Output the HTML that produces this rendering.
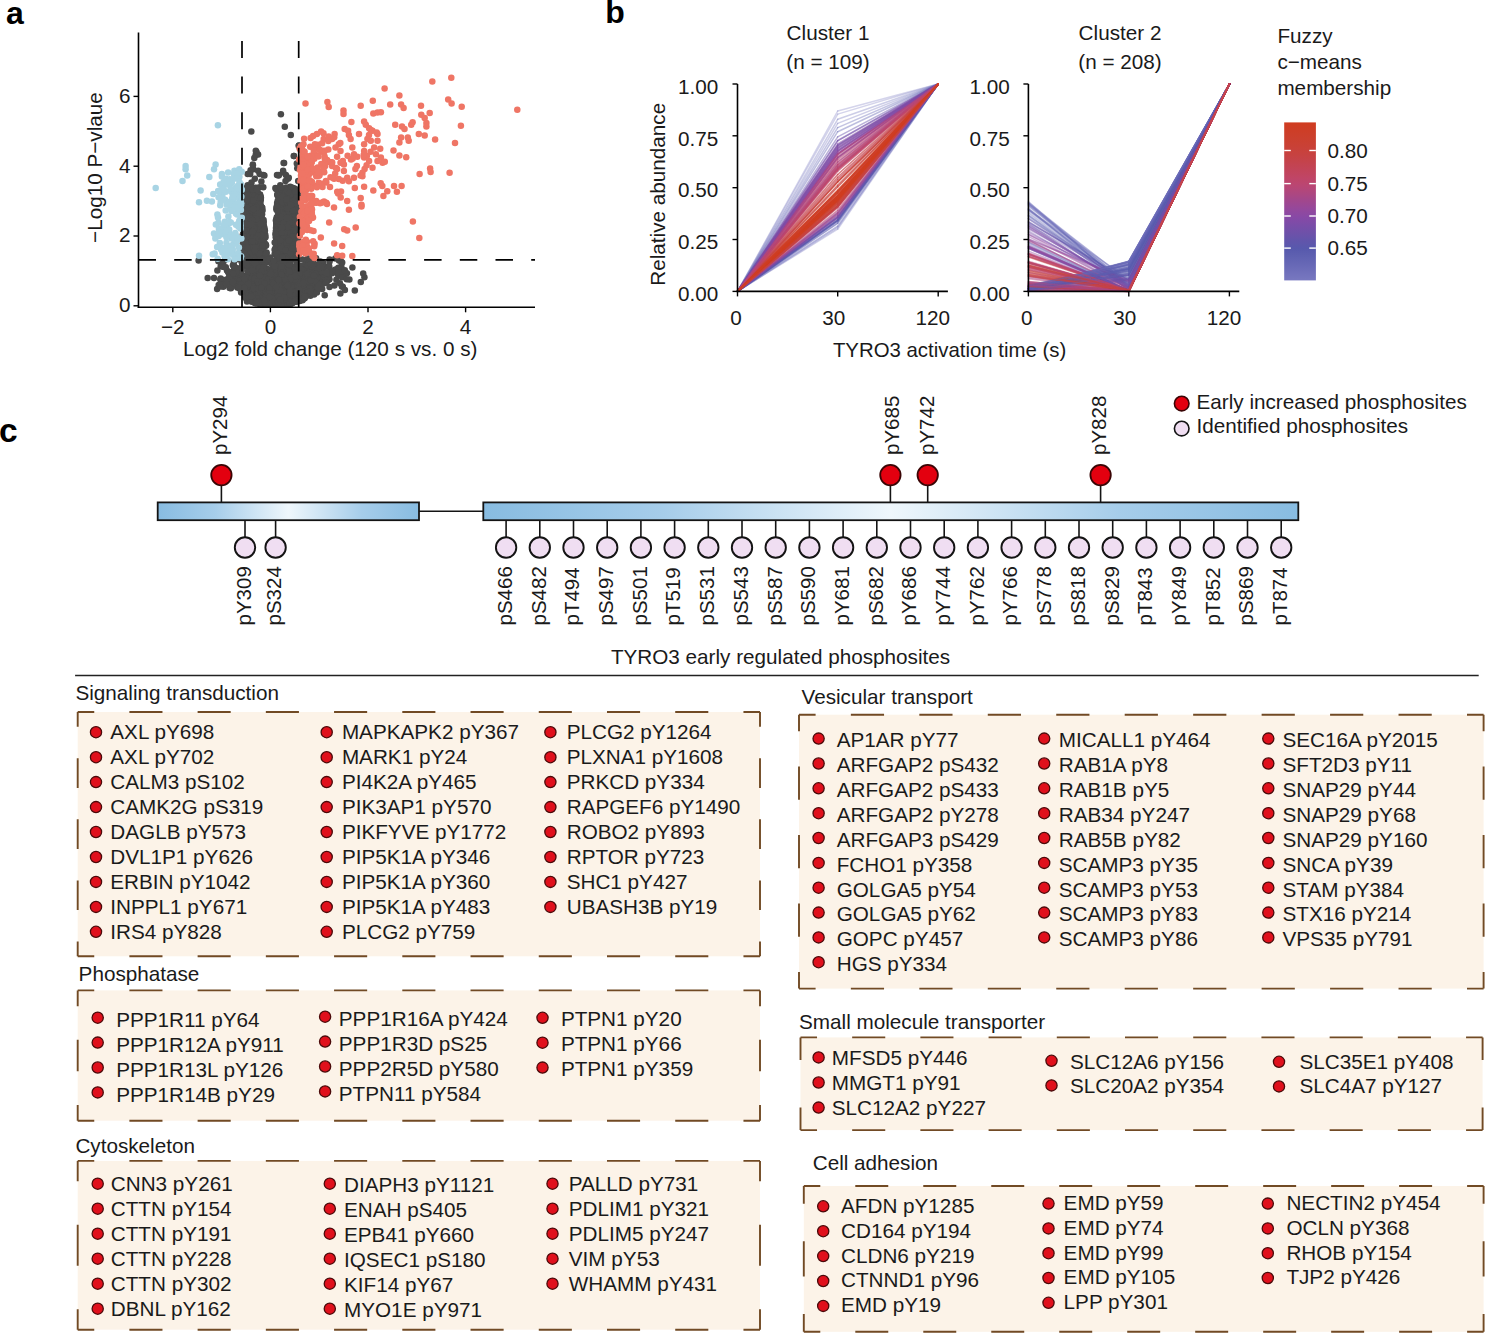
<!DOCTYPE html>
<html><head><meta charset="utf-8"><title>TYRO3 figure</title>
<style>
html,body{margin:0;padding:0;background:#fff;}
body{width:1485px;height:1334px;overflow:hidden;}
svg{display:block;font-family:"Liberation Sans", sans-serif;}
</style></head>
<body>
<svg width="1485" height="1334" viewBox="0 0 1485 1334">
<rect x="0" y="0" width="1485" height="1334" fill="#fff"/>
<defs><clipPath id="vclip"><rect x="138.5" y="22.5" width="396.5" height="284.8"/></clipPath></defs>
<g clip-path="url(#vclip)">
<g fill="#4a4a4a"><circle cx="198.6" cy="260.6" r="3.25"/><circle cx="207.7" cy="277.9" r="3.25"/><circle cx="214.0" cy="277.9" r="3.25"/><circle cx="220.3" cy="279.4" r="3.25"/><circle cx="217.1" cy="288.9" r="3.25"/><circle cx="223.4" cy="262.1" r="3.25"/><circle cx="232.9" cy="265.3" r="3.25"/><circle cx="251.3" cy="131.5" r="3.25"/><circle cx="256.5" cy="151.9" r="3.25"/><circle cx="255.7" cy="155.1" r="3.25"/><circle cx="252.9" cy="165.3" r="3.25"/><circle cx="280.9" cy="114.2" r="3.25"/><circle cx="284.8" cy="126.8" r="3.25"/><circle cx="290.8" cy="134.9" r="3.25"/><circle cx="293.8" cy="155.9" r="3.25"/><circle cx="283.6" cy="163.0" r="3.25"/><circle cx="299.0" cy="145.6" r="3.25"/><circle cx="253.3" cy="169.3" r="3.25"/><circle cx="259.6" cy="174.0" r="3.25"/><circle cx="264.4" cy="175.6" r="3.25"/><circle cx="250.2" cy="174.0" r="3.25"/><circle cx="278.5" cy="175.6" r="3.25"/><circle cx="283.2" cy="172.4" r="3.25"/><circle cx="288.0" cy="178.7" r="3.25"/><circle cx="275.4" cy="188.1" r="3.25"/><circle cx="248.6" cy="188.1" r="3.25"/><circle cx="352.4" cy="267.6" r="3.25"/><circle cx="363.2" cy="273.6" r="3.25"/><circle cx="364.4" cy="277.2" r="3.25"/><circle cx="360.8" cy="282.0" r="3.25"/><circle cx="354.8" cy="290.4" r="3.25"/><circle cx="349.4" cy="279.6" r="3.25"/><circle cx="344.0" cy="276.0" r="3.25"/><circle cx="338.0" cy="273.6" r="3.25"/><circle cx="334.4" cy="285.6" r="3.25"/><circle cx="342.8" cy="286.8" r="3.25"/><circle cx="329.6" cy="261.6" r="3.25"/><circle cx="326.0" cy="277.2" r="3.25"/><circle cx="255.8" cy="150.8" r="3.25"/><circle cx="258.1" cy="154.6" r="3.25"/><circle cx="254.3" cy="157.9" r="3.25"/><circle cx="252.9" cy="164.5" r="3.25"/><circle cx="250.6" cy="170.2" r="3.25"/><circle cx="247.7" cy="174.0" r="3.25"/><circle cx="258.1" cy="170.7" r="3.25"/><circle cx="263.3" cy="174.9" r="3.25"/><circle cx="261.4" cy="181.5" r="3.25"/><circle cx="254.8" cy="178.7" r="3.25"/><circle cx="247.7" cy="185.3" r="3.25"/><circle cx="251.5" cy="182.5" r="3.25"/><circle cx="294.0" cy="156.0" r="3.25"/><circle cx="284.1" cy="163.1" r="3.25"/><circle cx="296.8" cy="163.6" r="3.25"/><circle cx="283.1" cy="170.7" r="3.25"/><circle cx="277.0" cy="174.9" r="3.25"/><circle cx="278.9" cy="174.9" r="3.25"/><circle cx="285.9" cy="174.9" r="3.25"/><circle cx="288.8" cy="177.7" r="3.25"/><circle cx="285.5" cy="181.0" r="3.25"/><circle cx="298.2" cy="181.0" r="3.25"/><circle cx="297.3" cy="168.3" r="3.25"/><circle cx="290.2" cy="186.7" r="3.25"/><circle cx="280.3" cy="185.3" r="3.25"/><circle cx="276.0" cy="189.1" r="3.25"/><circle cx="298.7" cy="145.7" r="3.25"/><circle cx="259.5" cy="187.2" r="3.25"/><circle cx="263.3" cy="187.2" r="3.25"/><circle cx="255.3" cy="235.3" r="3.25"/><circle cx="255.2" cy="193.8" r="3.25"/><circle cx="255.2" cy="189.9" r="3.25"/><circle cx="253.1" cy="238.1" r="3.25"/><circle cx="256.1" cy="226.8" r="3.25"/><circle cx="256.4" cy="220.0" r="3.25"/><circle cx="254.9" cy="215.7" r="3.25"/><circle cx="259.6" cy="240.8" r="3.25"/><circle cx="249.2" cy="220.5" r="3.25"/><circle cx="248.1" cy="237.2" r="3.25"/><circle cx="249.6" cy="245.2" r="3.25"/><circle cx="261.3" cy="240.4" r="3.25"/><circle cx="264.0" cy="226.9" r="3.25"/><circle cx="248.6" cy="194.9" r="3.25"/><circle cx="258.3" cy="243.9" r="3.25"/><circle cx="256.3" cy="239.1" r="3.25"/><circle cx="263.1" cy="237.5" r="3.25"/><circle cx="243.0" cy="251.6" r="3.25"/><circle cx="254.8" cy="205.8" r="3.25"/><circle cx="258.6" cy="195.6" r="3.25"/><circle cx="264.0" cy="227.4" r="3.25"/><circle cx="250.9" cy="207.9" r="3.25"/><circle cx="252.0" cy="203.8" r="3.25"/><circle cx="261.6" cy="231.9" r="3.25"/><circle cx="261.3" cy="208.6" r="3.25"/><circle cx="247.1" cy="201.4" r="3.25"/><circle cx="258.7" cy="194.7" r="3.25"/><circle cx="244.9" cy="196.8" r="3.25"/><circle cx="243.7" cy="216.1" r="3.25"/><circle cx="243.8" cy="193.4" r="3.25"/><circle cx="244.3" cy="236.1" r="3.25"/><circle cx="244.8" cy="235.5" r="3.25"/><circle cx="247.0" cy="196.3" r="3.25"/><circle cx="248.7" cy="189.2" r="3.25"/><circle cx="266.1" cy="245.6" r="3.25"/><circle cx="258.6" cy="208.0" r="3.25"/><circle cx="245.1" cy="248.1" r="3.25"/><circle cx="246.2" cy="196.3" r="3.25"/><circle cx="260.0" cy="252.4" r="3.25"/><circle cx="253.3" cy="192.4" r="3.25"/><circle cx="252.3" cy="223.4" r="3.25"/><circle cx="252.7" cy="242.2" r="3.25"/><circle cx="257.3" cy="205.8" r="3.25"/><circle cx="253.6" cy="228.8" r="3.25"/><circle cx="256.8" cy="206.6" r="3.25"/><circle cx="242.9" cy="243.2" r="3.25"/><circle cx="244.5" cy="201.5" r="3.25"/><circle cx="247.0" cy="240.2" r="3.25"/><circle cx="257.0" cy="245.7" r="3.25"/><circle cx="255.1" cy="221.8" r="3.25"/><circle cx="260.4" cy="212.4" r="3.25"/><circle cx="261.7" cy="221.9" r="3.25"/><circle cx="261.3" cy="235.5" r="3.25"/><circle cx="251.0" cy="255.6" r="3.25"/><circle cx="243.8" cy="209.9" r="3.25"/><circle cx="261.0" cy="215.0" r="3.25"/><circle cx="263.3" cy="227.8" r="3.25"/><circle cx="245.5" cy="188.7" r="3.25"/><circle cx="242.7" cy="222.2" r="3.25"/><circle cx="247.0" cy="250.8" r="3.25"/><circle cx="249.5" cy="202.1" r="3.25"/><circle cx="259.7" cy="245.0" r="3.25"/><circle cx="252.6" cy="226.2" r="3.25"/><circle cx="257.6" cy="231.6" r="3.25"/><circle cx="259.8" cy="218.4" r="3.25"/><circle cx="246.0" cy="202.4" r="3.25"/><circle cx="248.6" cy="202.0" r="3.25"/><circle cx="260.1" cy="194.6" r="3.25"/><circle cx="253.1" cy="203.9" r="3.25"/><circle cx="254.6" cy="247.0" r="3.25"/><circle cx="256.5" cy="254.7" r="3.25"/><circle cx="254.0" cy="215.1" r="3.25"/><circle cx="256.2" cy="197.6" r="3.25"/><circle cx="255.5" cy="187.7" r="3.25"/><circle cx="256.3" cy="225.6" r="3.25"/><circle cx="255.7" cy="215.0" r="3.25"/><circle cx="256.4" cy="242.8" r="3.25"/><circle cx="248.0" cy="231.2" r="3.25"/><circle cx="259.0" cy="221.5" r="3.25"/><circle cx="247.7" cy="257.3" r="3.25"/><circle cx="248.7" cy="239.5" r="3.25"/><circle cx="249.8" cy="219.6" r="3.25"/><circle cx="253.8" cy="219.7" r="3.25"/><circle cx="259.0" cy="209.1" r="3.25"/><circle cx="249.8" cy="209.9" r="3.25"/><circle cx="253.6" cy="194.1" r="3.25"/><circle cx="252.2" cy="226.9" r="3.25"/><circle cx="252.6" cy="230.0" r="3.25"/><circle cx="263.5" cy="222.8" r="3.25"/><circle cx="257.0" cy="227.9" r="3.25"/><circle cx="243.0" cy="234.0" r="3.25"/><circle cx="257.5" cy="191.9" r="3.25"/><circle cx="252.6" cy="208.3" r="3.25"/><circle cx="264.0" cy="227.5" r="3.25"/><circle cx="245.7" cy="191.6" r="3.25"/><circle cx="260.3" cy="195.9" r="3.25"/><circle cx="259.1" cy="254.3" r="3.25"/><circle cx="256.4" cy="228.5" r="3.25"/><circle cx="252.3" cy="204.4" r="3.25"/><circle cx="262.2" cy="211.1" r="3.25"/><circle cx="262.3" cy="239.5" r="3.25"/><circle cx="251.7" cy="188.3" r="3.25"/><circle cx="250.0" cy="205.3" r="3.25"/><circle cx="251.9" cy="243.1" r="3.25"/><circle cx="252.3" cy="211.8" r="3.25"/><circle cx="246.4" cy="216.7" r="3.25"/><circle cx="247.9" cy="231.1" r="3.25"/><circle cx="255.2" cy="200.0" r="3.25"/><circle cx="257.9" cy="206.8" r="3.25"/><circle cx="260.9" cy="209.9" r="3.25"/><circle cx="246.0" cy="223.9" r="3.25"/><circle cx="249.4" cy="227.2" r="3.25"/><circle cx="247.2" cy="249.7" r="3.25"/><circle cx="255.4" cy="212.9" r="3.25"/><circle cx="249.8" cy="241.2" r="3.25"/><circle cx="249.7" cy="228.5" r="3.25"/><circle cx="244.6" cy="192.4" r="3.25"/><circle cx="259.6" cy="225.6" r="3.25"/><circle cx="263.5" cy="229.7" r="3.25"/><circle cx="245.7" cy="235.5" r="3.25"/><circle cx="254.9" cy="253.6" r="3.25"/><circle cx="262.2" cy="252.1" r="3.25"/><circle cx="260.9" cy="218.2" r="3.25"/><circle cx="250.4" cy="228.2" r="3.25"/><circle cx="246.2" cy="188.3" r="3.25"/><circle cx="256.9" cy="197.3" r="3.25"/><circle cx="256.0" cy="198.7" r="3.25"/><circle cx="251.2" cy="223.8" r="3.25"/><circle cx="265.5" cy="237.3" r="3.25"/><circle cx="255.2" cy="192.4" r="3.25"/><circle cx="256.1" cy="239.9" r="3.25"/><circle cx="255.7" cy="227.7" r="3.25"/><circle cx="244.4" cy="227.5" r="3.25"/><circle cx="260.8" cy="199.9" r="3.25"/><circle cx="268.0" cy="258.2" r="3.25"/><circle cx="245.7" cy="197.6" r="3.25"/><circle cx="258.5" cy="214.8" r="3.25"/><circle cx="257.1" cy="253.0" r="3.25"/><circle cx="251.3" cy="226.1" r="3.25"/><circle cx="254.1" cy="203.3" r="3.25"/><circle cx="244.9" cy="203.2" r="3.25"/><circle cx="249.2" cy="192.2" r="3.25"/><circle cx="248.9" cy="193.1" r="3.25"/><circle cx="255.1" cy="195.2" r="3.25"/><circle cx="251.8" cy="189.2" r="3.25"/><circle cx="243.2" cy="222.9" r="3.25"/><circle cx="248.3" cy="205.6" r="3.25"/><circle cx="250.5" cy="212.8" r="3.25"/><circle cx="250.8" cy="231.5" r="3.25"/><circle cx="260.7" cy="234.5" r="3.25"/><circle cx="256.9" cy="191.8" r="3.25"/><circle cx="263.2" cy="222.8" r="3.25"/><circle cx="263.9" cy="231.5" r="3.25"/><circle cx="251.4" cy="191.3" r="3.25"/><circle cx="253.0" cy="196.1" r="3.25"/><circle cx="258.1" cy="257.8" r="3.25"/><circle cx="254.2" cy="233.9" r="3.25"/><circle cx="243.4" cy="195.9" r="3.25"/><circle cx="244.7" cy="202.1" r="3.25"/><circle cx="258.9" cy="213.2" r="3.25"/><circle cx="256.2" cy="194.4" r="3.25"/><circle cx="250.0" cy="241.6" r="3.25"/><circle cx="246.4" cy="200.8" r="3.25"/><circle cx="257.2" cy="257.6" r="3.25"/><circle cx="262.4" cy="237.4" r="3.25"/><circle cx="243.7" cy="216.5" r="3.25"/><circle cx="257.8" cy="237.9" r="3.25"/><circle cx="247.7" cy="231.3" r="3.25"/><circle cx="248.9" cy="249.3" r="3.25"/><circle cx="251.3" cy="206.1" r="3.25"/><circle cx="246.6" cy="245.6" r="3.25"/><circle cx="258.4" cy="218.8" r="3.25"/><circle cx="244.7" cy="226.3" r="3.25"/><circle cx="251.7" cy="194.2" r="3.25"/><circle cx="259.2" cy="250.7" r="3.25"/><circle cx="259.6" cy="213.0" r="3.25"/><circle cx="253.3" cy="203.4" r="3.25"/><circle cx="246.0" cy="191.0" r="3.25"/><circle cx="261.6" cy="238.6" r="3.25"/><circle cx="264.3" cy="236.1" r="3.25"/><circle cx="243.2" cy="214.1" r="3.25"/><circle cx="260.7" cy="206.4" r="3.25"/><circle cx="255.6" cy="216.1" r="3.25"/><circle cx="255.8" cy="227.0" r="3.25"/><circle cx="251.8" cy="241.7" r="3.25"/><circle cx="246.7" cy="255.8" r="3.25"/><circle cx="254.8" cy="211.1" r="3.25"/><circle cx="262.4" cy="229.4" r="3.25"/><circle cx="243.1" cy="212.3" r="3.25"/><circle cx="255.5" cy="237.3" r="3.25"/><circle cx="259.1" cy="259.3" r="3.25"/><circle cx="261.6" cy="214.6" r="3.25"/><circle cx="242.9" cy="240.5" r="3.25"/><circle cx="249.8" cy="203.3" r="3.25"/><circle cx="246.0" cy="190.9" r="3.25"/><circle cx="250.7" cy="260.4" r="3.25"/><circle cx="264.7" cy="246.6" r="3.25"/><circle cx="246.1" cy="204.3" r="3.25"/><circle cx="250.1" cy="217.0" r="3.25"/><circle cx="259.4" cy="212.2" r="3.25"/><circle cx="257.1" cy="202.8" r="3.25"/><circle cx="264.5" cy="242.7" r="3.25"/><circle cx="245.3" cy="223.1" r="3.25"/><circle cx="244.0" cy="196.5" r="3.25"/><circle cx="246.9" cy="194.3" r="3.25"/><circle cx="255.1" cy="253.8" r="3.25"/><circle cx="257.0" cy="219.3" r="3.25"/><circle cx="244.9" cy="204.7" r="3.25"/><circle cx="258.4" cy="254.0" r="3.25"/><circle cx="247.3" cy="218.4" r="3.25"/><circle cx="262.1" cy="210.7" r="3.25"/><circle cx="254.1" cy="214.9" r="3.25"/><circle cx="246.1" cy="255.7" r="3.25"/><circle cx="258.7" cy="202.7" r="3.25"/><circle cx="252.6" cy="211.7" r="3.25"/><circle cx="259.3" cy="223.8" r="3.25"/><circle cx="254.7" cy="229.6" r="3.25"/><circle cx="260.1" cy="207.0" r="3.25"/><circle cx="248.3" cy="211.9" r="3.25"/><circle cx="263.9" cy="225.9" r="3.25"/><circle cx="243.0" cy="211.9" r="3.25"/><circle cx="251.0" cy="228.1" r="3.25"/><circle cx="245.9" cy="217.2" r="3.25"/><circle cx="262.3" cy="207.7" r="3.25"/><circle cx="243.0" cy="211.3" r="3.25"/><circle cx="248.1" cy="201.4" r="3.25"/><circle cx="251.3" cy="228.7" r="3.25"/><circle cx="244.2" cy="226.5" r="3.25"/><circle cx="260.9" cy="207.9" r="3.25"/><circle cx="257.8" cy="206.4" r="3.25"/><circle cx="253.8" cy="215.3" r="3.25"/><circle cx="252.9" cy="255.7" r="3.25"/><circle cx="246.8" cy="221.5" r="3.25"/><circle cx="245.9" cy="209.0" r="3.25"/><circle cx="250.2" cy="190.4" r="3.25"/><circle cx="253.8" cy="195.0" r="3.25"/><circle cx="264.6" cy="259.4" r="3.25"/><circle cx="248.6" cy="187.6" r="3.25"/><circle cx="260.6" cy="216.4" r="3.25"/><circle cx="254.1" cy="191.4" r="3.25"/><circle cx="245.9" cy="215.1" r="3.25"/><circle cx="243.3" cy="239.4" r="3.25"/><circle cx="243.4" cy="194.2" r="3.25"/><circle cx="263.4" cy="222.0" r="3.25"/><circle cx="247.3" cy="194.0" r="3.25"/><circle cx="244.2" cy="249.4" r="3.25"/><circle cx="255.6" cy="206.5" r="3.25"/><circle cx="248.0" cy="205.5" r="3.25"/><circle cx="262.7" cy="220.2" r="3.25"/><circle cx="255.1" cy="198.0" r="3.25"/><circle cx="261.2" cy="217.5" r="3.25"/><circle cx="258.9" cy="252.0" r="3.25"/><circle cx="259.7" cy="237.2" r="3.25"/><circle cx="251.2" cy="197.4" r="3.25"/><circle cx="251.9" cy="225.1" r="3.25"/><circle cx="259.4" cy="221.2" r="3.25"/><circle cx="247.2" cy="253.8" r="3.25"/><circle cx="244.1" cy="228.8" r="3.25"/><circle cx="259.6" cy="197.4" r="3.25"/><circle cx="249.7" cy="196.2" r="3.25"/><circle cx="257.0" cy="258.4" r="3.25"/><circle cx="251.1" cy="221.7" r="3.25"/><circle cx="255.4" cy="191.4" r="3.25"/><circle cx="256.1" cy="192.1" r="3.25"/><circle cx="247.7" cy="188.2" r="3.25"/><circle cx="260.3" cy="233.8" r="3.25"/><circle cx="248.5" cy="195.5" r="3.25"/><circle cx="253.7" cy="204.2" r="3.25"/><circle cx="252.2" cy="207.2" r="3.25"/><circle cx="263.7" cy="251.7" r="3.25"/><circle cx="250.4" cy="197.7" r="3.25"/><circle cx="263.1" cy="250.9" r="3.25"/><circle cx="262.7" cy="220.2" r="3.25"/><circle cx="256.2" cy="240.0" r="3.25"/><circle cx="255.9" cy="189.9" r="3.25"/><circle cx="259.7" cy="201.9" r="3.25"/><circle cx="246.9" cy="200.1" r="3.25"/><circle cx="251.3" cy="202.1" r="3.25"/><circle cx="264.4" cy="245.5" r="3.25"/><circle cx="257.9" cy="209.5" r="3.25"/><circle cx="258.1" cy="195.4" r="3.25"/><circle cx="258.2" cy="260.4" r="3.25"/><circle cx="250.8" cy="222.1" r="3.25"/><circle cx="256.6" cy="193.2" r="3.25"/><circle cx="249.9" cy="219.7" r="3.25"/><circle cx="256.3" cy="240.1" r="3.25"/><circle cx="247.7" cy="244.3" r="3.25"/><circle cx="251.4" cy="226.4" r="3.25"/><circle cx="250.9" cy="195.7" r="3.25"/><circle cx="244.9" cy="214.4" r="3.25"/><circle cx="245.2" cy="254.1" r="3.25"/><circle cx="260.9" cy="214.0" r="3.25"/><circle cx="265.3" cy="234.9" r="3.25"/><circle cx="246.2" cy="227.7" r="3.25"/><circle cx="251.8" cy="252.8" r="3.25"/><circle cx="257.0" cy="219.9" r="3.25"/><circle cx="245.3" cy="199.8" r="3.25"/><circle cx="244.0" cy="225.2" r="3.25"/><circle cx="260.1" cy="202.2" r="3.25"/><circle cx="248.9" cy="228.2" r="3.25"/><circle cx="266.5" cy="252.4" r="3.25"/><circle cx="254.3" cy="231.0" r="3.25"/><circle cx="256.0" cy="233.0" r="3.25"/><circle cx="254.6" cy="228.1" r="3.25"/><circle cx="254.3" cy="235.6" r="3.25"/><circle cx="248.3" cy="220.9" r="3.25"/><circle cx="257.6" cy="242.9" r="3.25"/><circle cx="250.8" cy="197.6" r="3.25"/><circle cx="259.2" cy="204.9" r="3.25"/><circle cx="248.5" cy="190.6" r="3.25"/><circle cx="246.3" cy="201.0" r="3.25"/><circle cx="258.6" cy="196.6" r="3.25"/><circle cx="252.7" cy="199.0" r="3.25"/><circle cx="247.9" cy="236.9" r="3.25"/><circle cx="256.9" cy="195.8" r="3.25"/><circle cx="249.2" cy="236.2" r="3.25"/><circle cx="261.1" cy="258.7" r="3.25"/><circle cx="256.9" cy="224.9" r="3.25"/><circle cx="248.2" cy="201.1" r="3.25"/><circle cx="258.4" cy="249.1" r="3.25"/><circle cx="254.5" cy="246.4" r="3.25"/><circle cx="243.3" cy="238.2" r="3.25"/><circle cx="262.3" cy="209.9" r="3.25"/><circle cx="247.5" cy="197.5" r="3.25"/><circle cx="249.7" cy="195.5" r="3.25"/><circle cx="263.6" cy="242.5" r="3.25"/><circle cx="254.5" cy="191.0" r="3.25"/><circle cx="245.8" cy="197.3" r="3.25"/><circle cx="257.7" cy="239.8" r="3.25"/><circle cx="243.0" cy="203.1" r="3.25"/><circle cx="257.4" cy="206.3" r="3.25"/><circle cx="254.0" cy="198.3" r="3.25"/><circle cx="259.0" cy="250.0" r="3.25"/><circle cx="256.3" cy="244.0" r="3.25"/><circle cx="249.8" cy="212.7" r="3.25"/><circle cx="259.3" cy="256.3" r="3.25"/><circle cx="252.9" cy="228.7" r="3.25"/><circle cx="260.5" cy="242.5" r="3.25"/><circle cx="243.4" cy="235.4" r="3.25"/><circle cx="248.0" cy="191.4" r="3.25"/><circle cx="246.0" cy="222.8" r="3.25"/><circle cx="254.4" cy="236.2" r="3.25"/><circle cx="257.9" cy="248.8" r="3.25"/><circle cx="246.7" cy="196.7" r="3.25"/><circle cx="262.1" cy="214.2" r="3.25"/><circle cx="249.6" cy="199.1" r="3.25"/><circle cx="242.9" cy="235.9" r="3.25"/><circle cx="260.5" cy="249.2" r="3.25"/><circle cx="245.0" cy="222.2" r="3.25"/><circle cx="242.9" cy="198.6" r="3.25"/><circle cx="249.3" cy="236.2" r="3.25"/><circle cx="253.6" cy="238.9" r="3.25"/><circle cx="248.0" cy="189.4" r="3.25"/><circle cx="250.6" cy="246.4" r="3.25"/><circle cx="245.3" cy="214.7" r="3.25"/><circle cx="249.4" cy="191.7" r="3.25"/><circle cx="258.3" cy="206.5" r="3.25"/><circle cx="248.4" cy="196.7" r="3.25"/><circle cx="254.2" cy="207.6" r="3.25"/><circle cx="247.0" cy="219.0" r="3.25"/><circle cx="245.3" cy="227.5" r="3.25"/><circle cx="248.5" cy="196.5" r="3.25"/><circle cx="243.4" cy="244.5" r="3.25"/><circle cx="252.2" cy="210.5" r="3.25"/><circle cx="260.4" cy="254.8" r="3.25"/><circle cx="251.0" cy="208.6" r="3.25"/><circle cx="247.7" cy="233.1" r="3.25"/><circle cx="248.7" cy="199.4" r="3.25"/><circle cx="261.4" cy="233.9" r="3.25"/><circle cx="247.8" cy="223.6" r="3.25"/><circle cx="250.3" cy="238.2" r="3.25"/><circle cx="260.0" cy="255.0" r="3.25"/><circle cx="248.3" cy="233.8" r="3.25"/><circle cx="256.3" cy="188.0" r="3.25"/><circle cx="246.6" cy="236.5" r="3.25"/><circle cx="243.2" cy="258.7" r="3.25"/><circle cx="252.1" cy="228.9" r="3.25"/><circle cx="256.0" cy="250.1" r="3.25"/><circle cx="256.5" cy="247.7" r="3.25"/><circle cx="249.2" cy="213.5" r="3.25"/><circle cx="258.4" cy="211.2" r="3.25"/><circle cx="258.7" cy="200.8" r="3.25"/><circle cx="253.8" cy="234.1" r="3.25"/><circle cx="263.5" cy="256.4" r="3.25"/><circle cx="257.9" cy="200.5" r="3.25"/><circle cx="246.2" cy="212.2" r="3.25"/><circle cx="246.5" cy="189.9" r="3.25"/><circle cx="245.3" cy="216.2" r="3.25"/><circle cx="244.6" cy="235.9" r="3.25"/><circle cx="261.2" cy="242.9" r="3.25"/><circle cx="250.1" cy="187.5" r="3.25"/><circle cx="245.4" cy="206.0" r="3.25"/><circle cx="253.4" cy="205.7" r="3.25"/><circle cx="248.3" cy="203.3" r="3.25"/><circle cx="243.7" cy="246.6" r="3.25"/><circle cx="250.5" cy="201.0" r="3.25"/><circle cx="261.2" cy="230.8" r="3.25"/><circle cx="258.5" cy="231.0" r="3.25"/><circle cx="263.6" cy="220.0" r="3.25"/><circle cx="252.8" cy="221.9" r="3.25"/><circle cx="265.8" cy="244.4" r="3.25"/><circle cx="251.6" cy="239.9" r="3.25"/><circle cx="251.4" cy="190.6" r="3.25"/><circle cx="260.7" cy="245.8" r="3.25"/><circle cx="250.9" cy="187.7" r="3.25"/><circle cx="246.3" cy="227.7" r="3.25"/><circle cx="258.5" cy="229.5" r="3.25"/><circle cx="261.6" cy="215.1" r="3.25"/><circle cx="250.4" cy="225.8" r="3.25"/><circle cx="251.0" cy="211.2" r="3.25"/><circle cx="248.8" cy="190.3" r="3.25"/><circle cx="256.4" cy="209.4" r="3.25"/><circle cx="252.1" cy="203.1" r="3.25"/><circle cx="247.4" cy="217.1" r="3.25"/><circle cx="261.1" cy="213.3" r="3.25"/><circle cx="246.0" cy="187.8" r="3.25"/><circle cx="262.5" cy="242.0" r="3.25"/><circle cx="258.0" cy="193.6" r="3.25"/><circle cx="244.9" cy="246.3" r="3.25"/><circle cx="243.0" cy="235.0" r="3.25"/><circle cx="254.8" cy="199.2" r="3.25"/><circle cx="255.0" cy="219.6" r="3.25"/><circle cx="246.5" cy="230.5" r="3.25"/><circle cx="250.6" cy="188.7" r="3.25"/><circle cx="244.7" cy="222.1" r="3.25"/><circle cx="252.0" cy="232.4" r="3.25"/><circle cx="254.3" cy="228.4" r="3.25"/><circle cx="265.2" cy="254.7" r="3.25"/><circle cx="251.9" cy="249.8" r="3.25"/><circle cx="246.4" cy="243.9" r="3.25"/><circle cx="266.5" cy="253.4" r="3.25"/><circle cx="255.6" cy="212.8" r="3.25"/><circle cx="245.3" cy="209.8" r="3.25"/><circle cx="243.9" cy="230.7" r="3.25"/><circle cx="249.7" cy="194.6" r="3.25"/><circle cx="248.5" cy="247.8" r="3.25"/><circle cx="249.7" cy="203.6" r="3.25"/><circle cx="248.1" cy="210.6" r="3.25"/><circle cx="263.1" cy="230.2" r="3.25"/><circle cx="261.3" cy="235.3" r="3.25"/><circle cx="259.4" cy="253.2" r="3.25"/><circle cx="244.4" cy="209.1" r="3.25"/><circle cx="261.5" cy="242.6" r="3.25"/><circle cx="250.0" cy="194.6" r="3.25"/><circle cx="260.6" cy="215.1" r="3.25"/><circle cx="243.8" cy="246.1" r="3.25"/><circle cx="246.1" cy="243.2" r="3.25"/><circle cx="245.4" cy="223.5" r="3.25"/><circle cx="258.3" cy="202.0" r="3.25"/><circle cx="261.5" cy="207.0" r="3.25"/><circle cx="257.9" cy="213.3" r="3.25"/><circle cx="250.2" cy="248.3" r="3.25"/><circle cx="243.7" cy="220.1" r="3.25"/><circle cx="260.6" cy="197.1" r="3.25"/><circle cx="246.0" cy="207.3" r="3.25"/><circle cx="260.2" cy="224.0" r="3.25"/><circle cx="251.7" cy="203.1" r="3.25"/><circle cx="251.0" cy="251.5" r="3.25"/><circle cx="250.7" cy="205.9" r="3.25"/><circle cx="244.6" cy="259.6" r="3.25"/><circle cx="245.1" cy="223.3" r="3.25"/><circle cx="256.7" cy="190.0" r="3.25"/><circle cx="251.3" cy="202.6" r="3.25"/><circle cx="256.8" cy="218.9" r="3.25"/><circle cx="249.6" cy="218.2" r="3.25"/><circle cx="251.2" cy="188.1" r="3.25"/><circle cx="257.5" cy="197.6" r="3.25"/><circle cx="257.5" cy="235.3" r="3.25"/><circle cx="250.6" cy="209.6" r="3.25"/><circle cx="253.0" cy="231.4" r="3.25"/><circle cx="264.8" cy="230.8" r="3.25"/><circle cx="243.3" cy="236.3" r="3.25"/><circle cx="250.1" cy="193.0" r="3.25"/><circle cx="245.3" cy="218.2" r="3.25"/><circle cx="244.8" cy="222.3" r="3.25"/><circle cx="243.6" cy="208.0" r="3.25"/><circle cx="257.0" cy="197.7" r="3.25"/><circle cx="250.9" cy="190.0" r="3.25"/><circle cx="255.5" cy="239.0" r="3.25"/><circle cx="249.2" cy="187.8" r="3.25"/><circle cx="250.4" cy="206.8" r="3.25"/><circle cx="251.0" cy="197.0" r="3.25"/><circle cx="262.7" cy="245.4" r="3.25"/><circle cx="244.3" cy="197.7" r="3.25"/><circle cx="246.0" cy="196.5" r="3.25"/><circle cx="246.6" cy="190.9" r="3.25"/><circle cx="252.0" cy="210.6" r="3.25"/><circle cx="251.7" cy="199.8" r="3.25"/><circle cx="256.4" cy="211.0" r="3.25"/><circle cx="264.9" cy="230.8" r="3.25"/><circle cx="260.5" cy="204.3" r="3.25"/><circle cx="247.4" cy="207.7" r="3.25"/><circle cx="252.4" cy="243.5" r="3.25"/><circle cx="252.3" cy="194.4" r="3.25"/><circle cx="258.6" cy="210.9" r="3.25"/><circle cx="252.9" cy="209.0" r="3.25"/><circle cx="246.4" cy="191.2" r="3.25"/><circle cx="243.8" cy="247.8" r="3.25"/><circle cx="249.0" cy="194.2" r="3.25"/><circle cx="253.0" cy="189.7" r="3.25"/><circle cx="246.5" cy="224.3" r="3.25"/><circle cx="252.3" cy="220.2" r="3.25"/><circle cx="251.7" cy="241.4" r="3.25"/><circle cx="257.0" cy="188.4" r="3.25"/><circle cx="256.5" cy="207.5" r="3.25"/><circle cx="264.4" cy="229.3" r="3.25"/><circle cx="255.3" cy="248.0" r="3.25"/><circle cx="254.8" cy="250.6" r="3.25"/><circle cx="260.9" cy="197.8" r="3.25"/><circle cx="251.5" cy="224.1" r="3.25"/><circle cx="253.7" cy="209.1" r="3.25"/><circle cx="243.0" cy="203.5" r="3.25"/><circle cx="246.1" cy="217.3" r="3.25"/><circle cx="248.0" cy="195.2" r="3.25"/><circle cx="247.2" cy="198.9" r="3.25"/><circle cx="252.9" cy="241.2" r="3.25"/><circle cx="256.9" cy="189.8" r="3.25"/><circle cx="247.7" cy="247.8" r="3.25"/><circle cx="243.6" cy="212.4" r="3.25"/><circle cx="253.3" cy="200.5" r="3.25"/><circle cx="292.8" cy="257.4" r="3.25"/><circle cx="290.8" cy="254.9" r="3.25"/><circle cx="286.8" cy="199.3" r="3.25"/><circle cx="276.8" cy="234.0" r="3.25"/><circle cx="295.3" cy="206.7" r="3.25"/><circle cx="294.8" cy="188.8" r="3.25"/><circle cx="293.8" cy="196.3" r="3.25"/><circle cx="293.0" cy="220.7" r="3.25"/><circle cx="295.5" cy="236.3" r="3.25"/><circle cx="295.4" cy="217.5" r="3.25"/><circle cx="286.7" cy="209.8" r="3.25"/><circle cx="283.7" cy="251.0" r="3.25"/><circle cx="285.7" cy="231.6" r="3.25"/><circle cx="278.7" cy="222.6" r="3.25"/><circle cx="279.1" cy="245.3" r="3.25"/><circle cx="291.4" cy="208.0" r="3.25"/><circle cx="292.3" cy="226.2" r="3.25"/><circle cx="291.6" cy="199.8" r="3.25"/><circle cx="289.0" cy="208.4" r="3.25"/><circle cx="280.1" cy="201.0" r="3.25"/><circle cx="284.3" cy="218.8" r="3.25"/><circle cx="297.2" cy="201.5" r="3.25"/><circle cx="297.1" cy="228.5" r="3.25"/><circle cx="283.9" cy="190.6" r="3.25"/><circle cx="284.1" cy="222.2" r="3.25"/><circle cx="280.4" cy="207.6" r="3.25"/><circle cx="284.6" cy="196.0" r="3.25"/><circle cx="285.4" cy="235.0" r="3.25"/><circle cx="281.8" cy="229.9" r="3.25"/><circle cx="296.1" cy="234.4" r="3.25"/><circle cx="277.1" cy="230.8" r="3.25"/><circle cx="285.8" cy="213.9" r="3.25"/><circle cx="276.8" cy="233.6" r="3.25"/><circle cx="284.2" cy="210.3" r="3.25"/><circle cx="292.5" cy="190.0" r="3.25"/><circle cx="277.8" cy="226.5" r="3.25"/><circle cx="288.8" cy="217.6" r="3.25"/><circle cx="289.0" cy="201.2" r="3.25"/><circle cx="288.9" cy="205.5" r="3.25"/><circle cx="287.2" cy="213.3" r="3.25"/><circle cx="290.0" cy="204.9" r="3.25"/><circle cx="283.6" cy="189.7" r="3.25"/><circle cx="280.7" cy="248.5" r="3.25"/><circle cx="293.2" cy="221.6" r="3.25"/><circle cx="278.6" cy="248.7" r="3.25"/><circle cx="294.0" cy="256.0" r="3.25"/><circle cx="296.0" cy="209.4" r="3.25"/><circle cx="288.0" cy="247.0" r="3.25"/><circle cx="281.4" cy="239.9" r="3.25"/><circle cx="285.3" cy="232.3" r="3.25"/><circle cx="287.2" cy="225.4" r="3.25"/><circle cx="290.9" cy="253.5" r="3.25"/><circle cx="296.8" cy="229.4" r="3.25"/><circle cx="285.7" cy="207.8" r="3.25"/><circle cx="279.4" cy="247.1" r="3.25"/><circle cx="282.9" cy="216.6" r="3.25"/><circle cx="297.0" cy="245.7" r="3.25"/><circle cx="279.2" cy="255.7" r="3.25"/><circle cx="282.2" cy="200.9" r="3.25"/><circle cx="276.6" cy="218.7" r="3.25"/><circle cx="288.9" cy="255.5" r="3.25"/><circle cx="285.5" cy="254.1" r="3.25"/><circle cx="294.3" cy="212.9" r="3.25"/><circle cx="290.0" cy="228.4" r="3.25"/><circle cx="290.1" cy="242.2" r="3.25"/><circle cx="291.5" cy="196.3" r="3.25"/><circle cx="285.7" cy="233.3" r="3.25"/><circle cx="281.7" cy="243.0" r="3.25"/><circle cx="274.6" cy="254.0" r="3.25"/><circle cx="284.8" cy="218.0" r="3.25"/><circle cx="276.8" cy="206.2" r="3.25"/><circle cx="280.5" cy="223.9" r="3.25"/><circle cx="284.9" cy="200.2" r="3.25"/><circle cx="287.5" cy="221.4" r="3.25"/><circle cx="286.1" cy="187.4" r="3.25"/><circle cx="281.3" cy="204.3" r="3.25"/><circle cx="292.5" cy="237.3" r="3.25"/><circle cx="283.3" cy="208.4" r="3.25"/><circle cx="284.0" cy="210.5" r="3.25"/><circle cx="279.7" cy="249.0" r="3.25"/><circle cx="279.2" cy="192.3" r="3.25"/><circle cx="292.8" cy="217.6" r="3.25"/><circle cx="286.3" cy="208.7" r="3.25"/><circle cx="287.9" cy="233.3" r="3.25"/><circle cx="295.3" cy="226.6" r="3.25"/><circle cx="294.1" cy="188.6" r="3.25"/><circle cx="288.9" cy="216.6" r="3.25"/><circle cx="297.0" cy="229.2" r="3.25"/><circle cx="288.4" cy="202.4" r="3.25"/><circle cx="295.5" cy="231.7" r="3.25"/><circle cx="285.9" cy="237.3" r="3.25"/><circle cx="282.0" cy="212.8" r="3.25"/><circle cx="286.3" cy="247.0" r="3.25"/><circle cx="277.8" cy="259.5" r="3.25"/><circle cx="285.1" cy="195.9" r="3.25"/><circle cx="281.4" cy="209.3" r="3.25"/><circle cx="286.6" cy="195.8" r="3.25"/><circle cx="277.3" cy="232.7" r="3.25"/><circle cx="284.7" cy="251.6" r="3.25"/><circle cx="288.2" cy="240.1" r="3.25"/><circle cx="298.0" cy="209.4" r="3.25"/><circle cx="298.1" cy="234.9" r="3.25"/><circle cx="290.8" cy="207.5" r="3.25"/><circle cx="285.7" cy="231.2" r="3.25"/><circle cx="292.6" cy="220.1" r="3.25"/><circle cx="296.5" cy="202.7" r="3.25"/><circle cx="291.6" cy="202.2" r="3.25"/><circle cx="280.8" cy="201.3" r="3.25"/><circle cx="289.2" cy="232.5" r="3.25"/><circle cx="286.6" cy="235.6" r="3.25"/><circle cx="296.3" cy="232.5" r="3.25"/><circle cx="290.5" cy="232.2" r="3.25"/><circle cx="297.5" cy="216.9" r="3.25"/><circle cx="276.3" cy="231.5" r="3.25"/><circle cx="291.2" cy="236.6" r="3.25"/><circle cx="279.6" cy="247.7" r="3.25"/><circle cx="285.7" cy="242.2" r="3.25"/><circle cx="294.8" cy="212.7" r="3.25"/><circle cx="298.1" cy="241.0" r="3.25"/><circle cx="280.2" cy="236.7" r="3.25"/><circle cx="295.1" cy="213.4" r="3.25"/><circle cx="278.7" cy="220.9" r="3.25"/><circle cx="283.5" cy="196.1" r="3.25"/><circle cx="281.2" cy="205.7" r="3.25"/><circle cx="297.7" cy="195.4" r="3.25"/><circle cx="276.8" cy="251.3" r="3.25"/><circle cx="293.9" cy="205.5" r="3.25"/><circle cx="287.4" cy="226.8" r="3.25"/><circle cx="292.0" cy="218.5" r="3.25"/><circle cx="277.9" cy="216.6" r="3.25"/><circle cx="287.1" cy="190.0" r="3.25"/><circle cx="287.8" cy="237.8" r="3.25"/><circle cx="282.8" cy="206.9" r="3.25"/><circle cx="290.4" cy="216.3" r="3.25"/><circle cx="277.8" cy="217.7" r="3.25"/><circle cx="277.6" cy="220.3" r="3.25"/><circle cx="290.7" cy="202.4" r="3.25"/><circle cx="280.8" cy="246.2" r="3.25"/><circle cx="295.2" cy="203.8" r="3.25"/><circle cx="288.4" cy="223.2" r="3.25"/><circle cx="295.4" cy="249.9" r="3.25"/><circle cx="295.0" cy="197.2" r="3.25"/><circle cx="291.4" cy="233.8" r="3.25"/><circle cx="297.8" cy="197.2" r="3.25"/><circle cx="282.4" cy="194.6" r="3.25"/><circle cx="288.9" cy="193.0" r="3.25"/><circle cx="277.9" cy="239.1" r="3.25"/><circle cx="292.1" cy="196.9" r="3.25"/><circle cx="293.9" cy="256.3" r="3.25"/><circle cx="296.0" cy="204.5" r="3.25"/><circle cx="288.1" cy="201.2" r="3.25"/><circle cx="296.6" cy="203.5" r="3.25"/><circle cx="284.2" cy="226.1" r="3.25"/><circle cx="283.3" cy="234.1" r="3.25"/><circle cx="291.8" cy="258.9" r="3.25"/><circle cx="296.5" cy="199.0" r="3.25"/><circle cx="276.6" cy="241.7" r="3.25"/><circle cx="287.9" cy="193.2" r="3.25"/><circle cx="286.9" cy="188.8" r="3.25"/><circle cx="277.1" cy="208.0" r="3.25"/><circle cx="278.3" cy="220.5" r="3.25"/><circle cx="294.1" cy="227.1" r="3.25"/><circle cx="297.1" cy="201.1" r="3.25"/><circle cx="288.5" cy="226.1" r="3.25"/><circle cx="282.1" cy="196.5" r="3.25"/><circle cx="297.8" cy="197.3" r="3.25"/><circle cx="285.5" cy="212.6" r="3.25"/><circle cx="280.0" cy="194.8" r="3.25"/><circle cx="293.1" cy="258.6" r="3.25"/><circle cx="291.5" cy="217.1" r="3.25"/><circle cx="290.8" cy="252.4" r="3.25"/><circle cx="283.5" cy="248.7" r="3.25"/><circle cx="282.9" cy="199.3" r="3.25"/><circle cx="279.6" cy="254.5" r="3.25"/><circle cx="289.0" cy="234.6" r="3.25"/><circle cx="283.3" cy="206.4" r="3.25"/><circle cx="292.3" cy="202.8" r="3.25"/><circle cx="296.3" cy="216.8" r="3.25"/><circle cx="294.5" cy="252.1" r="3.25"/><circle cx="276.3" cy="225.5" r="3.25"/><circle cx="290.1" cy="231.4" r="3.25"/><circle cx="277.0" cy="219.1" r="3.25"/><circle cx="282.3" cy="226.5" r="3.25"/><circle cx="282.6" cy="217.7" r="3.25"/><circle cx="288.0" cy="232.6" r="3.25"/><circle cx="276.0" cy="237.4" r="3.25"/><circle cx="281.1" cy="217.2" r="3.25"/><circle cx="296.6" cy="259.8" r="3.25"/><circle cx="276.3" cy="222.9" r="3.25"/><circle cx="282.9" cy="240.9" r="3.25"/><circle cx="287.2" cy="205.8" r="3.25"/><circle cx="277.2" cy="243.5" r="3.25"/><circle cx="282.8" cy="208.5" r="3.25"/><circle cx="289.7" cy="224.9" r="3.25"/><circle cx="283.1" cy="224.7" r="3.25"/><circle cx="288.6" cy="207.3" r="3.25"/><circle cx="296.9" cy="230.5" r="3.25"/><circle cx="276.9" cy="244.5" r="3.25"/><circle cx="290.8" cy="222.4" r="3.25"/><circle cx="276.0" cy="228.0" r="3.25"/><circle cx="283.9" cy="241.9" r="3.25"/><circle cx="292.1" cy="202.3" r="3.25"/><circle cx="297.1" cy="194.3" r="3.25"/><circle cx="286.3" cy="216.8" r="3.25"/><circle cx="289.8" cy="227.6" r="3.25"/><circle cx="285.8" cy="256.5" r="3.25"/><circle cx="278.6" cy="218.0" r="3.25"/><circle cx="276.3" cy="253.6" r="3.25"/><circle cx="288.6" cy="204.9" r="3.25"/><circle cx="294.4" cy="189.9" r="3.25"/><circle cx="282.4" cy="196.2" r="3.25"/><circle cx="292.7" cy="205.4" r="3.25"/><circle cx="290.2" cy="201.9" r="3.25"/><circle cx="282.3" cy="252.6" r="3.25"/><circle cx="290.3" cy="231.6" r="3.25"/><circle cx="275.7" cy="253.4" r="3.25"/><circle cx="281.9" cy="209.1" r="3.25"/><circle cx="283.9" cy="236.5" r="3.25"/><circle cx="290.5" cy="205.2" r="3.25"/><circle cx="276.5" cy="222.4" r="3.25"/><circle cx="276.6" cy="223.6" r="3.25"/><circle cx="296.6" cy="220.8" r="3.25"/><circle cx="287.3" cy="236.1" r="3.25"/><circle cx="296.0" cy="196.4" r="3.25"/><circle cx="298.1" cy="245.7" r="3.25"/><circle cx="278.6" cy="244.1" r="3.25"/><circle cx="283.9" cy="233.3" r="3.25"/><circle cx="297.9" cy="240.1" r="3.25"/><circle cx="277.3" cy="194.8" r="3.25"/><circle cx="297.8" cy="239.1" r="3.25"/><circle cx="298.2" cy="226.5" r="3.25"/><circle cx="292.9" cy="193.9" r="3.25"/><circle cx="284.2" cy="230.6" r="3.25"/><circle cx="291.0" cy="221.6" r="3.25"/><circle cx="275.6" cy="234.2" r="3.25"/><circle cx="282.8" cy="249.0" r="3.25"/><circle cx="275.8" cy="237.1" r="3.25"/><circle cx="285.6" cy="211.3" r="3.25"/><circle cx="290.6" cy="251.6" r="3.25"/><circle cx="277.1" cy="203.1" r="3.25"/><circle cx="295.8" cy="231.2" r="3.25"/><circle cx="278.9" cy="196.4" r="3.25"/><circle cx="280.4" cy="239.7" r="3.25"/><circle cx="283.9" cy="242.1" r="3.25"/><circle cx="278.3" cy="220.3" r="3.25"/><circle cx="292.4" cy="232.7" r="3.25"/><circle cx="290.6" cy="245.2" r="3.25"/><circle cx="288.9" cy="226.9" r="3.25"/><circle cx="285.9" cy="204.5" r="3.25"/><circle cx="288.4" cy="258.6" r="3.25"/><circle cx="283.8" cy="235.4" r="3.25"/><circle cx="290.5" cy="235.6" r="3.25"/><circle cx="295.9" cy="215.5" r="3.25"/><circle cx="293.2" cy="213.7" r="3.25"/><circle cx="283.2" cy="248.1" r="3.25"/><circle cx="295.6" cy="193.6" r="3.25"/><circle cx="282.3" cy="234.9" r="3.25"/><circle cx="291.2" cy="209.1" r="3.25"/><circle cx="292.2" cy="235.3" r="3.25"/><circle cx="286.1" cy="190.8" r="3.25"/><circle cx="294.9" cy="244.9" r="3.25"/><circle cx="297.6" cy="210.6" r="3.25"/><circle cx="279.2" cy="204.9" r="3.25"/><circle cx="275.6" cy="247.5" r="3.25"/><circle cx="283.1" cy="200.1" r="3.25"/><circle cx="277.6" cy="195.5" r="3.25"/><circle cx="297.9" cy="203.5" r="3.25"/><circle cx="280.7" cy="250.7" r="3.25"/><circle cx="279.9" cy="205.5" r="3.25"/><circle cx="288.7" cy="229.3" r="3.25"/><circle cx="297.2" cy="242.2" r="3.25"/><circle cx="295.2" cy="249.7" r="3.25"/><circle cx="295.5" cy="213.1" r="3.25"/><circle cx="281.1" cy="197.8" r="3.25"/><circle cx="281.2" cy="238.7" r="3.25"/><circle cx="277.5" cy="227.4" r="3.25"/><circle cx="291.0" cy="253.2" r="3.25"/><circle cx="283.7" cy="222.0" r="3.25"/><circle cx="291.0" cy="193.3" r="3.25"/><circle cx="276.1" cy="230.4" r="3.25"/><circle cx="292.1" cy="248.0" r="3.25"/><circle cx="279.3" cy="205.9" r="3.25"/><circle cx="297.9" cy="244.0" r="3.25"/><circle cx="282.1" cy="213.5" r="3.25"/><circle cx="286.1" cy="248.3" r="3.25"/><circle cx="294.4" cy="199.8" r="3.25"/><circle cx="290.4" cy="195.2" r="3.25"/><circle cx="278.1" cy="209.7" r="3.25"/><circle cx="296.6" cy="198.1" r="3.25"/><circle cx="292.5" cy="193.6" r="3.25"/><circle cx="292.9" cy="206.0" r="3.25"/><circle cx="287.5" cy="212.0" r="3.25"/><circle cx="279.3" cy="225.7" r="3.25"/><circle cx="290.0" cy="249.7" r="3.25"/><circle cx="283.8" cy="193.4" r="3.25"/><circle cx="294.7" cy="198.9" r="3.25"/><circle cx="284.8" cy="189.6" r="3.25"/><circle cx="290.4" cy="187.7" r="3.25"/><circle cx="288.0" cy="218.3" r="3.25"/><circle cx="279.0" cy="226.8" r="3.25"/><circle cx="291.4" cy="193.5" r="3.25"/><circle cx="296.0" cy="189.6" r="3.25"/><circle cx="276.3" cy="238.3" r="3.25"/><circle cx="288.9" cy="224.1" r="3.25"/><circle cx="289.9" cy="247.2" r="3.25"/><circle cx="294.6" cy="216.0" r="3.25"/><circle cx="282.6" cy="229.2" r="3.25"/><circle cx="294.6" cy="199.1" r="3.25"/><circle cx="292.4" cy="191.9" r="3.25"/><circle cx="282.5" cy="189.0" r="3.25"/><circle cx="292.5" cy="224.9" r="3.25"/><circle cx="286.6" cy="193.1" r="3.25"/><circle cx="279.4" cy="246.0" r="3.25"/><circle cx="281.2" cy="220.9" r="3.25"/><circle cx="282.8" cy="235.1" r="3.25"/><circle cx="292.3" cy="221.9" r="3.25"/><circle cx="279.3" cy="218.4" r="3.25"/><circle cx="289.8" cy="243.5" r="3.25"/><circle cx="292.8" cy="188.2" r="3.25"/><circle cx="287.5" cy="218.7" r="3.25"/><circle cx="296.2" cy="200.9" r="3.25"/><circle cx="291.6" cy="242.5" r="3.25"/><circle cx="287.4" cy="218.2" r="3.25"/><circle cx="297.5" cy="224.8" r="3.25"/><circle cx="288.6" cy="198.9" r="3.25"/><circle cx="279.0" cy="223.7" r="3.25"/><circle cx="281.1" cy="206.8" r="3.25"/><circle cx="294.4" cy="194.7" r="3.25"/><circle cx="295.0" cy="215.7" r="3.25"/><circle cx="283.5" cy="256.9" r="3.25"/><circle cx="283.6" cy="230.1" r="3.25"/><circle cx="281.2" cy="201.2" r="3.25"/><circle cx="294.7" cy="225.4" r="3.25"/><circle cx="297.9" cy="232.1" r="3.25"/><circle cx="296.8" cy="243.9" r="3.25"/><circle cx="286.0" cy="209.0" r="3.25"/><circle cx="295.8" cy="215.6" r="3.25"/><circle cx="279.7" cy="236.0" r="3.25"/><circle cx="275.8" cy="255.0" r="3.25"/><circle cx="288.4" cy="221.2" r="3.25"/><circle cx="283.5" cy="222.4" r="3.25"/><circle cx="287.2" cy="197.4" r="3.25"/><circle cx="276.8" cy="233.8" r="3.25"/><circle cx="280.2" cy="208.4" r="3.25"/><circle cx="287.2" cy="203.6" r="3.25"/><circle cx="287.7" cy="195.7" r="3.25"/><circle cx="292.0" cy="205.6" r="3.25"/><circle cx="292.3" cy="225.7" r="3.25"/><circle cx="283.8" cy="241.9" r="3.25"/><circle cx="285.7" cy="229.0" r="3.25"/><circle cx="282.2" cy="217.1" r="3.25"/><circle cx="278.6" cy="236.2" r="3.25"/><circle cx="284.0" cy="249.1" r="3.25"/><circle cx="288.9" cy="217.6" r="3.25"/><circle cx="297.7" cy="193.0" r="3.25"/><circle cx="291.9" cy="255.6" r="3.25"/><circle cx="294.2" cy="195.8" r="3.25"/><circle cx="294.1" cy="245.5" r="3.25"/><circle cx="296.8" cy="204.4" r="3.25"/><circle cx="296.3" cy="245.0" r="3.25"/><circle cx="279.3" cy="231.7" r="3.25"/><circle cx="283.1" cy="213.8" r="3.25"/><circle cx="281.7" cy="223.0" r="3.25"/><circle cx="293.5" cy="248.2" r="3.25"/><circle cx="286.9" cy="212.7" r="3.25"/><circle cx="297.0" cy="202.2" r="3.25"/><circle cx="289.1" cy="191.2" r="3.25"/><circle cx="275.9" cy="231.2" r="3.25"/><circle cx="281.0" cy="227.5" r="3.25"/><circle cx="285.3" cy="205.2" r="3.25"/><circle cx="277.3" cy="255.2" r="3.25"/><circle cx="287.8" cy="246.7" r="3.25"/><circle cx="277.8" cy="200.6" r="3.25"/><circle cx="280.3" cy="247.4" r="3.25"/><circle cx="277.6" cy="193.9" r="3.25"/><circle cx="278.7" cy="214.6" r="3.25"/><circle cx="291.9" cy="205.4" r="3.25"/><circle cx="287.2" cy="215.0" r="3.25"/><circle cx="297.3" cy="209.9" r="3.25"/><circle cx="279.6" cy="201.6" r="3.25"/><circle cx="281.3" cy="194.0" r="3.25"/><circle cx="280.7" cy="188.4" r="3.25"/><circle cx="280.1" cy="224.2" r="3.25"/><circle cx="281.5" cy="247.0" r="3.25"/><circle cx="284.3" cy="259.5" r="3.25"/><circle cx="280.5" cy="245.2" r="3.25"/><circle cx="280.1" cy="207.9" r="3.25"/><circle cx="284.2" cy="225.2" r="3.25"/><circle cx="277.5" cy="209.0" r="3.25"/><circle cx="294.0" cy="250.8" r="3.25"/><circle cx="288.3" cy="233.4" r="3.25"/><circle cx="286.3" cy="256.9" r="3.25"/><circle cx="286.7" cy="204.2" r="3.25"/><circle cx="288.6" cy="202.3" r="3.25"/><circle cx="298.1" cy="250.6" r="3.25"/><circle cx="284.7" cy="209.0" r="3.25"/><circle cx="289.0" cy="197.5" r="3.25"/><circle cx="279.1" cy="255.7" r="3.25"/><circle cx="285.3" cy="198.7" r="3.25"/><circle cx="279.3" cy="194.2" r="3.25"/><circle cx="295.2" cy="193.7" r="3.25"/><circle cx="291.4" cy="194.3" r="3.25"/><circle cx="292.8" cy="245.2" r="3.25"/><circle cx="292.7" cy="233.7" r="3.25"/><circle cx="278.9" cy="217.4" r="3.25"/><circle cx="289.5" cy="253.4" r="3.25"/><circle cx="279.6" cy="207.2" r="3.25"/><circle cx="290.0" cy="203.2" r="3.25"/><circle cx="281.4" cy="189.3" r="3.25"/><circle cx="278.8" cy="233.9" r="3.25"/><circle cx="279.6" cy="197.0" r="3.25"/><circle cx="288.4" cy="188.1" r="3.25"/><circle cx="279.5" cy="195.9" r="3.25"/><circle cx="283.7" cy="228.1" r="3.25"/><circle cx="285.1" cy="229.4" r="3.25"/><circle cx="297.9" cy="228.0" r="3.25"/><circle cx="293.3" cy="217.8" r="3.25"/><circle cx="289.0" cy="218.1" r="3.25"/><circle cx="292.2" cy="222.7" r="3.25"/><circle cx="274.6" cy="249.7" r="3.25"/><circle cx="283.8" cy="227.1" r="3.25"/><circle cx="281.3" cy="248.3" r="3.25"/><circle cx="290.2" cy="246.8" r="3.25"/><circle cx="277.8" cy="241.1" r="3.25"/><circle cx="297.0" cy="196.4" r="3.25"/><circle cx="284.6" cy="189.9" r="3.25"/><circle cx="295.2" cy="245.7" r="3.25"/><circle cx="294.9" cy="214.6" r="3.25"/><circle cx="285.5" cy="250.2" r="3.25"/><circle cx="276.4" cy="209.4" r="3.25"/><circle cx="278.4" cy="221.7" r="3.25"/><circle cx="284.5" cy="220.6" r="3.25"/><circle cx="291.9" cy="251.2" r="3.25"/><circle cx="286.5" cy="218.8" r="3.25"/><circle cx="296.9" cy="200.9" r="3.25"/><circle cx="296.0" cy="238.9" r="3.25"/><circle cx="283.3" cy="215.1" r="3.25"/><circle cx="298.0" cy="212.9" r="3.25"/><circle cx="287.2" cy="240.3" r="3.25"/><circle cx="276.5" cy="241.3" r="3.25"/><circle cx="276.8" cy="217.2" r="3.25"/><circle cx="285.3" cy="190.5" r="3.25"/><circle cx="285.1" cy="221.7" r="3.25"/><circle cx="280.3" cy="208.3" r="3.25"/><circle cx="295.8" cy="259.2" r="3.25"/><circle cx="282.1" cy="239.7" r="3.25"/><circle cx="291.9" cy="187.4" r="3.25"/><circle cx="279.8" cy="242.1" r="3.25"/><circle cx="284.9" cy="242.8" r="3.25"/><circle cx="284.4" cy="221.0" r="3.25"/><circle cx="293.1" cy="207.0" r="3.25"/><circle cx="284.5" cy="203.3" r="3.25"/><circle cx="280.0" cy="240.2" r="3.25"/><circle cx="294.6" cy="211.0" r="3.25"/><circle cx="290.6" cy="206.4" r="3.25"/><circle cx="280.4" cy="200.3" r="3.25"/><circle cx="281.8" cy="201.8" r="3.25"/><circle cx="281.2" cy="188.6" r="3.25"/><circle cx="294.6" cy="201.2" r="3.25"/><circle cx="284.8" cy="235.8" r="3.25"/><circle cx="294.1" cy="257.7" r="3.25"/><circle cx="288.9" cy="217.6" r="3.25"/><circle cx="293.5" cy="233.5" r="3.25"/><circle cx="292.6" cy="230.3" r="3.25"/><circle cx="286.8" cy="198.2" r="3.25"/><circle cx="282.4" cy="197.0" r="3.25"/><circle cx="285.8" cy="189.8" r="3.25"/><circle cx="288.3" cy="192.3" r="3.25"/><circle cx="298.1" cy="221.6" r="3.25"/><circle cx="284.2" cy="189.0" r="3.25"/><circle cx="292.0" cy="242.8" r="3.25"/><circle cx="282.2" cy="202.1" r="3.25"/><circle cx="289.8" cy="232.0" r="3.25"/><circle cx="292.0" cy="244.4" r="3.25"/><circle cx="274.7" cy="242.5" r="3.25"/><circle cx="291.7" cy="253.4" r="3.25"/><circle cx="295.1" cy="249.4" r="3.25"/><circle cx="295.5" cy="191.3" r="3.25"/><circle cx="295.5" cy="206.3" r="3.25"/><circle cx="284.0" cy="232.7" r="3.25"/><circle cx="279.5" cy="210.6" r="3.25"/><circle cx="282.3" cy="257.6" r="3.25"/><circle cx="295.4" cy="251.0" r="3.25"/><circle cx="290.4" cy="253.0" r="3.25"/><circle cx="286.6" cy="242.7" r="3.25"/><circle cx="275.9" cy="220.4" r="3.25"/><circle cx="276.7" cy="236.6" r="3.25"/><circle cx="288.1" cy="227.6" r="3.25"/><circle cx="295.3" cy="229.9" r="3.25"/><circle cx="289.1" cy="238.2" r="3.25"/><circle cx="283.8" cy="222.7" r="3.25"/><circle cx="276.5" cy="208.0" r="3.25"/><circle cx="280.1" cy="231.9" r="3.25"/><circle cx="289.6" cy="222.5" r="3.25"/><circle cx="281.9" cy="232.3" r="3.25"/><circle cx="288.2" cy="203.3" r="3.25"/><circle cx="277.3" cy="207.2" r="3.25"/><circle cx="287.8" cy="227.0" r="3.25"/><circle cx="286.4" cy="208.3" r="3.25"/><circle cx="275.7" cy="233.8" r="3.25"/><circle cx="294.3" cy="211.8" r="3.25"/><circle cx="293.6" cy="200.9" r="3.25"/><circle cx="276.9" cy="253.9" r="3.25"/><circle cx="290.2" cy="202.9" r="3.25"/><circle cx="295.1" cy="210.1" r="3.25"/><circle cx="287.6" cy="208.6" r="3.25"/><circle cx="292.5" cy="236.8" r="3.25"/><circle cx="278.6" cy="218.3" r="3.25"/><circle cx="281.0" cy="187.8" r="3.25"/><circle cx="281.2" cy="217.0" r="3.25"/><circle cx="293.1" cy="210.6" r="3.25"/><circle cx="282.0" cy="227.4" r="3.25"/><circle cx="294.9" cy="203.2" r="3.25"/><circle cx="277.7" cy="211.6" r="3.25"/><circle cx="286.7" cy="218.1" r="3.25"/><circle cx="286.2" cy="199.8" r="3.25"/><circle cx="293.7" cy="249.2" r="3.25"/><circle cx="291.1" cy="205.0" r="3.25"/><circle cx="292.1" cy="248.7" r="3.25"/><circle cx="289.0" cy="240.7" r="3.25"/><circle cx="297.1" cy="289.8" r="3.25"/><circle cx="276.3" cy="303.3" r="3.25"/><circle cx="262.0" cy="273.0" r="3.25"/><circle cx="310.4" cy="261.2" r="3.25"/><circle cx="323.6" cy="273.7" r="3.25"/><circle cx="259.0" cy="294.5" r="3.25"/><circle cx="274.9" cy="302.5" r="3.25"/><circle cx="292.3" cy="292.0" r="3.25"/><circle cx="286.3" cy="295.4" r="3.25"/><circle cx="294.5" cy="292.1" r="3.25"/><circle cx="296.1" cy="296.7" r="3.25"/><circle cx="234.6" cy="269.6" r="3.25"/><circle cx="295.7" cy="277.4" r="3.25"/><circle cx="248.5" cy="288.5" r="3.25"/><circle cx="256.3" cy="268.3" r="3.25"/><circle cx="251.6" cy="265.2" r="3.25"/><circle cx="281.9" cy="302.0" r="3.25"/><circle cx="254.2" cy="300.6" r="3.25"/><circle cx="284.9" cy="264.4" r="3.25"/><circle cx="254.6" cy="297.3" r="3.25"/><circle cx="312.3" cy="290.5" r="3.25"/><circle cx="269.0" cy="299.0" r="3.25"/><circle cx="281.1" cy="267.0" r="3.25"/><circle cx="261.0" cy="302.1" r="3.25"/><circle cx="268.4" cy="300.0" r="3.25"/><circle cx="292.6" cy="301.7" r="3.25"/><circle cx="279.8" cy="298.5" r="3.25"/><circle cx="258.5" cy="293.6" r="3.25"/><circle cx="268.1" cy="273.3" r="3.25"/><circle cx="274.0" cy="299.4" r="3.25"/><circle cx="300.0" cy="299.7" r="3.25"/><circle cx="274.7" cy="298.2" r="3.25"/><circle cx="286.4" cy="287.3" r="3.25"/><circle cx="294.8" cy="277.1" r="3.25"/><circle cx="250.5" cy="260.0" r="3.25"/><circle cx="254.9" cy="268.1" r="3.25"/><circle cx="335.3" cy="258.5" r="3.25"/><circle cx="285.6" cy="288.1" r="3.25"/><circle cx="245.4" cy="292.4" r="3.25"/><circle cx="269.1" cy="297.6" r="3.25"/><circle cx="269.9" cy="298.1" r="3.25"/><circle cx="271.8" cy="286.4" r="3.25"/><circle cx="284.3" cy="301.0" r="3.25"/><circle cx="292.0" cy="284.7" r="3.25"/><circle cx="309.5" cy="278.8" r="3.25"/><circle cx="244.5" cy="290.2" r="3.25"/><circle cx="280.4" cy="298.9" r="3.25"/><circle cx="273.7" cy="295.6" r="3.25"/><circle cx="263.0" cy="304.5" r="3.25"/><circle cx="296.8" cy="282.0" r="3.25"/><circle cx="245.1" cy="266.5" r="3.25"/><circle cx="253.1" cy="289.8" r="3.25"/><circle cx="284.7" cy="291.1" r="3.25"/><circle cx="299.4" cy="276.0" r="3.25"/><circle cx="309.6" cy="278.1" r="3.25"/><circle cx="255.0" cy="289.5" r="3.25"/><circle cx="305.2" cy="285.8" r="3.25"/><circle cx="277.1" cy="302.5" r="3.25"/><circle cx="293.5" cy="274.2" r="3.25"/><circle cx="295.7" cy="283.1" r="3.25"/><circle cx="292.2" cy="283.1" r="3.25"/><circle cx="271.2" cy="278.9" r="3.25"/><circle cx="277.7" cy="289.8" r="3.25"/><circle cx="281.0" cy="289.3" r="3.25"/><circle cx="298.9" cy="286.4" r="3.25"/><circle cx="220.7" cy="266.2" r="3.25"/><circle cx="297.0" cy="298.0" r="3.25"/><circle cx="260.7" cy="286.5" r="3.25"/><circle cx="310.4" cy="295.7" r="3.25"/><circle cx="280.9" cy="305.3" r="3.25"/><circle cx="313.4" cy="285.3" r="3.25"/><circle cx="273.6" cy="294.8" r="3.25"/><circle cx="314.5" cy="283.6" r="3.25"/><circle cx="284.5" cy="292.9" r="3.25"/><circle cx="281.7" cy="301.0" r="3.25"/><circle cx="289.4" cy="281.0" r="3.25"/><circle cx="255.8" cy="299.0" r="3.25"/><circle cx="255.1" cy="301.6" r="3.25"/><circle cx="285.0" cy="263.4" r="3.25"/><circle cx="274.5" cy="284.3" r="3.25"/><circle cx="285.8" cy="303.3" r="3.25"/><circle cx="281.9" cy="297.5" r="3.25"/><circle cx="301.8" cy="287.5" r="3.25"/><circle cx="265.5" cy="290.2" r="3.25"/><circle cx="283.0" cy="294.1" r="3.25"/><circle cx="268.7" cy="279.3" r="3.25"/><circle cx="259.0" cy="295.4" r="3.25"/><circle cx="279.1" cy="266.7" r="3.25"/><circle cx="261.1" cy="288.6" r="3.25"/><circle cx="267.5" cy="276.0" r="3.25"/><circle cx="260.7" cy="290.0" r="3.25"/><circle cx="262.0" cy="302.7" r="3.25"/><circle cx="276.6" cy="300.7" r="3.25"/><circle cx="253.2" cy="287.1" r="3.25"/><circle cx="274.0" cy="293.4" r="3.25"/><circle cx="276.3" cy="300.3" r="3.25"/><circle cx="248.2" cy="282.9" r="3.25"/><circle cx="309.8" cy="268.1" r="3.25"/><circle cx="264.5" cy="304.7" r="3.25"/><circle cx="296.1" cy="265.8" r="3.25"/><circle cx="269.4" cy="293.9" r="3.25"/><circle cx="261.6" cy="282.2" r="3.25"/><circle cx="265.5" cy="281.5" r="3.25"/><circle cx="240.6" cy="270.7" r="3.25"/><circle cx="268.1" cy="292.3" r="3.25"/><circle cx="252.6" cy="264.7" r="3.25"/><circle cx="299.2" cy="285.8" r="3.25"/><circle cx="283.1" cy="295.7" r="3.25"/><circle cx="257.1" cy="293.3" r="3.25"/><circle cx="312.3" cy="286.0" r="3.25"/><circle cx="273.1" cy="287.7" r="3.25"/><circle cx="259.4" cy="304.1" r="3.25"/><circle cx="298.8" cy="286.5" r="3.25"/><circle cx="299.2" cy="265.8" r="3.25"/><circle cx="250.8" cy="261.2" r="3.25"/><circle cx="254.8" cy="284.0" r="3.25"/><circle cx="274.4" cy="287.8" r="3.25"/><circle cx="266.6" cy="301.8" r="3.25"/><circle cx="287.2" cy="289.0" r="3.25"/><circle cx="280.8" cy="294.9" r="3.25"/><circle cx="255.6" cy="289.6" r="3.25"/><circle cx="255.0" cy="281.9" r="3.25"/><circle cx="273.1" cy="276.7" r="3.25"/><circle cx="320.3" cy="261.4" r="3.25"/><circle cx="266.7" cy="299.2" r="3.25"/><circle cx="284.6" cy="298.0" r="3.25"/><circle cx="267.3" cy="304.5" r="3.25"/><circle cx="286.9" cy="283.7" r="3.25"/><circle cx="266.4" cy="286.4" r="3.25"/><circle cx="290.3" cy="272.1" r="3.25"/><circle cx="257.3" cy="274.5" r="3.25"/><circle cx="263.7" cy="291.3" r="3.25"/><circle cx="304.3" cy="297.6" r="3.25"/><circle cx="296.1" cy="285.2" r="3.25"/><circle cx="252.0" cy="283.8" r="3.25"/><circle cx="291.1" cy="300.7" r="3.25"/><circle cx="275.0" cy="272.8" r="3.25"/><circle cx="291.7" cy="303.1" r="3.25"/><circle cx="254.3" cy="293.7" r="3.25"/><circle cx="273.5" cy="304.8" r="3.25"/><circle cx="268.5" cy="277.7" r="3.25"/><circle cx="263.6" cy="286.8" r="3.25"/><circle cx="253.5" cy="283.3" r="3.25"/><circle cx="309.7" cy="292.1" r="3.25"/><circle cx="275.5" cy="298.3" r="3.25"/><circle cx="271.2" cy="277.1" r="3.25"/><circle cx="292.1" cy="297.9" r="3.25"/><circle cx="306.7" cy="274.6" r="3.25"/><circle cx="273.3" cy="297.6" r="3.25"/><circle cx="252.5" cy="290.6" r="3.25"/><circle cx="283.8" cy="298.7" r="3.25"/><circle cx="275.2" cy="302.2" r="3.25"/><circle cx="250.0" cy="288.4" r="3.25"/><circle cx="321.2" cy="283.6" r="3.25"/><circle cx="286.0" cy="299.0" r="3.25"/><circle cx="260.0" cy="293.1" r="3.25"/><circle cx="260.2" cy="278.4" r="3.25"/><circle cx="286.1" cy="300.6" r="3.25"/><circle cx="291.0" cy="301.5" r="3.25"/><circle cx="290.4" cy="283.7" r="3.25"/><circle cx="290.2" cy="280.5" r="3.25"/><circle cx="270.6" cy="283.7" r="3.25"/><circle cx="313.6" cy="291.1" r="3.25"/><circle cx="272.6" cy="288.0" r="3.25"/><circle cx="281.2" cy="291.9" r="3.25"/><circle cx="285.9" cy="285.9" r="3.25"/><circle cx="273.7" cy="265.6" r="3.25"/><circle cx="285.0" cy="303.6" r="3.25"/><circle cx="302.6" cy="293.8" r="3.25"/><circle cx="276.0" cy="264.9" r="3.25"/><circle cx="309.8" cy="281.5" r="3.25"/><circle cx="268.6" cy="260.9" r="3.25"/><circle cx="286.6" cy="297.6" r="3.25"/><circle cx="285.9" cy="272.0" r="3.25"/><circle cx="278.2" cy="300.6" r="3.25"/><circle cx="268.2" cy="305.0" r="3.25"/><circle cx="291.5" cy="297.7" r="3.25"/><circle cx="306.0" cy="280.7" r="3.25"/><circle cx="311.7" cy="284.2" r="3.25"/><circle cx="281.4" cy="295.1" r="3.25"/><circle cx="278.8" cy="297.8" r="3.25"/><circle cx="296.0" cy="293.8" r="3.25"/><circle cx="273.6" cy="297.0" r="3.25"/><circle cx="277.2" cy="286.7" r="3.25"/><circle cx="261.6" cy="302.0" r="3.25"/><circle cx="296.6" cy="289.1" r="3.25"/><circle cx="317.0" cy="272.6" r="3.25"/><circle cx="292.6" cy="303.0" r="3.25"/><circle cx="298.2" cy="287.3" r="3.25"/><circle cx="310.2" cy="271.6" r="3.25"/><circle cx="267.1" cy="299.4" r="3.25"/><circle cx="288.6" cy="304.1" r="3.25"/><circle cx="257.2" cy="275.9" r="3.25"/><circle cx="256.8" cy="303.3" r="3.25"/><circle cx="276.3" cy="269.2" r="3.25"/><circle cx="252.0" cy="281.0" r="3.25"/><circle cx="262.3" cy="302.8" r="3.25"/><circle cx="270.9" cy="291.6" r="3.25"/><circle cx="280.1" cy="293.9" r="3.25"/><circle cx="255.2" cy="271.5" r="3.25"/><circle cx="266.3" cy="273.3" r="3.25"/><circle cx="275.2" cy="292.3" r="3.25"/><circle cx="280.9" cy="291.0" r="3.25"/><circle cx="281.8" cy="303.2" r="3.25"/><circle cx="297.1" cy="280.1" r="3.25"/><circle cx="287.7" cy="270.3" r="3.25"/><circle cx="294.7" cy="267.3" r="3.25"/><circle cx="292.3" cy="285.7" r="3.25"/><circle cx="277.5" cy="292.8" r="3.25"/><circle cx="286.7" cy="269.6" r="3.25"/><circle cx="258.5" cy="274.1" r="3.25"/><circle cx="285.9" cy="277.3" r="3.25"/><circle cx="291.8" cy="296.9" r="3.25"/><circle cx="266.2" cy="287.8" r="3.25"/><circle cx="306.5" cy="283.7" r="3.25"/><circle cx="269.1" cy="293.2" r="3.25"/><circle cx="294.9" cy="294.3" r="3.25"/><circle cx="321.0" cy="275.8" r="3.25"/><circle cx="278.4" cy="304.4" r="3.25"/><circle cx="271.2" cy="296.2" r="3.25"/><circle cx="282.5" cy="300.3" r="3.25"/><circle cx="271.1" cy="297.2" r="3.25"/><circle cx="262.4" cy="292.3" r="3.25"/><circle cx="289.8" cy="301.7" r="3.25"/><circle cx="248.4" cy="297.2" r="3.25"/><circle cx="287.5" cy="302.5" r="3.25"/><circle cx="265.4" cy="297.3" r="3.25"/><circle cx="291.3" cy="296.5" r="3.25"/><circle cx="268.7" cy="281.0" r="3.25"/><circle cx="307.8" cy="293.5" r="3.25"/><circle cx="269.5" cy="298.3" r="3.25"/><circle cx="276.3" cy="302.9" r="3.25"/><circle cx="275.9" cy="289.5" r="3.25"/><circle cx="277.6" cy="292.3" r="3.25"/><circle cx="272.3" cy="291.8" r="3.25"/><circle cx="279.2" cy="304.2" r="3.25"/><circle cx="263.7" cy="284.7" r="3.25"/><circle cx="263.8" cy="275.6" r="3.25"/><circle cx="283.1" cy="304.9" r="3.25"/><circle cx="312.7" cy="275.9" r="3.25"/><circle cx="273.4" cy="298.6" r="3.25"/><circle cx="268.1" cy="285.0" r="3.25"/><circle cx="260.2" cy="290.2" r="3.25"/><circle cx="264.7" cy="296.2" r="3.25"/><circle cx="289.3" cy="303.1" r="3.25"/><circle cx="293.8" cy="295.1" r="3.25"/><circle cx="264.1" cy="301.2" r="3.25"/><circle cx="298.2" cy="287.1" r="3.25"/><circle cx="259.9" cy="281.3" r="3.25"/><circle cx="281.3" cy="290.2" r="3.25"/><circle cx="285.9" cy="300.1" r="3.25"/><circle cx="227.0" cy="270.4" r="3.25"/><circle cx="302.4" cy="259.5" r="3.25"/><circle cx="272.7" cy="285.8" r="3.25"/><circle cx="251.3" cy="289.9" r="3.25"/><circle cx="289.5" cy="291.6" r="3.25"/><circle cx="279.7" cy="301.8" r="3.25"/><circle cx="283.2" cy="293.3" r="3.25"/><circle cx="273.0" cy="287.2" r="3.25"/><circle cx="265.8" cy="291.1" r="3.25"/><circle cx="259.3" cy="303.4" r="3.25"/><circle cx="272.9" cy="301.2" r="3.25"/><circle cx="256.6" cy="282.5" r="3.25"/><circle cx="269.5" cy="283.7" r="3.25"/><circle cx="281.7" cy="299.8" r="3.25"/><circle cx="286.0" cy="302.0" r="3.25"/><circle cx="285.0" cy="290.7" r="3.25"/><circle cx="283.8" cy="286.3" r="3.25"/><circle cx="272.8" cy="287.3" r="3.25"/><circle cx="293.0" cy="293.0" r="3.25"/><circle cx="300.1" cy="288.0" r="3.25"/><circle cx="269.1" cy="297.4" r="3.25"/><circle cx="270.0" cy="298.3" r="3.25"/><circle cx="263.8" cy="304.7" r="3.25"/><circle cx="272.1" cy="294.7" r="3.25"/><circle cx="269.6" cy="285.0" r="3.25"/><circle cx="304.7" cy="298.2" r="3.25"/><circle cx="316.4" cy="270.5" r="3.25"/><circle cx="257.8" cy="301.0" r="3.25"/><circle cx="293.6" cy="285.8" r="3.25"/><circle cx="272.4" cy="304.7" r="3.25"/><circle cx="252.5" cy="300.7" r="3.25"/><circle cx="281.6" cy="291.9" r="3.25"/><circle cx="264.9" cy="286.5" r="3.25"/><circle cx="279.0" cy="304.2" r="3.25"/><circle cx="290.0" cy="282.1" r="3.25"/><circle cx="266.7" cy="297.5" r="3.25"/><circle cx="308.3" cy="285.2" r="3.25"/><circle cx="277.4" cy="302.0" r="3.25"/><circle cx="262.9" cy="286.8" r="3.25"/><circle cx="329.4" cy="279.3" r="3.25"/><circle cx="264.3" cy="296.4" r="3.25"/><circle cx="276.1" cy="304.2" r="3.25"/><circle cx="283.5" cy="286.9" r="3.25"/><circle cx="286.9" cy="302.3" r="3.25"/><circle cx="249.5" cy="281.1" r="3.25"/><circle cx="282.0" cy="277.0" r="3.25"/><circle cx="243.8" cy="275.9" r="3.25"/><circle cx="272.4" cy="287.9" r="3.25"/><circle cx="335.5" cy="269.6" r="3.25"/><circle cx="267.9" cy="302.4" r="3.25"/><circle cx="289.7" cy="289.6" r="3.25"/><circle cx="259.4" cy="296.5" r="3.25"/><circle cx="270.2" cy="257.6" r="3.25"/><circle cx="280.8" cy="301.2" r="3.25"/><circle cx="274.1" cy="297.0" r="3.25"/><circle cx="265.5" cy="282.2" r="3.25"/><circle cx="289.3" cy="301.9" r="3.25"/><circle cx="273.0" cy="291.8" r="3.25"/><circle cx="259.2" cy="284.1" r="3.25"/><circle cx="267.0" cy="284.3" r="3.25"/><circle cx="271.3" cy="302.2" r="3.25"/><circle cx="281.6" cy="274.4" r="3.25"/><circle cx="277.4" cy="300.2" r="3.25"/><circle cx="261.0" cy="284.1" r="3.25"/><circle cx="267.6" cy="289.1" r="3.25"/><circle cx="328.7" cy="275.8" r="3.25"/><circle cx="272.5" cy="275.2" r="3.25"/><circle cx="302.3" cy="288.3" r="3.25"/><circle cx="267.5" cy="269.1" r="3.25"/><circle cx="280.2" cy="299.6" r="3.25"/><circle cx="266.7" cy="301.5" r="3.25"/><circle cx="229.2" cy="273.8" r="3.25"/><circle cx="267.3" cy="299.4" r="3.25"/><circle cx="308.0" cy="258.4" r="3.25"/><circle cx="302.2" cy="285.4" r="3.25"/><circle cx="293.6" cy="293.4" r="3.25"/><circle cx="265.3" cy="282.6" r="3.25"/><circle cx="270.2" cy="292.9" r="3.25"/><circle cx="281.6" cy="287.2" r="3.25"/><circle cx="295.1" cy="280.6" r="3.25"/><circle cx="280.6" cy="287.3" r="3.25"/><circle cx="260.6" cy="281.1" r="3.25"/><circle cx="285.8" cy="280.8" r="3.25"/><circle cx="275.3" cy="304.6" r="3.25"/><circle cx="284.6" cy="290.0" r="3.25"/><circle cx="272.8" cy="284.6" r="3.25"/><circle cx="279.9" cy="288.7" r="3.25"/><circle cx="263.8" cy="294.5" r="3.25"/><circle cx="259.6" cy="284.7" r="3.25"/><circle cx="277.5" cy="301.3" r="3.25"/><circle cx="277.0" cy="300.4" r="3.25"/><circle cx="261.7" cy="300.4" r="3.25"/><circle cx="309.3" cy="283.2" r="3.25"/><circle cx="295.8" cy="293.6" r="3.25"/><circle cx="299.8" cy="298.6" r="3.25"/><circle cx="274.8" cy="282.8" r="3.25"/><circle cx="271.6" cy="300.1" r="3.25"/><circle cx="285.3" cy="279.6" r="3.25"/><circle cx="286.0" cy="303.8" r="3.25"/><circle cx="301.3" cy="293.3" r="3.25"/><circle cx="263.5" cy="305.2" r="3.25"/><circle cx="273.2" cy="295.9" r="3.25"/><circle cx="245.8" cy="297.9" r="3.25"/><circle cx="272.1" cy="284.8" r="3.25"/><circle cx="308.3" cy="261.5" r="3.25"/><circle cx="290.4" cy="287.1" r="3.25"/><circle cx="291.7" cy="284.2" r="3.25"/><circle cx="268.7" cy="276.4" r="3.25"/><circle cx="263.9" cy="294.1" r="3.25"/><circle cx="279.6" cy="298.1" r="3.25"/><circle cx="310.4" cy="285.8" r="3.25"/><circle cx="250.1" cy="279.7" r="3.25"/><circle cx="258.7" cy="286.7" r="3.25"/><circle cx="277.8" cy="293.5" r="3.25"/><circle cx="270.8" cy="293.4" r="3.25"/><circle cx="293.0" cy="290.1" r="3.25"/><circle cx="268.8" cy="295.4" r="3.25"/><circle cx="282.1" cy="263.3" r="3.25"/><circle cx="276.6" cy="291.1" r="3.25"/><circle cx="278.1" cy="301.5" r="3.25"/><circle cx="306.8" cy="283.0" r="3.25"/><circle cx="247.3" cy="275.0" r="3.25"/><circle cx="240.1" cy="280.7" r="3.25"/><circle cx="253.7" cy="297.6" r="3.25"/><circle cx="271.6" cy="293.6" r="3.25"/><circle cx="281.5" cy="277.3" r="3.25"/><circle cx="284.0" cy="297.1" r="3.25"/><circle cx="283.1" cy="288.3" r="3.25"/><circle cx="281.4" cy="279.5" r="3.25"/><circle cx="237.0" cy="277.5" r="3.25"/><circle cx="267.0" cy="304.2" r="3.25"/><circle cx="281.1" cy="301.1" r="3.25"/><circle cx="258.5" cy="300.3" r="3.25"/><circle cx="268.3" cy="291.9" r="3.25"/><circle cx="269.2" cy="293.6" r="3.25"/><circle cx="288.0" cy="283.7" r="3.25"/><circle cx="260.7" cy="288.8" r="3.25"/><circle cx="250.3" cy="296.5" r="3.25"/><circle cx="270.2" cy="291.0" r="3.25"/><circle cx="271.6" cy="293.8" r="3.25"/><circle cx="292.9" cy="288.1" r="3.25"/><circle cx="265.3" cy="284.0" r="3.25"/><circle cx="273.3" cy="274.3" r="3.25"/><circle cx="267.1" cy="285.0" r="3.25"/><circle cx="268.9" cy="302.1" r="3.25"/><circle cx="323.6" cy="281.0" r="3.25"/><circle cx="289.0" cy="286.2" r="3.25"/><circle cx="259.2" cy="273.8" r="3.25"/><circle cx="276.4" cy="300.3" r="3.25"/><circle cx="250.0" cy="292.0" r="3.25"/><circle cx="284.4" cy="272.7" r="3.25"/><circle cx="261.3" cy="285.5" r="3.25"/><circle cx="294.8" cy="269.3" r="3.25"/><circle cx="315.1" cy="271.2" r="3.25"/><circle cx="252.6" cy="285.9" r="3.25"/><circle cx="246.8" cy="288.3" r="3.25"/><circle cx="297.3" cy="290.5" r="3.25"/><circle cx="319.4" cy="282.6" r="3.25"/><circle cx="276.8" cy="291.3" r="3.25"/><circle cx="241.1" cy="292.4" r="3.25"/><circle cx="252.1" cy="296.7" r="3.25"/><circle cx="296.7" cy="285.4" r="3.25"/><circle cx="310.2" cy="288.2" r="3.25"/><circle cx="275.7" cy="277.2" r="3.25"/><circle cx="290.6" cy="301.2" r="3.25"/><circle cx="247.6" cy="279.4" r="3.25"/><circle cx="264.2" cy="288.1" r="3.25"/><circle cx="266.4" cy="297.8" r="3.25"/><circle cx="264.3" cy="282.9" r="3.25"/><circle cx="288.9" cy="284.0" r="3.25"/><circle cx="261.2" cy="297.0" r="3.25"/><circle cx="277.9" cy="298.2" r="3.25"/><circle cx="300.2" cy="284.0" r="3.25"/><circle cx="295.6" cy="291.6" r="3.25"/><circle cx="300.8" cy="290.7" r="3.25"/><circle cx="270.1" cy="291.5" r="3.25"/><circle cx="240.7" cy="281.1" r="3.25"/><circle cx="281.8" cy="283.2" r="3.25"/><circle cx="278.3" cy="301.3" r="3.25"/><circle cx="282.6" cy="288.2" r="3.25"/><circle cx="269.7" cy="280.0" r="3.25"/><circle cx="283.0" cy="296.2" r="3.25"/><circle cx="252.0" cy="268.6" r="3.25"/><circle cx="292.8" cy="287.9" r="3.25"/><circle cx="277.3" cy="300.6" r="3.25"/><circle cx="276.5" cy="299.1" r="3.25"/><circle cx="288.8" cy="289.5" r="3.25"/><circle cx="289.0" cy="284.7" r="3.25"/><circle cx="282.8" cy="301.7" r="3.25"/><circle cx="286.8" cy="264.3" r="3.25"/><circle cx="272.2" cy="285.2" r="3.25"/><circle cx="260.6" cy="304.1" r="3.25"/><circle cx="294.5" cy="294.7" r="3.25"/><circle cx="264.1" cy="301.5" r="3.25"/><circle cx="253.0" cy="263.5" r="3.25"/><circle cx="255.1" cy="301.6" r="3.25"/><circle cx="260.4" cy="296.8" r="3.25"/><circle cx="262.8" cy="302.4" r="3.25"/><circle cx="299.9" cy="291.7" r="3.25"/><circle cx="266.1" cy="290.1" r="3.25"/><circle cx="260.3" cy="264.1" r="3.25"/><circle cx="256.9" cy="281.4" r="3.25"/><circle cx="278.8" cy="271.0" r="3.25"/><circle cx="275.4" cy="298.2" r="3.25"/><circle cx="281.6" cy="304.3" r="3.25"/><circle cx="265.0" cy="294.3" r="3.25"/><circle cx="256.5" cy="293.7" r="3.25"/><circle cx="276.8" cy="280.2" r="3.25"/><circle cx="295.8" cy="283.6" r="3.25"/><circle cx="284.4" cy="302.9" r="3.25"/><circle cx="259.4" cy="291.4" r="3.25"/><circle cx="267.7" cy="288.3" r="3.25"/><circle cx="285.7" cy="279.9" r="3.25"/><circle cx="266.0" cy="286.8" r="3.25"/><circle cx="245.8" cy="277.5" r="3.25"/><circle cx="281.6" cy="284.4" r="3.25"/><circle cx="270.3" cy="277.3" r="3.25"/><circle cx="281.6" cy="292.0" r="3.25"/><circle cx="293.2" cy="287.9" r="3.25"/><circle cx="267.5" cy="282.9" r="3.25"/><circle cx="261.3" cy="304.5" r="3.25"/><circle cx="265.1" cy="300.9" r="3.25"/><circle cx="284.2" cy="304.1" r="3.25"/><circle cx="280.7" cy="278.7" r="3.25"/><circle cx="284.8" cy="302.7" r="3.25"/><circle cx="270.6" cy="288.8" r="3.25"/><circle cx="283.4" cy="304.8" r="3.25"/><circle cx="269.1" cy="304.6" r="3.25"/><circle cx="266.3" cy="297.2" r="3.25"/><circle cx="277.3" cy="286.5" r="3.25"/><circle cx="273.7" cy="301.6" r="3.25"/><circle cx="272.5" cy="292.7" r="3.25"/><circle cx="276.8" cy="296.6" r="3.25"/><circle cx="289.0" cy="299.4" r="3.25"/><circle cx="264.2" cy="285.3" r="3.25"/><circle cx="250.9" cy="299.1" r="3.25"/><circle cx="281.3" cy="299.8" r="3.25"/><circle cx="294.0" cy="293.2" r="3.25"/><circle cx="260.0" cy="302.4" r="3.25"/><circle cx="283.1" cy="296.1" r="3.25"/><circle cx="312.5" cy="265.1" r="3.25"/><circle cx="287.9" cy="300.0" r="3.25"/><circle cx="311.2" cy="288.5" r="3.25"/><circle cx="291.3" cy="291.9" r="3.25"/><circle cx="288.3" cy="287.6" r="3.25"/><circle cx="264.6" cy="297.9" r="3.25"/><circle cx="262.6" cy="298.7" r="3.25"/><circle cx="250.0" cy="296.5" r="3.25"/><circle cx="270.5" cy="304.3" r="3.25"/><circle cx="300.4" cy="284.0" r="3.25"/><circle cx="300.9" cy="284.7" r="3.25"/><circle cx="295.5" cy="274.9" r="3.25"/><circle cx="302.9" cy="284.6" r="3.25"/><circle cx="269.8" cy="288.4" r="3.25"/><circle cx="262.2" cy="291.6" r="3.25"/><circle cx="311.2" cy="290.2" r="3.25"/><circle cx="288.5" cy="281.0" r="3.25"/><circle cx="270.6" cy="273.0" r="3.25"/><circle cx="284.3" cy="303.4" r="3.25"/><circle cx="261.0" cy="274.3" r="3.25"/><circle cx="297.2" cy="300.1" r="3.25"/><circle cx="258.1" cy="301.1" r="3.25"/><circle cx="268.2" cy="300.3" r="3.25"/><circle cx="272.8" cy="303.2" r="3.25"/><circle cx="274.2" cy="279.8" r="3.25"/><circle cx="257.8" cy="298.6" r="3.25"/><circle cx="289.0" cy="297.1" r="3.25"/><circle cx="286.9" cy="293.4" r="3.25"/><circle cx="275.6" cy="305.0" r="3.25"/><circle cx="288.6" cy="287.3" r="3.25"/><circle cx="267.5" cy="261.9" r="3.25"/><circle cx="303.0" cy="275.1" r="3.25"/><circle cx="266.0" cy="280.4" r="3.25"/><circle cx="259.4" cy="294.9" r="3.25"/><circle cx="272.9" cy="305.0" r="3.25"/><circle cx="273.2" cy="297.2" r="3.25"/><circle cx="279.3" cy="304.2" r="3.25"/><circle cx="290.8" cy="287.0" r="3.25"/><circle cx="241.7" cy="261.9" r="3.25"/><circle cx="253.9" cy="300.0" r="3.25"/><circle cx="281.7" cy="292.8" r="3.25"/><circle cx="317.6" cy="266.8" r="3.25"/><circle cx="288.8" cy="302.2" r="3.25"/><circle cx="275.5" cy="291.3" r="3.25"/><circle cx="272.9" cy="298.3" r="3.25"/><circle cx="273.3" cy="267.2" r="3.25"/><circle cx="311.8" cy="287.7" r="3.25"/><circle cx="273.8" cy="293.4" r="3.25"/><circle cx="283.2" cy="291.6" r="3.25"/><circle cx="256.3" cy="291.2" r="3.25"/><circle cx="292.1" cy="294.3" r="3.25"/><circle cx="278.2" cy="266.8" r="3.25"/><circle cx="273.1" cy="292.4" r="3.25"/><circle cx="273.3" cy="273.6" r="3.25"/><circle cx="275.5" cy="291.9" r="3.25"/><circle cx="283.8" cy="302.4" r="3.25"/><circle cx="298.4" cy="271.5" r="3.25"/><circle cx="262.9" cy="279.1" r="3.25"/><circle cx="242.1" cy="264.9" r="3.25"/><circle cx="234.9" cy="283.7" r="3.25"/><circle cx="268.5" cy="301.2" r="3.25"/><circle cx="279.3" cy="297.7" r="3.25"/><circle cx="288.9" cy="265.8" r="3.25"/><circle cx="254.7" cy="295.9" r="3.25"/><circle cx="284.4" cy="302.1" r="3.25"/><circle cx="267.8" cy="285.1" r="3.25"/><circle cx="307.3" cy="276.6" r="3.25"/><circle cx="274.0" cy="284.0" r="3.25"/><circle cx="277.3" cy="299.0" r="3.25"/><circle cx="264.7" cy="286.8" r="3.25"/><circle cx="267.6" cy="304.3" r="3.25"/><circle cx="276.9" cy="300.5" r="3.25"/><circle cx="286.6" cy="294.8" r="3.25"/><circle cx="299.6" cy="272.7" r="3.25"/><circle cx="267.2" cy="302.1" r="3.25"/><circle cx="254.0" cy="283.9" r="3.25"/><circle cx="288.0" cy="284.1" r="3.25"/><circle cx="315.7" cy="270.0" r="3.25"/><circle cx="269.4" cy="284.7" r="3.25"/><circle cx="270.8" cy="303.1" r="3.25"/><circle cx="270.4" cy="287.9" r="3.25"/><circle cx="284.2" cy="290.7" r="3.25"/><circle cx="289.8" cy="299.8" r="3.25"/><circle cx="264.2" cy="301.9" r="3.25"/><circle cx="288.9" cy="282.4" r="3.25"/><circle cx="321.1" cy="268.3" r="3.25"/><circle cx="292.0" cy="283.4" r="3.25"/><circle cx="266.3" cy="300.3" r="3.25"/><circle cx="254.2" cy="293.6" r="3.25"/><circle cx="277.7" cy="297.7" r="3.25"/><circle cx="320.6" cy="266.2" r="3.25"/><circle cx="297.8" cy="280.5" r="3.25"/><circle cx="299.8" cy="295.7" r="3.25"/><circle cx="271.8" cy="300.3" r="3.25"/><circle cx="282.9" cy="275.4" r="3.25"/><circle cx="266.0" cy="301.0" r="3.25"/><circle cx="290.0" cy="286.5" r="3.25"/><circle cx="276.9" cy="274.6" r="3.25"/><circle cx="265.1" cy="292.5" r="3.25"/><circle cx="272.7" cy="262.2" r="3.25"/><circle cx="293.7" cy="278.7" r="3.25"/><circle cx="288.5" cy="300.7" r="3.25"/><circle cx="287.0" cy="301.2" r="3.25"/><circle cx="287.5" cy="299.6" r="3.25"/><circle cx="262.1" cy="287.0" r="3.25"/><circle cx="302.1" cy="284.1" r="3.25"/><circle cx="265.8" cy="301.1" r="3.25"/><circle cx="260.8" cy="294.4" r="3.25"/><circle cx="291.2" cy="291.6" r="3.25"/><circle cx="268.5" cy="284.8" r="3.25"/><circle cx="277.4" cy="299.6" r="3.25"/><circle cx="270.3" cy="292.9" r="3.25"/><circle cx="275.6" cy="293.0" r="3.25"/><circle cx="248.9" cy="290.8" r="3.25"/><circle cx="299.5" cy="282.7" r="3.25"/><circle cx="298.5" cy="293.6" r="3.25"/><circle cx="274.1" cy="300.0" r="3.25"/><circle cx="315.7" cy="270.4" r="3.25"/><circle cx="299.3" cy="281.9" r="3.25"/><circle cx="305.7" cy="283.0" r="3.25"/><circle cx="260.2" cy="298.0" r="3.25"/><circle cx="277.6" cy="285.5" r="3.25"/><circle cx="296.1" cy="284.2" r="3.25"/><circle cx="276.2" cy="275.9" r="3.25"/><circle cx="323.1" cy="283.7" r="3.25"/><circle cx="299.3" cy="300.8" r="3.25"/><circle cx="277.2" cy="301.0" r="3.25"/><circle cx="285.8" cy="294.5" r="3.25"/><circle cx="290.3" cy="268.9" r="3.25"/><circle cx="284.8" cy="288.3" r="3.25"/><circle cx="262.6" cy="290.7" r="3.25"/><circle cx="250.4" cy="279.3" r="3.25"/><circle cx="293.7" cy="298.8" r="3.25"/><circle cx="289.0" cy="281.5" r="3.25"/><circle cx="271.9" cy="282.6" r="3.25"/><circle cx="267.4" cy="284.6" r="3.25"/><circle cx="254.1" cy="291.5" r="3.25"/><circle cx="274.2" cy="295.9" r="3.25"/><circle cx="242.2" cy="276.5" r="3.25"/><circle cx="281.9" cy="291.3" r="3.25"/><circle cx="290.9" cy="271.0" r="3.25"/><circle cx="268.3" cy="297.8" r="3.25"/><circle cx="294.9" cy="294.3" r="3.25"/><circle cx="302.3" cy="272.1" r="3.25"/><circle cx="284.4" cy="284.9" r="3.25"/><circle cx="267.8" cy="305.4" r="3.25"/><circle cx="267.9" cy="293.3" r="3.25"/><circle cx="261.1" cy="283.2" r="3.25"/><circle cx="251.7" cy="301.7" r="3.25"/><circle cx="281.7" cy="277.3" r="3.25"/><circle cx="289.6" cy="294.6" r="3.25"/><circle cx="255.5" cy="298.1" r="3.25"/><circle cx="285.5" cy="288.9" r="3.25"/><circle cx="275.0" cy="282.8" r="3.25"/><circle cx="278.8" cy="298.3" r="3.25"/><circle cx="300.8" cy="270.7" r="3.25"/><circle cx="290.9" cy="297.3" r="3.25"/><circle cx="265.7" cy="282.5" r="3.25"/><circle cx="284.8" cy="304.1" r="3.25"/><circle cx="271.0" cy="302.0" r="3.25"/><circle cx="313.8" cy="290.8" r="3.25"/><circle cx="278.5" cy="292.6" r="3.25"/><circle cx="273.2" cy="275.5" r="3.25"/><circle cx="302.1" cy="290.2" r="3.25"/><circle cx="289.7" cy="281.1" r="3.25"/><circle cx="268.4" cy="292.1" r="3.25"/><circle cx="285.0" cy="278.5" r="3.25"/><circle cx="279.6" cy="304.1" r="3.25"/><circle cx="274.1" cy="295.8" r="3.25"/><circle cx="277.5" cy="304.0" r="3.25"/><circle cx="260.2" cy="284.7" r="3.25"/><circle cx="259.7" cy="291.0" r="3.25"/><circle cx="278.7" cy="291.5" r="3.25"/><circle cx="260.0" cy="299.7" r="3.25"/><circle cx="282.9" cy="292.2" r="3.25"/><circle cx="255.1" cy="297.6" r="3.25"/><circle cx="242.8" cy="277.1" r="3.25"/><circle cx="271.4" cy="299.1" r="3.25"/><circle cx="297.8" cy="284.0" r="3.25"/><circle cx="281.0" cy="297.0" r="3.25"/><circle cx="280.4" cy="299.2" r="3.25"/><circle cx="302.2" cy="286.7" r="3.25"/><circle cx="285.0" cy="294.8" r="3.25"/><circle cx="268.6" cy="303.1" r="3.25"/><circle cx="263.4" cy="300.3" r="3.25"/><circle cx="272.4" cy="293.1" r="3.25"/><circle cx="285.1" cy="287.6" r="3.25"/><circle cx="272.0" cy="295.0" r="3.25"/><circle cx="273.3" cy="296.3" r="3.25"/><circle cx="268.7" cy="300.4" r="3.25"/><circle cx="259.4" cy="264.9" r="3.25"/><circle cx="249.6" cy="269.3" r="3.25"/><circle cx="265.5" cy="300.3" r="3.25"/><circle cx="299.7" cy="301.0" r="3.25"/><circle cx="295.0" cy="293.6" r="3.25"/><circle cx="300.0" cy="293.7" r="3.25"/><circle cx="278.4" cy="298.1" r="3.25"/><circle cx="275.7" cy="291.4" r="3.25"/><circle cx="285.3" cy="304.1" r="3.25"/><circle cx="271.2" cy="304.2" r="3.25"/><circle cx="301.2" cy="285.7" r="3.25"/><circle cx="283.6" cy="275.8" r="3.25"/><circle cx="294.9" cy="284.8" r="3.25"/><circle cx="265.2" cy="296.2" r="3.25"/><circle cx="339.0" cy="259.7" r="3.25"/><circle cx="284.5" cy="279.7" r="3.25"/><circle cx="294.2" cy="280.7" r="3.25"/><circle cx="265.1" cy="292.5" r="3.25"/><circle cx="266.8" cy="298.3" r="3.25"/><circle cx="299.5" cy="271.0" r="3.25"/><circle cx="252.0" cy="296.1" r="3.25"/><circle cx="303.5" cy="285.4" r="3.25"/><circle cx="268.0" cy="296.3" r="3.25"/><circle cx="307.5" cy="268.9" r="3.25"/><circle cx="264.5" cy="271.8" r="3.25"/><circle cx="281.3" cy="263.9" r="3.25"/><circle cx="283.0" cy="273.7" r="3.25"/><circle cx="304.4" cy="272.2" r="3.25"/><circle cx="262.5" cy="288.5" r="3.25"/><circle cx="289.0" cy="287.3" r="3.25"/><circle cx="279.7" cy="302.2" r="3.25"/><circle cx="291.3" cy="291.2" r="3.25"/><circle cx="260.1" cy="273.2" r="3.25"/><circle cx="277.9" cy="291.7" r="3.25"/><circle cx="266.0" cy="297.7" r="3.25"/><circle cx="271.4" cy="277.9" r="3.25"/><circle cx="303.2" cy="284.2" r="3.25"/><circle cx="262.5" cy="294.5" r="3.25"/><circle cx="275.2" cy="289.9" r="3.25"/><circle cx="274.7" cy="305.0" r="3.25"/><circle cx="264.3" cy="303.7" r="3.25"/><circle cx="271.0" cy="300.2" r="3.25"/><circle cx="258.6" cy="288.9" r="3.25"/><circle cx="293.6" cy="276.3" r="3.25"/><circle cx="258.8" cy="280.1" r="3.25"/><circle cx="318.3" cy="270.4" r="3.25"/><circle cx="246.4" cy="295.1" r="3.25"/><circle cx="287.7" cy="291.2" r="3.25"/><circle cx="294.7" cy="276.1" r="3.25"/><circle cx="266.3" cy="289.3" r="3.25"/><circle cx="236.0" cy="268.7" r="3.25"/><circle cx="279.8" cy="295.2" r="3.25"/><circle cx="256.6" cy="291.5" r="3.25"/><circle cx="300.7" cy="284.5" r="3.25"/><circle cx="280.7" cy="286.0" r="3.25"/><circle cx="277.5" cy="290.4" r="3.25"/><circle cx="278.2" cy="297.4" r="3.25"/><circle cx="286.5" cy="299.8" r="3.25"/><circle cx="278.1" cy="286.0" r="3.25"/><circle cx="284.7" cy="297.2" r="3.25"/><circle cx="291.8" cy="266.6" r="3.25"/><circle cx="268.2" cy="283.2" r="3.25"/><circle cx="296.8" cy="290.9" r="3.25"/><circle cx="301.8" cy="295.3" r="3.25"/><circle cx="306.6" cy="275.5" r="3.25"/><circle cx="279.3" cy="292.9" r="3.25"/><circle cx="290.0" cy="289.6" r="3.25"/><circle cx="258.6" cy="289.4" r="3.25"/><circle cx="259.5" cy="270.2" r="3.25"/><circle cx="264.5" cy="301.9" r="3.25"/><circle cx="268.5" cy="304.2" r="3.25"/><circle cx="294.1" cy="286.8" r="3.25"/><circle cx="261.5" cy="281.7" r="3.25"/><circle cx="267.8" cy="303.9" r="3.25"/><circle cx="253.5" cy="295.6" r="3.25"/><circle cx="265.4" cy="290.7" r="3.25"/><circle cx="248.2" cy="290.3" r="3.25"/><circle cx="303.1" cy="271.7" r="3.25"/><circle cx="276.4" cy="272.5" r="3.25"/><circle cx="293.1" cy="291.6" r="3.25"/><circle cx="293.4" cy="301.4" r="3.25"/><circle cx="286.8" cy="287.2" r="3.25"/><circle cx="289.2" cy="270.9" r="3.25"/><circle cx="280.7" cy="286.1" r="3.25"/><circle cx="270.0" cy="293.8" r="3.25"/><circle cx="237.2" cy="287.4" r="3.25"/><circle cx="279.3" cy="296.2" r="3.25"/><circle cx="266.8" cy="302.0" r="3.25"/><circle cx="258.4" cy="283.9" r="3.25"/><circle cx="268.3" cy="301.7" r="3.25"/><circle cx="276.3" cy="295.4" r="3.25"/><circle cx="291.3" cy="286.5" r="3.25"/><circle cx="254.3" cy="267.9" r="3.25"/><circle cx="260.1" cy="303.2" r="3.25"/><circle cx="301.8" cy="281.4" r="3.25"/><circle cx="286.5" cy="292.0" r="3.25"/><circle cx="289.6" cy="294.1" r="3.25"/><circle cx="272.1" cy="303.3" r="3.25"/><circle cx="258.0" cy="302.0" r="3.25"/><circle cx="291.2" cy="303.7" r="3.25"/><circle cx="292.7" cy="300.0" r="3.25"/><circle cx="265.4" cy="273.3" r="3.25"/><circle cx="284.7" cy="290.4" r="3.25"/><circle cx="288.3" cy="303.9" r="3.25"/><circle cx="291.4" cy="301.4" r="3.25"/><circle cx="285.0" cy="296.3" r="3.25"/><circle cx="275.7" cy="266.3" r="3.25"/><circle cx="269.6" cy="284.9" r="3.25"/><circle cx="276.5" cy="291.4" r="3.25"/><circle cx="267.6" cy="302.8" r="3.25"/><circle cx="284.0" cy="301.8" r="3.25"/><circle cx="286.6" cy="262.6" r="3.25"/><circle cx="273.3" cy="297.7" r="3.25"/><circle cx="262.8" cy="300.7" r="3.25"/><circle cx="283.8" cy="272.3" r="3.25"/><circle cx="272.9" cy="266.0" r="3.25"/><circle cx="280.3" cy="303.9" r="3.25"/><circle cx="264.4" cy="303.5" r="3.25"/><circle cx="289.2" cy="291.9" r="3.25"/><circle cx="274.4" cy="303.7" r="3.25"/><circle cx="303.9" cy="298.4" r="3.25"/><circle cx="263.1" cy="279.2" r="3.25"/><circle cx="314.5" cy="288.4" r="3.25"/><circle cx="277.2" cy="294.4" r="3.25"/><circle cx="311.7" cy="292.8" r="3.25"/><circle cx="293.2" cy="298.4" r="3.25"/><circle cx="255.5" cy="284.2" r="3.25"/><circle cx="269.2" cy="293.8" r="3.25"/><circle cx="295.0" cy="293.1" r="3.25"/><circle cx="279.9" cy="304.4" r="3.25"/><circle cx="296.9" cy="285.9" r="3.25"/><circle cx="284.9" cy="295.0" r="3.25"/><circle cx="298.4" cy="298.3" r="3.25"/><circle cx="277.0" cy="271.2" r="3.25"/><circle cx="262.1" cy="295.9" r="3.25"/><circle cx="267.6" cy="291.1" r="3.25"/><circle cx="283.3" cy="266.5" r="3.25"/><circle cx="261.1" cy="277.1" r="3.25"/><circle cx="281.8" cy="274.0" r="3.25"/><circle cx="276.5" cy="281.9" r="3.25"/><circle cx="273.5" cy="293.1" r="3.25"/><circle cx="281.5" cy="273.3" r="3.25"/><circle cx="273.1" cy="269.5" r="3.25"/><circle cx="304.0" cy="277.9" r="3.25"/><circle cx="287.7" cy="261.9" r="3.25"/><circle cx="286.5" cy="302.2" r="3.25"/><circle cx="259.1" cy="303.1" r="3.25"/><circle cx="278.7" cy="294.5" r="3.25"/><circle cx="270.8" cy="291.5" r="3.25"/><circle cx="244.9" cy="290.2" r="3.25"/><circle cx="314.5" cy="290.7" r="3.25"/><circle cx="256.3" cy="291.2" r="3.25"/><circle cx="294.9" cy="287.8" r="3.25"/><circle cx="285.8" cy="303.0" r="3.25"/><circle cx="293.9" cy="298.4" r="3.25"/><circle cx="271.7" cy="271.3" r="3.25"/><circle cx="294.5" cy="281.0" r="3.25"/><circle cx="276.6" cy="295.1" r="3.25"/><circle cx="291.0" cy="289.6" r="3.25"/><circle cx="276.6" cy="289.5" r="3.25"/><circle cx="299.7" cy="293.3" r="3.25"/><circle cx="288.2" cy="290.7" r="3.25"/><circle cx="274.0" cy="274.5" r="3.25"/><circle cx="268.6" cy="283.3" r="3.25"/><circle cx="228.2" cy="272.3" r="3.25"/><circle cx="282.5" cy="286.1" r="3.25"/><circle cx="291.6" cy="280.9" r="3.25"/><circle cx="296.5" cy="274.4" r="3.25"/><circle cx="269.6" cy="271.9" r="3.25"/><circle cx="284.0" cy="266.2" r="3.25"/><circle cx="262.5" cy="275.6" r="3.25"/><circle cx="271.9" cy="296.8" r="3.25"/><circle cx="286.6" cy="299.6" r="3.25"/><circle cx="270.3" cy="287.9" r="3.25"/><circle cx="291.0" cy="292.4" r="3.25"/><circle cx="274.4" cy="297.7" r="3.25"/><circle cx="279.7" cy="295.6" r="3.25"/><circle cx="274.0" cy="286.7" r="3.25"/><circle cx="277.6" cy="305.6" r="3.25"/><circle cx="266.0" cy="292.9" r="3.25"/><circle cx="283.9" cy="281.3" r="3.25"/><circle cx="300.7" cy="289.5" r="3.25"/><circle cx="284.4" cy="288.9" r="3.25"/><circle cx="260.9" cy="290.5" r="3.25"/><circle cx="265.9" cy="289.3" r="3.25"/><circle cx="260.9" cy="289.2" r="3.25"/><circle cx="294.2" cy="301.9" r="3.25"/><circle cx="279.2" cy="301.8" r="3.25"/><circle cx="287.3" cy="303.0" r="3.25"/><circle cx="303.9" cy="271.1" r="3.25"/><circle cx="272.8" cy="298.8" r="3.25"/><circle cx="305.2" cy="279.8" r="3.25"/><circle cx="277.7" cy="285.8" r="3.25"/><circle cx="288.6" cy="278.3" r="3.25"/><circle cx="233.1" cy="274.3" r="3.25"/><circle cx="275.5" cy="300.7" r="3.25"/><circle cx="271.4" cy="293.3" r="3.25"/><circle cx="264.5" cy="285.5" r="3.25"/><circle cx="280.4" cy="296.7" r="3.25"/><circle cx="253.8" cy="283.4" r="3.25"/><circle cx="273.0" cy="299.6" r="3.25"/><circle cx="275.7" cy="271.8" r="3.25"/><circle cx="267.0" cy="299.3" r="3.25"/><circle cx="319.0" cy="278.5" r="3.25"/><circle cx="280.1" cy="295.0" r="3.25"/><circle cx="298.6" cy="266.0" r="3.25"/><circle cx="270.5" cy="304.6" r="3.25"/><circle cx="254.2" cy="280.4" r="3.25"/><circle cx="293.9" cy="300.1" r="3.25"/><circle cx="288.6" cy="301.1" r="3.25"/><circle cx="280.8" cy="286.5" r="3.25"/><circle cx="277.8" cy="302.4" r="3.25"/><circle cx="278.7" cy="294.5" r="3.25"/><circle cx="275.2" cy="301.0" r="3.25"/><circle cx="292.0" cy="283.6" r="3.25"/><circle cx="283.5" cy="301.4" r="3.25"/><circle cx="276.3" cy="277.8" r="3.25"/><circle cx="266.7" cy="302.7" r="3.25"/><circle cx="309.6" cy="286.0" r="3.25"/><circle cx="270.3" cy="298.8" r="3.25"/><circle cx="261.8" cy="267.9" r="3.25"/><circle cx="279.6" cy="290.7" r="3.25"/><circle cx="275.9" cy="284.4" r="3.25"/><circle cx="258.6" cy="301.6" r="3.25"/><circle cx="261.8" cy="298.1" r="3.25"/><circle cx="293.4" cy="302.1" r="3.25"/><circle cx="272.6" cy="287.1" r="3.25"/><circle cx="290.6" cy="302.2" r="3.25"/><circle cx="259.6" cy="291.2" r="3.25"/><circle cx="305.4" cy="266.3" r="3.25"/><circle cx="277.5" cy="305.2" r="3.25"/><circle cx="271.7" cy="272.0" r="3.25"/><circle cx="254.4" cy="302.5" r="3.25"/><circle cx="305.7" cy="286.0" r="3.25"/><circle cx="283.7" cy="281.2" r="3.25"/><circle cx="276.3" cy="303.4" r="3.25"/><circle cx="294.0" cy="291.7" r="3.25"/><circle cx="261.7" cy="290.8" r="3.25"/><circle cx="286.5" cy="303.5" r="3.25"/><circle cx="288.4" cy="292.5" r="3.25"/><circle cx="284.4" cy="302.9" r="3.25"/><circle cx="266.1" cy="261.9" r="3.25"/><circle cx="275.1" cy="302.0" r="3.25"/><circle cx="285.8" cy="294.7" r="3.25"/><circle cx="270.8" cy="282.7" r="3.25"/><circle cx="307.9" cy="284.8" r="3.25"/><circle cx="293.2" cy="292.2" r="3.25"/><circle cx="319.7" cy="271.0" r="3.25"/><circle cx="248.3" cy="278.0" r="3.25"/><circle cx="300.9" cy="297.3" r="3.25"/><circle cx="271.2" cy="292.5" r="3.25"/><circle cx="267.2" cy="297.9" r="3.25"/><circle cx="274.9" cy="288.2" r="3.25"/><circle cx="315.3" cy="277.2" r="3.25"/><circle cx="288.2" cy="289.6" r="3.25"/><circle cx="287.5" cy="288.7" r="3.25"/><circle cx="290.1" cy="302.6" r="3.25"/><circle cx="292.6" cy="299.6" r="3.25"/><circle cx="310.1" cy="275.9" r="3.25"/><circle cx="285.8" cy="288.8" r="3.25"/><circle cx="282.9" cy="304.4" r="3.25"/><circle cx="259.2" cy="299.5" r="3.25"/><circle cx="281.6" cy="260.3" r="3.25"/><circle cx="239.3" cy="287.8" r="3.25"/><circle cx="276.7" cy="298.4" r="3.25"/><circle cx="279.6" cy="297.7" r="3.25"/><circle cx="264.3" cy="270.7" r="3.25"/><circle cx="270.3" cy="282.0" r="3.25"/><circle cx="309.0" cy="273.4" r="3.25"/><circle cx="273.7" cy="285.2" r="3.25"/><circle cx="277.9" cy="299.1" r="3.25"/><circle cx="310.1" cy="293.1" r="3.25"/><circle cx="283.4" cy="295.3" r="3.25"/><circle cx="287.9" cy="303.3" r="3.25"/><circle cx="290.1" cy="283.1" r="3.25"/><circle cx="285.0" cy="300.0" r="3.25"/><circle cx="296.2" cy="294.7" r="3.25"/><circle cx="273.8" cy="304.9" r="3.25"/><circle cx="286.3" cy="302.1" r="3.25"/><circle cx="270.7" cy="297.0" r="3.25"/><circle cx="271.5" cy="303.9" r="3.25"/><circle cx="296.5" cy="275.8" r="3.25"/><circle cx="267.5" cy="279.1" r="3.25"/><circle cx="274.3" cy="295.3" r="3.25"/><circle cx="297.0" cy="296.3" r="3.25"/><circle cx="260.3" cy="286.7" r="3.25"/><circle cx="288.5" cy="291.2" r="3.25"/><circle cx="272.1" cy="290.4" r="3.25"/><circle cx="251.2" cy="288.5" r="3.25"/><circle cx="272.7" cy="293.5" r="3.25"/><circle cx="247.0" cy="301.5" r="3.25"/><circle cx="299.9" cy="289.1" r="3.25"/><circle cx="271.5" cy="283.9" r="3.25"/><circle cx="286.1" cy="286.2" r="3.25"/><circle cx="276.5" cy="298.9" r="3.25"/><circle cx="255.9" cy="298.9" r="3.25"/><circle cx="271.2" cy="263.4" r="3.25"/><circle cx="299.6" cy="288.8" r="3.25"/><circle cx="286.1" cy="302.2" r="3.25"/><circle cx="271.4" cy="283.4" r="3.25"/><circle cx="263.7" cy="279.1" r="3.25"/><circle cx="274.9" cy="302.0" r="3.25"/><circle cx="252.0" cy="282.0" r="3.25"/><circle cx="281.0" cy="294.6" r="3.25"/><circle cx="245.8" cy="283.7" r="3.25"/><circle cx="264.4" cy="288.6" r="3.25"/><circle cx="291.9" cy="291.3" r="3.25"/><circle cx="278.8" cy="283.0" r="3.25"/><circle cx="265.9" cy="286.8" r="3.25"/><circle cx="281.8" cy="283.0" r="3.25"/><circle cx="273.4" cy="283.5" r="3.25"/><circle cx="279.8" cy="298.5" r="3.25"/><circle cx="316.1" cy="258.3" r="3.25"/><circle cx="278.4" cy="269.4" r="3.25"/><circle cx="244.3" cy="283.3" r="3.25"/><circle cx="284.6" cy="291.5" r="3.25"/><circle cx="263.8" cy="290.9" r="3.25"/><circle cx="294.4" cy="295.5" r="3.25"/><circle cx="303.0" cy="275.8" r="3.25"/><circle cx="279.2" cy="278.7" r="3.25"/><circle cx="285.7" cy="290.3" r="3.25"/><circle cx="246.8" cy="277.9" r="3.25"/><circle cx="251.6" cy="297.8" r="3.25"/><circle cx="272.0" cy="276.2" r="3.25"/><circle cx="279.7" cy="303.5" r="3.25"/><circle cx="299.9" cy="292.3" r="3.25"/><circle cx="264.9" cy="279.9" r="3.25"/><circle cx="255.9" cy="263.8" r="3.25"/><circle cx="262.9" cy="289.9" r="3.25"/><circle cx="263.7" cy="282.4" r="3.25"/><circle cx="280.8" cy="290.5" r="3.25"/><circle cx="252.9" cy="290.2" r="3.25"/><circle cx="284.6" cy="303.6" r="3.25"/><circle cx="275.6" cy="289.1" r="3.25"/><circle cx="276.6" cy="304.3" r="3.25"/><circle cx="237.6" cy="268.3" r="3.25"/><circle cx="279.0" cy="303.5" r="3.25"/><circle cx="238.8" cy="281.1" r="3.25"/><circle cx="286.9" cy="301.0" r="3.25"/><circle cx="267.7" cy="300.5" r="3.25"/><circle cx="278.6" cy="303.6" r="3.25"/><circle cx="289.2" cy="283.4" r="3.25"/><circle cx="286.3" cy="304.3" r="3.25"/><circle cx="298.1" cy="294.7" r="3.25"/><circle cx="310.4" cy="269.7" r="3.25"/><circle cx="291.1" cy="289.6" r="3.25"/><circle cx="268.3" cy="303.1" r="3.25"/><circle cx="287.5" cy="297.2" r="3.25"/><circle cx="279.4" cy="303.8" r="3.25"/><circle cx="268.5" cy="285.0" r="3.25"/><circle cx="280.2" cy="267.2" r="3.25"/><circle cx="300.5" cy="278.8" r="3.25"/><circle cx="296.4" cy="285.0" r="3.25"/><circle cx="268.6" cy="304.9" r="3.25"/><circle cx="255.6" cy="291.8" r="3.25"/><circle cx="225.3" cy="259.5" r="3.25"/><circle cx="269.8" cy="290.6" r="3.25"/><circle cx="272.7" cy="280.0" r="3.25"/><circle cx="255.0" cy="290.8" r="3.25"/><circle cx="293.0" cy="295.8" r="3.25"/><circle cx="327.6" cy="272.6" r="3.25"/><circle cx="263.9" cy="286.5" r="3.25"/><circle cx="302.2" cy="266.0" r="3.25"/><circle cx="277.2" cy="279.1" r="3.25"/><circle cx="294.8" cy="273.0" r="3.25"/><circle cx="282.8" cy="282.5" r="3.25"/><circle cx="275.7" cy="296.2" r="3.25"/><circle cx="298.8" cy="282.2" r="3.25"/><circle cx="299.2" cy="270.5" r="3.25"/><circle cx="270.8" cy="288.1" r="3.25"/><circle cx="294.0" cy="269.7" r="3.25"/><circle cx="267.6" cy="291.5" r="3.25"/><circle cx="277.8" cy="287.2" r="3.25"/><circle cx="288.6" cy="290.2" r="3.25"/><circle cx="281.6" cy="302.6" r="3.25"/><circle cx="255.0" cy="298.7" r="3.25"/><circle cx="286.3" cy="294.8" r="3.25"/><circle cx="255.5" cy="284.9" r="3.25"/><circle cx="281.0" cy="293.5" r="3.25"/><circle cx="298.2" cy="273.0" r="3.25"/><circle cx="253.8" cy="294.2" r="3.25"/><circle cx="260.1" cy="292.7" r="3.25"/><circle cx="303.2" cy="268.5" r="3.25"/><circle cx="284.6" cy="286.7" r="3.25"/><circle cx="246.8" cy="297.4" r="3.25"/><circle cx="294.5" cy="290.5" r="3.25"/><circle cx="264.8" cy="259.5" r="3.25"/><circle cx="259.8" cy="297.1" r="3.25"/><circle cx="282.7" cy="289.4" r="3.25"/><circle cx="267.5" cy="295.2" r="3.25"/><circle cx="279.2" cy="287.6" r="3.25"/><circle cx="290.3" cy="262.2" r="3.25"/><circle cx="292.5" cy="293.1" r="3.25"/><circle cx="284.9" cy="281.8" r="3.25"/><circle cx="284.1" cy="269.9" r="3.25"/><circle cx="281.7" cy="297.7" r="3.25"/><circle cx="283.0" cy="299.6" r="3.25"/><circle cx="266.4" cy="281.3" r="3.25"/><circle cx="286.5" cy="291.4" r="3.25"/><circle cx="266.8" cy="297.2" r="3.25"/><circle cx="267.7" cy="283.4" r="3.25"/><circle cx="275.8" cy="295.4" r="3.25"/><circle cx="298.6" cy="285.4" r="3.25"/><circle cx="291.4" cy="292.0" r="3.25"/><circle cx="307.5" cy="277.6" r="3.25"/><circle cx="282.0" cy="275.2" r="3.25"/><circle cx="277.9" cy="297.5" r="3.25"/><circle cx="312.3" cy="278.6" r="3.25"/><circle cx="264.4" cy="281.7" r="3.25"/><circle cx="255.0" cy="271.8" r="3.25"/><circle cx="247.8" cy="296.8" r="3.25"/><circle cx="257.5" cy="290.6" r="3.25"/><circle cx="305.5" cy="263.9" r="3.25"/><circle cx="263.7" cy="289.8" r="3.25"/><circle cx="262.0" cy="298.4" r="3.25"/><circle cx="281.8" cy="298.7" r="3.25"/><circle cx="262.4" cy="299.1" r="3.25"/><circle cx="265.1" cy="294.0" r="3.25"/><circle cx="262.7" cy="284.1" r="3.25"/><circle cx="281.6" cy="299.6" r="3.25"/><circle cx="263.6" cy="273.5" r="3.25"/><circle cx="268.1" cy="273.2" r="3.25"/><circle cx="273.3" cy="303.5" r="3.25"/><circle cx="247.9" cy="294.1" r="3.25"/><circle cx="274.2" cy="271.7" r="3.25"/><circle cx="248.7" cy="294.7" r="3.25"/><circle cx="252.3" cy="277.4" r="3.25"/><circle cx="269.1" cy="290.9" r="3.25"/><circle cx="281.3" cy="280.8" r="3.25"/><circle cx="273.4" cy="278.1" r="3.25"/><circle cx="295.4" cy="290.7" r="3.25"/><circle cx="283.2" cy="270.8" r="3.25"/><circle cx="286.7" cy="291.3" r="3.25"/><circle cx="267.5" cy="259.2" r="3.25"/><circle cx="310.6" cy="285.1" r="3.25"/><circle cx="233.9" cy="262.1" r="3.25"/><circle cx="292.8" cy="297.7" r="3.25"/><circle cx="264.3" cy="291.6" r="3.25"/><circle cx="293.8" cy="278.4" r="3.25"/><circle cx="286.2" cy="288.9" r="3.25"/><circle cx="282.1" cy="292.3" r="3.25"/><circle cx="232.9" cy="279.7" r="3.25"/><circle cx="267.7" cy="305.4" r="3.25"/><circle cx="294.7" cy="274.9" r="3.25"/><circle cx="288.1" cy="269.0" r="3.25"/><circle cx="268.2" cy="300.8" r="3.25"/><circle cx="275.0" cy="300.3" r="3.25"/><circle cx="258.5" cy="300.3" r="3.25"/><circle cx="263.1" cy="302.4" r="3.25"/><circle cx="280.4" cy="293.0" r="3.25"/><circle cx="275.2" cy="302.8" r="3.25"/><circle cx="289.4" cy="290.3" r="3.25"/><circle cx="281.4" cy="285.4" r="3.25"/><circle cx="295.2" cy="270.1" r="3.25"/><circle cx="276.1" cy="284.2" r="3.25"/><circle cx="283.3" cy="301.5" r="3.25"/><circle cx="256.1" cy="273.7" r="3.25"/><circle cx="279.6" cy="290.6" r="3.25"/><circle cx="269.4" cy="293.3" r="3.25"/><circle cx="296.5" cy="261.2" r="3.25"/><circle cx="292.5" cy="269.9" r="3.25"/><circle cx="264.4" cy="296.0" r="3.25"/><circle cx="283.2" cy="276.8" r="3.25"/><circle cx="279.7" cy="296.4" r="3.25"/><circle cx="279.3" cy="258.8" r="3.25"/><circle cx="285.7" cy="281.3" r="3.25"/><circle cx="308.0" cy="281.6" r="3.25"/><circle cx="288.7" cy="289.3" r="3.25"/><circle cx="273.8" cy="280.7" r="3.25"/><circle cx="284.4" cy="281.1" r="3.25"/><circle cx="302.5" cy="300.3" r="3.25"/><circle cx="264.8" cy="263.7" r="3.25"/><circle cx="293.9" cy="295.8" r="3.25"/><circle cx="262.9" cy="258.7" r="3.25"/><circle cx="252.8" cy="295.6" r="3.25"/><circle cx="262.9" cy="264.6" r="3.25"/><circle cx="282.2" cy="295.2" r="3.25"/><circle cx="274.0" cy="286.7" r="3.25"/><circle cx="266.2" cy="294.5" r="3.25"/><circle cx="266.3" cy="303.2" r="3.25"/><circle cx="256.2" cy="268.7" r="3.25"/><circle cx="262.5" cy="301.8" r="3.25"/><circle cx="267.7" cy="295.7" r="3.25"/><circle cx="286.1" cy="287.8" r="3.25"/><circle cx="281.2" cy="295.6" r="3.25"/><circle cx="279.8" cy="288.9" r="3.25"/><circle cx="308.4" cy="262.7" r="3.25"/><circle cx="267.5" cy="290.8" r="3.25"/><circle cx="276.5" cy="297.2" r="3.25"/><circle cx="283.7" cy="278.7" r="3.25"/><circle cx="270.8" cy="300.2" r="3.25"/><circle cx="283.0" cy="302.7" r="3.25"/><circle cx="293.9" cy="287.2" r="3.25"/><circle cx="273.5" cy="301.9" r="3.25"/><circle cx="246.2" cy="263.9" r="3.25"/><circle cx="283.2" cy="291.0" r="3.25"/><circle cx="288.6" cy="297.5" r="3.25"/><circle cx="291.2" cy="294.4" r="3.25"/><circle cx="268.6" cy="293.2" r="3.25"/><circle cx="263.4" cy="298.4" r="3.25"/><circle cx="272.5" cy="297.7" r="3.25"/><circle cx="258.7" cy="287.4" r="3.25"/><circle cx="229.9" cy="276.2" r="3.25"/><circle cx="289.7" cy="270.8" r="3.25"/><circle cx="280.7" cy="303.0" r="3.25"/><circle cx="294.3" cy="277.2" r="3.25"/><circle cx="261.8" cy="286.3" r="3.25"/><circle cx="276.7" cy="289.8" r="3.25"/><circle cx="248.6" cy="268.0" r="3.25"/><circle cx="254.9" cy="297.3" r="3.25"/><circle cx="290.6" cy="275.3" r="3.25"/><circle cx="271.3" cy="290.5" r="3.25"/><circle cx="291.3" cy="301.1" r="3.25"/><circle cx="292.0" cy="283.2" r="3.25"/><circle cx="288.6" cy="288.2" r="3.25"/><circle cx="273.2" cy="298.8" r="3.25"/><circle cx="267.0" cy="289.3" r="3.25"/><circle cx="340.9" cy="261.2" r="3.25"/><circle cx="274.9" cy="277.3" r="3.25"/><circle cx="268.1" cy="300.9" r="3.25"/><circle cx="286.0" cy="297.0" r="3.25"/><circle cx="279.9" cy="264.1" r="3.25"/><circle cx="303.7" cy="284.9" r="3.25"/><circle cx="267.9" cy="303.7" r="3.25"/><circle cx="261.9" cy="283.3" r="3.25"/><circle cx="270.6" cy="305.3" r="3.25"/><circle cx="307.7" cy="287.4" r="3.25"/><circle cx="292.3" cy="293.0" r="3.25"/><circle cx="287.2" cy="271.6" r="3.25"/><circle cx="282.9" cy="272.0" r="3.25"/><circle cx="279.3" cy="304.6" r="3.25"/><circle cx="260.6" cy="289.1" r="3.25"/><circle cx="290.1" cy="281.0" r="3.25"/><circle cx="269.7" cy="304.1" r="3.25"/><circle cx="278.4" cy="303.5" r="3.25"/><circle cx="276.3" cy="301.0" r="3.25"/><circle cx="279.8" cy="301.6" r="3.25"/><circle cx="270.0" cy="295.1" r="3.25"/><circle cx="292.0" cy="294.5" r="3.25"/><circle cx="282.6" cy="295.0" r="3.25"/><circle cx="266.2" cy="301.3" r="3.25"/><circle cx="289.4" cy="279.2" r="3.25"/><circle cx="271.7" cy="300.6" r="3.25"/><circle cx="283.1" cy="294.7" r="3.25"/><circle cx="292.7" cy="290.2" r="3.25"/><circle cx="269.9" cy="303.0" r="3.25"/><circle cx="277.4" cy="290.6" r="3.25"/><circle cx="279.8" cy="287.2" r="3.25"/><circle cx="278.9" cy="289.1" r="3.25"/><circle cx="328.8" cy="274.8" r="3.25"/><circle cx="287.0" cy="280.9" r="3.25"/><circle cx="253.6" cy="274.8" r="3.25"/><circle cx="282.3" cy="279.5" r="3.25"/><circle cx="269.0" cy="297.8" r="3.25"/><circle cx="268.1" cy="300.9" r="3.25"/><circle cx="259.6" cy="292.8" r="3.25"/><circle cx="285.2" cy="302.0" r="3.25"/><circle cx="268.8" cy="283.8" r="3.25"/><circle cx="271.6" cy="283.8" r="3.25"/><circle cx="274.4" cy="286.0" r="3.25"/><circle cx="266.8" cy="294.1" r="3.25"/><circle cx="270.9" cy="304.5" r="3.25"/><circle cx="245.4" cy="297.6" r="3.25"/><circle cx="274.6" cy="303.6" r="3.25"/><circle cx="284.6" cy="301.1" r="3.25"/><circle cx="319.8" cy="280.4" r="3.25"/><circle cx="278.2" cy="296.0" r="3.25"/><circle cx="296.5" cy="282.8" r="3.25"/><circle cx="264.7" cy="281.5" r="3.25"/><circle cx="314.4" cy="276.4" r="3.25"/><circle cx="329.0" cy="279.5" r="3.25"/><circle cx="285.4" cy="286.6" r="3.25"/><circle cx="272.0" cy="302.3" r="3.25"/><circle cx="280.3" cy="285.6" r="3.25"/><circle cx="323.8" cy="267.7" r="3.25"/><circle cx="256.8" cy="289.9" r="3.25"/><circle cx="293.0" cy="301.0" r="3.25"/><circle cx="263.1" cy="298.3" r="3.25"/><circle cx="262.3" cy="278.1" r="3.25"/><circle cx="279.3" cy="303.7" r="3.25"/><circle cx="283.5" cy="304.1" r="3.25"/><circle cx="294.5" cy="291.7" r="3.25"/><circle cx="261.4" cy="298.7" r="3.25"/><circle cx="279.0" cy="294.4" r="3.25"/><circle cx="285.0" cy="304.2" r="3.25"/><circle cx="286.6" cy="279.4" r="3.25"/><circle cx="296.7" cy="292.4" r="3.25"/><circle cx="279.0" cy="291.7" r="3.25"/><circle cx="274.2" cy="279.6" r="3.25"/><circle cx="218.4" cy="261.2" r="3.25"/><circle cx="234.0" cy="269.6" r="3.25"/><circle cx="289.6" cy="295.4" r="3.25"/><circle cx="260.6" cy="296.7" r="3.25"/><circle cx="281.0" cy="299.8" r="3.25"/><circle cx="287.2" cy="296.1" r="3.25"/><circle cx="276.9" cy="287.4" r="3.25"/><circle cx="300.2" cy="283.4" r="3.25"/><circle cx="268.5" cy="304.3" r="3.25"/><circle cx="289.8" cy="288.0" r="3.25"/><circle cx="277.8" cy="279.5" r="3.25"/><circle cx="252.9" cy="290.4" r="3.25"/><circle cx="249.4" cy="298.9" r="3.25"/><circle cx="274.0" cy="302.2" r="3.25"/><circle cx="296.9" cy="301.7" r="3.25"/><circle cx="302.1" cy="285.1" r="3.25"/><circle cx="281.4" cy="304.5" r="3.25"/><circle cx="307.9" cy="265.4" r="3.25"/><circle cx="273.2" cy="303.0" r="3.25"/><circle cx="294.3" cy="299.9" r="3.25"/><circle cx="280.1" cy="300.6" r="3.25"/><circle cx="269.4" cy="278.3" r="3.25"/><circle cx="287.9" cy="295.2" r="3.25"/><circle cx="277.5" cy="282.2" r="3.25"/><circle cx="296.6" cy="280.7" r="3.25"/><circle cx="252.7" cy="275.4" r="3.25"/><circle cx="256.2" cy="287.0" r="3.25"/><circle cx="305.8" cy="296.4" r="3.25"/><circle cx="288.0" cy="293.3" r="3.25"/><circle cx="261.5" cy="296.9" r="3.25"/><circle cx="240.9" cy="271.3" r="3.25"/><circle cx="275.1" cy="301.3" r="3.25"/><circle cx="258.2" cy="282.5" r="3.25"/><circle cx="293.2" cy="301.5" r="3.25"/><circle cx="241.0" cy="284.2" r="3.25"/><circle cx="294.3" cy="298.0" r="3.25"/><circle cx="262.7" cy="299.8" r="3.25"/><circle cx="277.2" cy="298.7" r="3.25"/><circle cx="252.6" cy="280.8" r="3.25"/><circle cx="268.8" cy="305.0" r="3.25"/><circle cx="267.0" cy="270.9" r="3.25"/><circle cx="250.6" cy="270.4" r="3.25"/><circle cx="286.6" cy="281.3" r="3.25"/><circle cx="240.2" cy="288.4" r="3.25"/><circle cx="253.2" cy="288.6" r="3.25"/><circle cx="262.5" cy="294.0" r="3.25"/><circle cx="297.6" cy="283.4" r="3.25"/><circle cx="286.5" cy="303.6" r="3.25"/><circle cx="304.2" cy="289.8" r="3.25"/><circle cx="258.6" cy="281.0" r="3.25"/><circle cx="295.6" cy="283.1" r="3.25"/><circle cx="280.4" cy="295.7" r="3.25"/><circle cx="256.9" cy="295.5" r="3.25"/><circle cx="291.0" cy="279.2" r="3.25"/><circle cx="276.0" cy="299.6" r="3.25"/><circle cx="265.7" cy="287.4" r="3.25"/><circle cx="252.3" cy="268.4" r="3.25"/><circle cx="255.1" cy="301.6" r="3.25"/><circle cx="289.5" cy="281.9" r="3.25"/><circle cx="280.2" cy="305.2" r="3.25"/><circle cx="272.8" cy="285.1" r="3.25"/><circle cx="270.9" cy="296.0" r="3.25"/><circle cx="267.5" cy="295.5" r="3.25"/><circle cx="292.7" cy="286.7" r="3.25"/><circle cx="281.7" cy="287.3" r="3.25"/><circle cx="278.2" cy="295.1" r="3.25"/><circle cx="284.4" cy="294.5" r="3.25"/><circle cx="265.8" cy="276.6" r="3.25"/><circle cx="269.1" cy="287.7" r="3.25"/><circle cx="267.4" cy="292.8" r="3.25"/><circle cx="285.5" cy="297.7" r="3.25"/><circle cx="270.4" cy="272.3" r="3.25"/><circle cx="277.9" cy="285.1" r="3.25"/><circle cx="277.0" cy="301.0" r="3.25"/><circle cx="329.6" cy="259.5" r="3.25"/><circle cx="241.7" cy="270.1" r="3.25"/><circle cx="256.2" cy="289.8" r="3.25"/><circle cx="274.1" cy="286.0" r="3.25"/><circle cx="259.3" cy="267.4" r="3.25"/><circle cx="279.2" cy="293.8" r="3.25"/><circle cx="289.4" cy="285.1" r="3.25"/><circle cx="290.6" cy="302.5" r="3.25"/><circle cx="263.6" cy="272.6" r="3.25"/><circle cx="288.3" cy="264.1" r="3.25"/><circle cx="286.3" cy="259.8" r="3.25"/><circle cx="266.7" cy="296.5" r="3.25"/><circle cx="290.8" cy="283.9" r="3.25"/><circle cx="280.0" cy="299.2" r="3.25"/><circle cx="270.2" cy="301.2" r="3.25"/><circle cx="267.0" cy="301.7" r="3.25"/><circle cx="292.3" cy="285.9" r="3.25"/><circle cx="274.6" cy="299.9" r="3.25"/><circle cx="304.3" cy="282.0" r="3.25"/><circle cx="289.4" cy="297.2" r="3.25"/><circle cx="253.3" cy="281.1" r="3.25"/><circle cx="278.3" cy="291.5" r="3.25"/><circle cx="263.2" cy="267.7" r="3.25"/><circle cx="255.9" cy="276.9" r="3.25"/><circle cx="267.0" cy="304.4" r="3.25"/><circle cx="320.2" cy="268.3" r="3.25"/><circle cx="274.8" cy="277.1" r="3.25"/><circle cx="324.3" cy="276.8" r="3.25"/><circle cx="290.0" cy="293.5" r="3.25"/><circle cx="238.1" cy="274.2" r="3.25"/><circle cx="286.4" cy="288.2" r="3.25"/><circle cx="296.0" cy="300.5" r="3.25"/><circle cx="249.9" cy="296.3" r="3.25"/><circle cx="259.5" cy="301.3" r="3.25"/><circle cx="274.3" cy="303.3" r="3.25"/><circle cx="267.1" cy="274.1" r="3.25"/><circle cx="300.4" cy="298.7" r="3.25"/><circle cx="263.7" cy="295.6" r="3.25"/><circle cx="257.2" cy="299.9" r="3.25"/><circle cx="262.4" cy="288.3" r="3.25"/><circle cx="279.0" cy="305.5" r="3.25"/><circle cx="292.9" cy="275.1" r="3.25"/><circle cx="281.3" cy="287.3" r="3.25"/><circle cx="314.4" cy="280.8" r="3.25"/><circle cx="303.3" cy="297.5" r="3.25"/><circle cx="318.8" cy="284.3" r="3.25"/><circle cx="276.3" cy="290.6" r="3.25"/><circle cx="292.5" cy="292.2" r="3.25"/><circle cx="273.8" cy="279.6" r="3.25"/><circle cx="299.6" cy="295.2" r="3.25"/><circle cx="267.8" cy="302.0" r="3.25"/><circle cx="273.8" cy="295.9" r="3.25"/><circle cx="269.8" cy="301.8" r="3.25"/><circle cx="306.8" cy="289.7" r="3.25"/><circle cx="250.4" cy="282.6" r="3.25"/><circle cx="264.8" cy="296.9" r="3.25"/><circle cx="261.5" cy="304.2" r="3.25"/><circle cx="275.7" cy="301.0" r="3.25"/><circle cx="264.1" cy="300.3" r="3.25"/><circle cx="304.3" cy="273.6" r="3.25"/><circle cx="286.1" cy="304.6" r="3.25"/><circle cx="245.9" cy="297.5" r="3.25"/><circle cx="283.3" cy="295.4" r="3.25"/><circle cx="244.4" cy="279.1" r="3.25"/><circle cx="276.3" cy="297.8" r="3.25"/><circle cx="252.0" cy="278.5" r="3.25"/><circle cx="286.0" cy="302.7" r="3.25"/><circle cx="247.6" cy="271.7" r="3.25"/><circle cx="268.4" cy="305.2" r="3.25"/><circle cx="287.3" cy="288.1" r="3.25"/><circle cx="281.5" cy="277.3" r="3.25"/><circle cx="294.7" cy="293.6" r="3.25"/><circle cx="285.3" cy="290.7" r="3.25"/><circle cx="252.2" cy="291.8" r="3.25"/><circle cx="282.1" cy="291.0" r="3.25"/><circle cx="259.4" cy="294.6" r="3.25"/><circle cx="322.5" cy="270.6" r="3.25"/><circle cx="305.3" cy="279.4" r="3.25"/><circle cx="326.9" cy="281.3" r="3.25"/><circle cx="286.2" cy="302.2" r="3.25"/><circle cx="299.9" cy="295.7" r="3.25"/><circle cx="292.0" cy="295.2" r="3.25"/><circle cx="295.4" cy="287.2" r="3.25"/><circle cx="290.9" cy="295.1" r="3.25"/><circle cx="279.5" cy="303.0" r="3.25"/><circle cx="256.5" cy="282.3" r="3.25"/><circle cx="247.5" cy="284.6" r="3.25"/><circle cx="265.4" cy="296.7" r="3.25"/><circle cx="310.4" cy="285.2" r="3.25"/><circle cx="274.7" cy="266.1" r="3.25"/><circle cx="264.4" cy="294.8" r="3.25"/><circle cx="265.5" cy="303.3" r="3.25"/><circle cx="293.9" cy="269.3" r="3.25"/><circle cx="276.4" cy="294.8" r="3.25"/><circle cx="305.8" cy="280.6" r="3.25"/><circle cx="272.3" cy="290.8" r="3.25"/><circle cx="264.4" cy="299.0" r="3.25"/><circle cx="288.5" cy="287.9" r="3.25"/><circle cx="273.7" cy="300.2" r="3.25"/><circle cx="274.6" cy="300.3" r="3.25"/><circle cx="303.6" cy="276.0" r="3.25"/><circle cx="253.7" cy="262.0" r="3.25"/><circle cx="269.7" cy="275.5" r="3.25"/><circle cx="269.2" cy="304.2" r="3.25"/><circle cx="278.6" cy="304.4" r="3.25"/><circle cx="250.9" cy="283.0" r="3.25"/><circle cx="299.6" cy="295.2" r="3.25"/><circle cx="280.0" cy="292.4" r="3.25"/><circle cx="279.8" cy="296.8" r="3.25"/><circle cx="274.3" cy="299.7" r="3.25"/><circle cx="275.8" cy="301.4" r="3.25"/><circle cx="302.2" cy="288.2" r="3.25"/><circle cx="263.0" cy="292.2" r="3.25"/><circle cx="293.2" cy="289.3" r="3.25"/><circle cx="275.2" cy="292.1" r="3.25"/><circle cx="275.3" cy="280.4" r="3.25"/><circle cx="283.5" cy="299.4" r="3.25"/><circle cx="303.6" cy="295.2" r="3.25"/><circle cx="275.5" cy="297.4" r="3.25"/><circle cx="268.9" cy="303.7" r="3.25"/><circle cx="283.6" cy="298.0" r="3.25"/><circle cx="262.5" cy="287.8" r="3.25"/><circle cx="262.2" cy="296.9" r="3.25"/><circle cx="271.7" cy="288.8" r="3.25"/><circle cx="254.4" cy="291.4" r="3.25"/><circle cx="289.1" cy="297.8" r="3.25"/><circle cx="272.9" cy="284.7" r="3.25"/><circle cx="278.0" cy="301.5" r="3.25"/><circle cx="275.8" cy="304.7" r="3.25"/><circle cx="273.0" cy="279.2" r="3.25"/><circle cx="266.4" cy="289.0" r="3.25"/><circle cx="285.3" cy="304.6" r="3.25"/><circle cx="314.9" cy="277.4" r="3.25"/><circle cx="273.8" cy="304.5" r="3.25"/><circle cx="278.7" cy="305.4" r="3.25"/><circle cx="282.4" cy="296.7" r="3.25"/><circle cx="272.1" cy="297.4" r="3.25"/><circle cx="281.0" cy="267.5" r="3.25"/><circle cx="251.5" cy="294.3" r="3.25"/><circle cx="256.4" cy="288.2" r="3.25"/><circle cx="263.0" cy="295.8" r="3.25"/><circle cx="254.4" cy="278.7" r="3.25"/><circle cx="284.3" cy="294.4" r="3.25"/><circle cx="284.6" cy="290.2" r="3.25"/><circle cx="284.6" cy="292.3" r="3.25"/><circle cx="274.2" cy="279.5" r="3.25"/><circle cx="291.7" cy="297.5" r="3.25"/><circle cx="294.5" cy="290.0" r="3.25"/><circle cx="287.4" cy="292.3" r="3.25"/><circle cx="272.7" cy="274.9" r="3.25"/><circle cx="311.2" cy="283.2" r="3.25"/><circle cx="260.4" cy="300.5" r="3.25"/><circle cx="252.7" cy="297.1" r="3.25"/><circle cx="253.6" cy="286.3" r="3.25"/><circle cx="279.7" cy="290.8" r="3.25"/><circle cx="267.5" cy="288.4" r="3.25"/><circle cx="273.3" cy="300.0" r="3.25"/><circle cx="262.5" cy="298.1" r="3.25"/><circle cx="240.5" cy="289.5" r="3.25"/><circle cx="279.4" cy="286.2" r="3.25"/><circle cx="307.1" cy="284.4" r="3.25"/><circle cx="277.6" cy="291.1" r="3.25"/><circle cx="288.9" cy="288.1" r="3.25"/><circle cx="264.4" cy="277.7" r="3.25"/><circle cx="288.4" cy="291.9" r="3.25"/><circle cx="271.0" cy="288.6" r="3.25"/><circle cx="297.6" cy="270.0" r="3.25"/><circle cx="284.9" cy="278.9" r="3.25"/><circle cx="261.1" cy="298.5" r="3.25"/><circle cx="275.9" cy="304.7" r="3.25"/><circle cx="282.5" cy="284.5" r="3.25"/><circle cx="262.1" cy="259.6" r="3.25"/><circle cx="276.0" cy="291.8" r="3.25"/><circle cx="303.4" cy="285.3" r="3.25"/><circle cx="277.4" cy="300.0" r="3.25"/><circle cx="287.1" cy="299.3" r="3.25"/><circle cx="339.0" cy="260.5" r="3.25"/><circle cx="274.5" cy="284.9" r="3.25"/><circle cx="261.9" cy="284.2" r="3.25"/><circle cx="281.2" cy="298.2" r="3.25"/><circle cx="280.3" cy="296.7" r="3.25"/><circle cx="298.7" cy="281.3" r="3.25"/><circle cx="267.9" cy="298.7" r="3.25"/><circle cx="307.7" cy="291.8" r="3.25"/><circle cx="297.6" cy="284.7" r="3.25"/><circle cx="262.1" cy="297.4" r="3.25"/><circle cx="289.5" cy="301.9" r="3.25"/><circle cx="280.0" cy="257.8" r="3.25"/><circle cx="284.4" cy="303.3" r="3.25"/><circle cx="283.7" cy="293.5" r="3.25"/><circle cx="278.5" cy="294.0" r="3.25"/><circle cx="281.6" cy="297.7" r="3.25"/><circle cx="270.8" cy="277.9" r="3.25"/><circle cx="267.2" cy="304.4" r="3.25"/><circle cx="274.2" cy="289.3" r="3.25"/><circle cx="273.5" cy="286.1" r="3.25"/><circle cx="295.7" cy="259.8" r="3.25"/><circle cx="279.5" cy="298.5" r="3.25"/><circle cx="240.9" cy="272.9" r="3.25"/><circle cx="286.8" cy="302.0" r="3.25"/><circle cx="280.2" cy="273.7" r="3.25"/><circle cx="295.5" cy="286.5" r="3.25"/><circle cx="291.7" cy="287.2" r="3.25"/><circle cx="286.0" cy="280.5" r="3.25"/><circle cx="282.8" cy="303.5" r="3.25"/><circle cx="254.6" cy="293.9" r="3.25"/><circle cx="327.3" cy="275.4" r="3.25"/><circle cx="283.4" cy="304.2" r="3.25"/><circle cx="269.3" cy="290.2" r="3.25"/><circle cx="287.0" cy="298.0" r="3.25"/><circle cx="272.5" cy="287.8" r="3.25"/><circle cx="303.2" cy="294.8" r="3.25"/><circle cx="270.6" cy="284.3" r="3.25"/><circle cx="261.5" cy="301.7" r="3.25"/><circle cx="264.9" cy="296.5" r="3.25"/><circle cx="267.0" cy="303.2" r="3.25"/><circle cx="298.5" cy="275.1" r="3.25"/><circle cx="280.7" cy="271.7" r="3.25"/><circle cx="278.9" cy="305.3" r="3.25"/><circle cx="273.6" cy="261.1" r="3.25"/><circle cx="301.1" cy="291.2" r="3.25"/><circle cx="281.7" cy="274.5" r="3.25"/><circle cx="289.3" cy="265.2" r="3.25"/><circle cx="280.1" cy="302.3" r="3.25"/><circle cx="269.4" cy="292.1" r="3.25"/><circle cx="274.9" cy="281.8" r="3.25"/><circle cx="287.2" cy="284.6" r="3.25"/><circle cx="265.8" cy="296.8" r="3.25"/><circle cx="307.2" cy="278.4" r="3.25"/><circle cx="256.2" cy="298.2" r="3.25"/><circle cx="238.9" cy="287.7" r="3.25"/><circle cx="263.3" cy="299.4" r="3.25"/><circle cx="251.1" cy="299.9" r="3.25"/><circle cx="274.8" cy="293.2" r="3.25"/><circle cx="277.2" cy="300.1" r="3.25"/><circle cx="273.4" cy="295.6" r="3.25"/><circle cx="269.0" cy="300.5" r="3.25"/><circle cx="257.7" cy="281.6" r="3.25"/><circle cx="299.0" cy="283.1" r="3.25"/><circle cx="248.3" cy="297.2" r="3.25"/><circle cx="301.4" cy="269.5" r="3.25"/><circle cx="278.6" cy="305.5" r="3.25"/><circle cx="282.2" cy="257.8" r="3.25"/><circle cx="288.4" cy="284.7" r="3.25"/><circle cx="256.3" cy="301.4" r="3.25"/><circle cx="294.8" cy="291.7" r="3.25"/><circle cx="283.7" cy="299.8" r="3.25"/><circle cx="296.7" cy="292.3" r="3.25"/><circle cx="234.6" cy="279.3" r="3.25"/><circle cx="279.2" cy="303.0" r="3.25"/><circle cx="276.3" cy="288.7" r="3.25"/><circle cx="272.6" cy="286.4" r="3.25"/><circle cx="276.7" cy="303.2" r="3.25"/><circle cx="261.6" cy="271.5" r="3.25"/><circle cx="285.9" cy="287.8" r="3.25"/><circle cx="285.0" cy="298.2" r="3.25"/><circle cx="270.5" cy="291.3" r="3.25"/><circle cx="272.1" cy="294.4" r="3.25"/><circle cx="298.2" cy="277.6" r="3.25"/><circle cx="254.7" cy="263.1" r="3.25"/><circle cx="287.7" cy="288.7" r="3.25"/><circle cx="308.4" cy="281.2" r="3.25"/><circle cx="276.4" cy="298.3" r="3.25"/><circle cx="283.4" cy="294.7" r="3.25"/><circle cx="280.0" cy="284.1" r="3.25"/><circle cx="289.7" cy="296.2" r="3.25"/><circle cx="237.8" cy="259.3" r="3.25"/><circle cx="255.2" cy="303.3" r="3.25"/><circle cx="261.9" cy="283.1" r="3.25"/><circle cx="268.3" cy="300.9" r="3.25"/><circle cx="288.8" cy="301.6" r="3.25"/><circle cx="293.7" cy="301.9" r="3.25"/><circle cx="287.6" cy="292.4" r="3.25"/><circle cx="299.2" cy="291.8" r="3.25"/><circle cx="271.2" cy="274.3" r="3.25"/><circle cx="268.3" cy="278.8" r="3.25"/><circle cx="248.3" cy="284.3" r="3.25"/><circle cx="303.5" cy="283.1" r="3.25"/><circle cx="284.6" cy="298.1" r="3.25"/><circle cx="276.3" cy="298.2" r="3.25"/><circle cx="259.1" cy="302.2" r="3.25"/><circle cx="258.7" cy="284.2" r="3.25"/><circle cx="298.3" cy="259.8" r="3.25"/><circle cx="278.9" cy="285.5" r="3.25"/><circle cx="295.7" cy="293.1" r="3.25"/><circle cx="286.5" cy="270.3" r="3.25"/><circle cx="265.9" cy="291.7" r="3.25"/><circle cx="262.0" cy="304.9" r="3.25"/><circle cx="282.7" cy="263.0" r="3.25"/><circle cx="265.9" cy="296.2" r="3.25"/><circle cx="264.5" cy="284.0" r="3.25"/><circle cx="288.4" cy="270.2" r="3.25"/><circle cx="267.3" cy="294.2" r="3.25"/><circle cx="235.9" cy="272.8" r="3.25"/><circle cx="296.7" cy="299.3" r="3.25"/><circle cx="271.1" cy="297.2" r="3.25"/><circle cx="280.9" cy="304.9" r="3.25"/><circle cx="282.8" cy="267.5" r="3.25"/><circle cx="254.2" cy="289.7" r="3.25"/><circle cx="286.7" cy="295.5" r="3.25"/><circle cx="307.2" cy="274.0" r="3.25"/><circle cx="280.1" cy="297.2" r="3.25"/><circle cx="292.2" cy="279.4" r="3.25"/><circle cx="289.6" cy="302.8" r="3.25"/><circle cx="284.5" cy="299.3" r="3.25"/><circle cx="275.8" cy="291.5" r="3.25"/><circle cx="252.3" cy="296.1" r="3.25"/><circle cx="261.6" cy="282.1" r="3.25"/><circle cx="266.7" cy="304.5" r="3.25"/><circle cx="288.1" cy="297.1" r="3.25"/><circle cx="299.2" cy="293.8" r="3.25"/><circle cx="276.3" cy="302.7" r="3.25"/><circle cx="293.5" cy="294.0" r="3.25"/><circle cx="288.2" cy="273.1" r="3.25"/><circle cx="256.8" cy="288.3" r="3.25"/><circle cx="294.1" cy="291.7" r="3.25"/><circle cx="295.6" cy="297.3" r="3.25"/><circle cx="294.0" cy="296.7" r="3.25"/><circle cx="297.5" cy="280.5" r="3.25"/><circle cx="291.9" cy="300.4" r="3.25"/><circle cx="324.5" cy="275.1" r="3.25"/><circle cx="270.0" cy="305.4" r="3.25"/><circle cx="317.5" cy="277.2" r="3.25"/><circle cx="273.3" cy="287.6" r="3.25"/><circle cx="254.0" cy="288.5" r="3.25"/><circle cx="289.3" cy="290.7" r="3.25"/><circle cx="292.0" cy="291.2" r="3.25"/><circle cx="284.6" cy="290.7" r="3.25"/><circle cx="267.2" cy="281.6" r="3.25"/><circle cx="294.9" cy="279.4" r="3.25"/><circle cx="276.0" cy="282.8" r="3.25"/><circle cx="280.8" cy="303.7" r="3.25"/><circle cx="291.0" cy="278.1" r="3.25"/><circle cx="270.4" cy="300.5" r="3.25"/><circle cx="288.8" cy="292.7" r="3.25"/><circle cx="303.6" cy="295.9" r="3.25"/><circle cx="267.1" cy="293.9" r="3.25"/><circle cx="272.4" cy="302.3" r="3.25"/><circle cx="249.1" cy="296.0" r="3.25"/><circle cx="277.7" cy="291.6" r="3.25"/><circle cx="252.1" cy="270.2" r="3.25"/><circle cx="272.4" cy="282.3" r="3.25"/><circle cx="266.6" cy="296.9" r="3.25"/><circle cx="274.3" cy="287.0" r="3.25"/><circle cx="264.3" cy="283.4" r="3.25"/><circle cx="272.8" cy="283.0" r="3.25"/><circle cx="258.8" cy="289.1" r="3.25"/><circle cx="278.4" cy="304.8" r="3.25"/><circle cx="292.7" cy="295.5" r="3.25"/><circle cx="299.5" cy="275.8" r="3.25"/><circle cx="244.4" cy="287.8" r="3.25"/><circle cx="295.2" cy="299.3" r="3.25"/><circle cx="289.3" cy="294.3" r="3.25"/><circle cx="299.2" cy="289.5" r="3.25"/><circle cx="265.9" cy="305.1" r="3.25"/><circle cx="268.1" cy="288.7" r="3.25"/><circle cx="296.9" cy="276.7" r="3.25"/><circle cx="301.5" cy="298.9" r="3.25"/><circle cx="261.4" cy="287.7" r="3.25"/><circle cx="289.3" cy="271.4" r="3.25"/><circle cx="281.0" cy="304.9" r="3.25"/><circle cx="272.2" cy="298.6" r="3.25"/><circle cx="284.0" cy="292.7" r="3.25"/><circle cx="269.7" cy="290.4" r="3.25"/><circle cx="299.1" cy="293.2" r="3.25"/><circle cx="256.5" cy="303.0" r="3.25"/><circle cx="283.6" cy="291.8" r="3.25"/><circle cx="269.6" cy="287.7" r="3.25"/><circle cx="281.3" cy="266.4" r="3.25"/><circle cx="259.9" cy="275.8" r="3.25"/><circle cx="297.6" cy="299.7" r="3.25"/><circle cx="299.5" cy="273.7" r="3.25"/><circle cx="287.7" cy="285.8" r="3.25"/><circle cx="277.9" cy="292.2" r="3.25"/><circle cx="283.6" cy="292.3" r="3.25"/><circle cx="273.7" cy="283.7" r="3.25"/><circle cx="280.8" cy="290.9" r="3.25"/><circle cx="295.3" cy="300.8" r="3.25"/><circle cx="268.9" cy="304.0" r="3.25"/><circle cx="266.1" cy="304.4" r="3.25"/><circle cx="270.3" cy="273.7" r="3.25"/><circle cx="279.6" cy="301.9" r="3.25"/><circle cx="276.4" cy="287.1" r="3.25"/><circle cx="295.8" cy="275.9" r="3.25"/><circle cx="290.0" cy="290.9" r="3.25"/><circle cx="278.2" cy="302.1" r="3.25"/><circle cx="264.6" cy="302.4" r="3.25"/><circle cx="264.4" cy="299.9" r="3.25"/><circle cx="278.9" cy="296.6" r="3.25"/><circle cx="304.9" cy="296.7" r="3.25"/><circle cx="251.0" cy="296.3" r="3.25"/><circle cx="278.7" cy="279.8" r="3.25"/><circle cx="284.3" cy="297.5" r="3.25"/><circle cx="269.2" cy="297.1" r="3.25"/><circle cx="280.2" cy="299.7" r="3.25"/><circle cx="313.1" cy="270.3" r="3.25"/><circle cx="315.5" cy="280.1" r="3.25"/><circle cx="332.1" cy="273.2" r="3.25"/><circle cx="319.4" cy="269.2" r="3.25"/><circle cx="310.4" cy="279.2" r="3.25"/><circle cx="325.3" cy="272.5" r="3.25"/><circle cx="322.2" cy="289.0" r="3.25"/><circle cx="316.1" cy="265.0" r="3.25"/><circle cx="317.2" cy="277.4" r="3.25"/><circle cx="313.7" cy="263.7" r="3.25"/><circle cx="314.1" cy="294.6" r="3.25"/><circle cx="323.3" cy="263.3" r="3.25"/><circle cx="313.8" cy="268.1" r="3.25"/><circle cx="341.9" cy="286.6" r="3.25"/><circle cx="314.2" cy="280.9" r="3.25"/><circle cx="340.6" cy="270.4" r="3.25"/><circle cx="321.0" cy="271.4" r="3.25"/><circle cx="311.9" cy="266.5" r="3.25"/><circle cx="334.2" cy="271.0" r="3.25"/><circle cx="327.3" cy="279.6" r="3.25"/><circle cx="341.6" cy="273.7" r="3.25"/><circle cx="346.9" cy="273.3" r="3.25"/><circle cx="341.3" cy="266.6" r="3.25"/><circle cx="313.2" cy="263.9" r="3.25"/><circle cx="330.8" cy="270.3" r="3.25"/><circle cx="320.8" cy="263.9" r="3.25"/><circle cx="332.7" cy="272.3" r="3.25"/><circle cx="339.9" cy="283.2" r="3.25"/><circle cx="338.3" cy="267.8" r="3.25"/><circle cx="312.9" cy="273.3" r="3.25"/><circle cx="336.4" cy="279.8" r="3.25"/><circle cx="344.8" cy="270.3" r="3.25"/><circle cx="324.7" cy="295.2" r="3.25"/><circle cx="328.1" cy="266.8" r="3.25"/><circle cx="311.6" cy="290.6" r="3.25"/><circle cx="315.6" cy="273.7" r="3.25"/><circle cx="326.0" cy="280.6" r="3.25"/><circle cx="326.1" cy="282.7" r="3.25"/><circle cx="338.3" cy="275.5" r="3.25"/><circle cx="329.2" cy="266.3" r="3.25"/><circle cx="310.9" cy="264.1" r="3.25"/><circle cx="310.2" cy="292.0" r="3.25"/><circle cx="329.5" cy="286.9" r="3.25"/><circle cx="321.0" cy="263.2" r="3.25"/><circle cx="317.0" cy="291.8" r="3.25"/><circle cx="316.8" cy="292.4" r="3.25"/><circle cx="318.0" cy="287.9" r="3.25"/><circle cx="311.0" cy="280.2" r="3.25"/><circle cx="309.6" cy="288.3" r="3.25"/><circle cx="338.8" cy="272.3" r="3.25"/><circle cx="342.2" cy="262.4" r="3.25"/><circle cx="319.5" cy="267.9" r="3.25"/><circle cx="321.5" cy="267.0" r="3.25"/><circle cx="326.3" cy="272.9" r="3.25"/><circle cx="342.2" cy="277.3" r="3.25"/><circle cx="344.9" cy="290.1" r="3.25"/><circle cx="313.9" cy="275.4" r="3.25"/><circle cx="346.7" cy="279.2" r="3.25"/><circle cx="310.3" cy="291.3" r="3.25"/><circle cx="340.4" cy="293.6" r="3.25"/><circle cx="228.2" cy="282.7" r="3.25"/><circle cx="229.7" cy="275.8" r="3.25"/><circle cx="226.3" cy="284.5" r="3.25"/><circle cx="230.8" cy="272.4" r="3.25"/><circle cx="225.8" cy="267.2" r="3.25"/><circle cx="223.3" cy="286.7" r="3.25"/><circle cx="224.1" cy="279.9" r="3.25"/><circle cx="235.6" cy="268.2" r="3.25"/><circle cx="228.1" cy="278.5" r="3.25"/><circle cx="232.1" cy="284.0" r="3.25"/><circle cx="233.3" cy="281.6" r="3.25"/><circle cx="230.9" cy="288.2" r="3.25"/><circle cx="223.4" cy="282.1" r="3.25"/><circle cx="229.0" cy="272.5" r="3.25"/><circle cx="231.2" cy="272.6" r="3.25"/><circle cx="229.7" cy="277.3" r="3.25"/><circle cx="229.6" cy="287.9" r="3.25"/><circle cx="222.6" cy="266.5" r="3.25"/><circle cx="218.7" cy="284.9" r="3.25"/><circle cx="217.4" cy="270.4" r="3.25"/><circle cx="225.0" cy="284.5" r="3.25"/><circle cx="235.9" cy="271.1" r="3.25"/><circle cx="220.7" cy="278.5" r="3.25"/><circle cx="234.5" cy="266.4" r="3.25"/><circle cx="232.6" cy="282.0" r="3.25"/><circle cx="233.1" cy="273.6" r="3.25"/><circle cx="223.9" cy="267.0" r="3.25"/><circle cx="221.3" cy="285.0" r="3.25"/><circle cx="220.2" cy="286.6" r="3.25"/><circle cx="226.4" cy="284.0" r="3.25"/></g>
<g fill="#a8d4e4"><circle cx="155.7" cy="188.1" r="3.25"/><circle cx="185.6" cy="166.1" r="3.25"/><circle cx="187.2" cy="175.6" r="3.25"/><circle cx="182.5" cy="181.1" r="3.25"/><circle cx="200.6" cy="190.5" r="3.25"/><circle cx="199.0" cy="202.3" r="3.25"/><circle cx="206.9" cy="200.7" r="3.25"/><circle cx="217.9" cy="125.2" r="3.25"/><circle cx="215.6" cy="164.5" r="3.25"/><circle cx="209.3" cy="177.1" r="3.25"/><circle cx="199.0" cy="255.8" r="3.25"/><circle cx="221.1" cy="249.5" r="3.25"/><circle cx="185.6" cy="169.3" r="3.25"/><circle cx="214.0" cy="169.3" r="3.25"/><circle cx="221.9" cy="174.0" r="3.25"/><circle cx="228.1" cy="172.4" r="3.25"/><circle cx="234.4" cy="170.8" r="3.25"/><circle cx="239.2" cy="169.3" r="3.25"/><circle cx="225.8" cy="178.7" r="3.25"/><circle cx="240.6" cy="225.5" r="3.25"/><circle cx="224.9" cy="229.2" r="3.25"/><circle cx="221.6" cy="228.2" r="3.25"/><circle cx="220.2" cy="184.5" r="3.25"/><circle cx="229.7" cy="233.8" r="3.25"/><circle cx="221.0" cy="247.7" r="3.25"/><circle cx="236.3" cy="240.4" r="3.25"/><circle cx="234.6" cy="175.9" r="3.25"/><circle cx="224.8" cy="221.7" r="3.25"/><circle cx="224.5" cy="227.7" r="3.25"/><circle cx="240.1" cy="191.0" r="3.25"/><circle cx="217.4" cy="214.5" r="3.25"/><circle cx="235.9" cy="187.7" r="3.25"/><circle cx="226.9" cy="236.1" r="3.25"/><circle cx="240.6" cy="228.6" r="3.25"/><circle cx="231.5" cy="208.7" r="3.25"/><circle cx="215.4" cy="238.6" r="3.25"/><circle cx="235.4" cy="235.2" r="3.25"/><circle cx="219.8" cy="242.9" r="3.25"/><circle cx="236.3" cy="236.3" r="3.25"/><circle cx="223.1" cy="185.6" r="3.25"/><circle cx="240.0" cy="189.5" r="3.25"/><circle cx="232.8" cy="249.4" r="3.25"/><circle cx="218.9" cy="228.7" r="3.25"/><circle cx="222.4" cy="195.9" r="3.25"/><circle cx="227.3" cy="183.8" r="3.25"/><circle cx="240.9" cy="210.1" r="3.25"/><circle cx="236.1" cy="195.5" r="3.25"/><circle cx="238.6" cy="238.5" r="3.25"/><circle cx="221.1" cy="190.6" r="3.25"/><circle cx="240.7" cy="187.2" r="3.25"/><circle cx="228.6" cy="223.6" r="3.25"/><circle cx="237.3" cy="238.6" r="3.25"/><circle cx="234.4" cy="256.5" r="3.25"/><circle cx="227.4" cy="204.0" r="3.25"/><circle cx="241.0" cy="203.8" r="3.25"/><circle cx="227.9" cy="259.3" r="3.25"/><circle cx="235.9" cy="213.6" r="3.25"/><circle cx="239.3" cy="176.8" r="3.25"/><circle cx="239.5" cy="256.8" r="3.25"/><circle cx="226.1" cy="247.3" r="3.25"/><circle cx="233.8" cy="254.3" r="3.25"/><circle cx="239.2" cy="221.0" r="3.25"/><circle cx="226.9" cy="225.5" r="3.25"/><circle cx="229.1" cy="182.9" r="3.25"/><circle cx="214.6" cy="253.5" r="3.25"/><circle cx="234.6" cy="241.7" r="3.25"/><circle cx="239.1" cy="176.9" r="3.25"/><circle cx="237.8" cy="257.7" r="3.25"/><circle cx="215.7" cy="236.6" r="3.25"/><circle cx="236.0" cy="224.7" r="3.25"/><circle cx="234.5" cy="259.3" r="3.25"/><circle cx="221.9" cy="234.1" r="3.25"/><circle cx="236.4" cy="206.4" r="3.25"/><circle cx="241.0" cy="205.3" r="3.25"/><circle cx="238.3" cy="205.8" r="3.25"/><circle cx="239.6" cy="202.1" r="3.25"/><circle cx="220.2" cy="205.3" r="3.25"/><circle cx="224.6" cy="256.3" r="3.25"/><circle cx="232.3" cy="201.8" r="3.25"/><circle cx="236.7" cy="208.0" r="3.25"/><circle cx="237.4" cy="240.2" r="3.25"/><circle cx="230.8" cy="222.5" r="3.25"/><circle cx="231.3" cy="238.5" r="3.25"/><circle cx="231.8" cy="183.0" r="3.25"/><circle cx="229.7" cy="234.9" r="3.25"/><circle cx="232.7" cy="245.1" r="3.25"/><circle cx="238.2" cy="189.3" r="3.25"/><circle cx="237.3" cy="192.4" r="3.25"/><circle cx="241.0" cy="184.4" r="3.25"/><circle cx="225.1" cy="199.8" r="3.25"/><circle cx="218.4" cy="222.7" r="3.25"/><circle cx="218.0" cy="217.6" r="3.25"/><circle cx="225.7" cy="210.6" r="3.25"/><circle cx="230.5" cy="207.0" r="3.25"/><circle cx="236.8" cy="176.3" r="3.25"/><circle cx="218.7" cy="236.0" r="3.25"/><circle cx="225.9" cy="191.8" r="3.25"/><circle cx="240.7" cy="257.9" r="3.25"/><circle cx="226.4" cy="242.7" r="3.25"/><circle cx="233.0" cy="237.3" r="3.25"/><circle cx="237.2" cy="214.4" r="3.25"/><circle cx="240.5" cy="201.8" r="3.25"/><circle cx="228.4" cy="216.4" r="3.25"/><circle cx="238.2" cy="197.7" r="3.25"/><circle cx="237.5" cy="173.3" r="3.25"/><circle cx="221.9" cy="176.6" r="3.25"/><circle cx="236.1" cy="243.4" r="3.25"/><circle cx="219.5" cy="247.1" r="3.25"/><circle cx="222.7" cy="234.1" r="3.25"/><circle cx="229.0" cy="246.6" r="3.25"/><circle cx="231.8" cy="192.2" r="3.25"/><circle cx="237.6" cy="186.1" r="3.25"/><circle cx="217.1" cy="247.0" r="3.25"/><circle cx="238.3" cy="252.9" r="3.25"/><circle cx="224.6" cy="230.9" r="3.25"/><circle cx="232.2" cy="199.0" r="3.25"/><circle cx="219.2" cy="191.6" r="3.25"/><circle cx="240.3" cy="218.9" r="3.25"/><circle cx="241.1" cy="203.2" r="3.25"/><circle cx="233.8" cy="178.7" r="3.25"/><circle cx="223.6" cy="182.0" r="3.25"/><circle cx="230.5" cy="249.0" r="3.25"/><circle cx="236.2" cy="196.7" r="3.25"/><circle cx="218.1" cy="191.1" r="3.25"/><circle cx="240.4" cy="222.6" r="3.25"/><circle cx="231.5" cy="245.7" r="3.25"/><circle cx="241.8" cy="217.7" r="3.25"/><circle cx="238.5" cy="226.8" r="3.25"/><circle cx="237.0" cy="224.8" r="3.25"/><circle cx="230.6" cy="188.8" r="3.25"/><circle cx="228.5" cy="202.1" r="3.25"/><circle cx="232.2" cy="199.6" r="3.25"/><circle cx="220.7" cy="202.0" r="3.25"/><circle cx="227.0" cy="246.9" r="3.25"/><circle cx="212.7" cy="254.3" r="3.25"/><circle cx="215.8" cy="224.6" r="3.25"/><circle cx="220.7" cy="184.7" r="3.25"/><circle cx="229.3" cy="202.3" r="3.25"/><circle cx="241.8" cy="189.8" r="3.25"/><circle cx="238.7" cy="204.6" r="3.25"/><circle cx="236.7" cy="190.4" r="3.25"/><circle cx="241.7" cy="171.8" r="3.25"/><circle cx="241.3" cy="196.7" r="3.25"/><circle cx="227.3" cy="183.6" r="3.25"/><circle cx="233.9" cy="173.8" r="3.25"/><circle cx="234.2" cy="194.2" r="3.25"/><circle cx="237.8" cy="187.9" r="3.25"/><circle cx="222.4" cy="252.5" r="3.25"/><circle cx="241.1" cy="256.2" r="3.25"/><circle cx="236.9" cy="178.2" r="3.25"/><circle cx="241.3" cy="238.5" r="3.25"/><circle cx="224.2" cy="232.5" r="3.25"/><circle cx="238.9" cy="247.5" r="3.25"/><circle cx="235.6" cy="203.6" r="3.25"/><circle cx="225.9" cy="256.8" r="3.25"/><circle cx="223.7" cy="189.1" r="3.25"/><circle cx="235.3" cy="233.1" r="3.25"/><circle cx="213.3" cy="194.0" r="3.25"/><circle cx="229.9" cy="179.3" r="3.25"/><circle cx="233.4" cy="198.7" r="3.25"/><circle cx="229.4" cy="222.0" r="3.25"/><circle cx="229.1" cy="204.4" r="3.25"/><circle cx="227.6" cy="184.2" r="3.25"/><circle cx="232.6" cy="196.8" r="3.25"/><circle cx="226.4" cy="237.2" r="3.25"/><circle cx="217.6" cy="258.7" r="3.25"/><circle cx="239.4" cy="182.0" r="3.25"/><circle cx="226.7" cy="204.6" r="3.25"/><circle cx="231.0" cy="253.8" r="3.25"/><circle cx="231.4" cy="210.9" r="3.25"/><circle cx="235.9" cy="207.6" r="3.25"/><circle cx="214.0" cy="233.6" r="3.25"/><circle cx="225.3" cy="181.5" r="3.25"/><circle cx="238.0" cy="238.3" r="3.25"/><circle cx="226.5" cy="246.7" r="3.25"/><circle cx="219.0" cy="232.2" r="3.25"/><circle cx="229.2" cy="229.6" r="3.25"/><circle cx="228.9" cy="181.6" r="3.25"/><circle cx="211.9" cy="201.6" r="3.25"/><circle cx="224.1" cy="248.7" r="3.25"/><circle cx="224.1" cy="224.8" r="3.25"/><circle cx="231.1" cy="250.3" r="3.25"/><circle cx="218.6" cy="197.3" r="3.25"/><circle cx="227.7" cy="184.2" r="3.25"/><circle cx="226.0" cy="251.2" r="3.25"/></g>
<g fill="#ef7565"><circle cx="305.5" cy="103.4" r="3.25"/><circle cx="327.4" cy="102.1" r="3.25"/><circle cx="328.7" cy="107.1" r="3.25"/><circle cx="343.5" cy="110.5" r="3.25"/><circle cx="343.5" cy="113.9" r="3.25"/><circle cx="360.7" cy="105.8" r="3.25"/><circle cx="372.8" cy="100.7" r="3.25"/><circle cx="384.6" cy="88.6" r="3.25"/><circle cx="399.4" cy="95.4" r="3.25"/><circle cx="390.2" cy="104.6" r="3.25"/><circle cx="401.1" cy="104.6" r="3.25"/><circle cx="403.6" cy="108.0" r="3.25"/><circle cx="421.0" cy="105.8" r="3.25"/><circle cx="432.3" cy="81.5" r="3.25"/><circle cx="451.3" cy="77.8" r="3.25"/><circle cx="448.2" cy="99.6" r="3.25"/><circle cx="451.6" cy="103.4" r="3.25"/><circle cx="461.7" cy="106.8" r="3.25"/><circle cx="517.3" cy="109.7" r="3.25"/><circle cx="373.3" cy="113.5" r="3.25"/><circle cx="377.5" cy="112.5" r="3.25"/><circle cx="380.9" cy="112.2" r="3.25"/><circle cx="351.4" cy="122.0" r="3.25"/><circle cx="364.1" cy="121.4" r="3.25"/><circle cx="365.8" cy="124.8" r="3.25"/><circle cx="421.3" cy="114.7" r="3.25"/><circle cx="424.7" cy="118.1" r="3.25"/><circle cx="426.4" cy="123.1" r="3.25"/><circle cx="426.4" cy="126.5" r="3.25"/><circle cx="429.7" cy="113.0" r="3.25"/><circle cx="412.6" cy="122.3" r="3.25"/><circle cx="411.2" cy="124.8" r="3.25"/><circle cx="395.2" cy="124.8" r="3.25"/><circle cx="402.0" cy="126.5" r="3.25"/><circle cx="404.5" cy="129.0" r="3.25"/><circle cx="460.9" cy="125.7" r="3.25"/><circle cx="418.8" cy="134.1" r="3.25"/><circle cx="424.7" cy="135.4" r="3.25"/><circle cx="435.1" cy="139.6" r="3.25"/><circle cx="455.0" cy="143.0" r="3.25"/><circle cx="401.1" cy="137.4" r="3.25"/><circle cx="399.4" cy="142.5" r="3.25"/><circle cx="407.8" cy="137.4" r="3.25"/><circle cx="408.7" cy="140.8" r="3.25"/><circle cx="393.5" cy="150.6" r="3.25"/><circle cx="399.4" cy="155.6" r="3.25"/><circle cx="406.2" cy="157.3" r="3.25"/><circle cx="419.6" cy="174.1" r="3.25"/><circle cx="430.1" cy="168.6" r="3.25"/><circle cx="430.6" cy="172.0" r="3.25"/><circle cx="449.6" cy="172.8" r="3.25"/><circle cx="382.3" cy="185.9" r="3.25"/><circle cx="387.3" cy="191.3" r="3.25"/><circle cx="394.0" cy="185.9" r="3.25"/><circle cx="396.9" cy="191.8" r="3.25"/><circle cx="401.6" cy="185.9" r="3.25"/><circle cx="373.3" cy="190.5" r="3.25"/><circle cx="412.9" cy="221.6" r="3.25"/><circle cx="419.3" cy="237.9" r="3.25"/><circle cx="355.7" cy="227.5" r="3.25"/><circle cx="344.2" cy="229.2" r="3.25"/><circle cx="347.2" cy="230.4" r="3.25"/><circle cx="334.1" cy="243.5" r="3.25"/><circle cx="342.2" cy="246.0" r="3.25"/><circle cx="337.1" cy="255.3" r="3.25"/><circle cx="342.2" cy="255.8" r="3.25"/><circle cx="352.3" cy="256.1" r="3.25"/><circle cx="329.2" cy="222.5" r="3.25"/><circle cx="320.8" cy="237.6" r="3.25"/><circle cx="348.9" cy="209.8" r="3.25"/><circle cx="347.2" cy="201.1" r="3.25"/><circle cx="341.0" cy="191.6" r="3.25"/><circle cx="360.7" cy="198.0" r="3.25"/><circle cx="361.5" cy="204.8" r="3.25"/><circle cx="361.5" cy="206.5" r="3.25"/><circle cx="354.8" cy="187.9" r="3.25"/><circle cx="316.9" cy="134.1" r="3.25"/><circle cx="321.1" cy="131.5" r="3.25"/><circle cx="323.7" cy="139.1" r="3.25"/><circle cx="328.7" cy="136.6" r="3.25"/><circle cx="334.6" cy="134.1" r="3.25"/><circle cx="332.1" cy="139.1" r="3.25"/><circle cx="344.7" cy="129.0" r="3.25"/><circle cx="348.1" cy="130.7" r="3.25"/><circle cx="350.6" cy="139.1" r="3.25"/><circle cx="348.9" cy="134.9" r="3.25"/><circle cx="359.0" cy="134.1" r="3.25"/><circle cx="364.1" cy="144.2" r="3.25"/><circle cx="367.4" cy="139.1" r="3.25"/><circle cx="370.8" cy="140.8" r="3.25"/><circle cx="374.2" cy="147.5" r="3.25"/><circle cx="377.5" cy="134.1" r="3.25"/><circle cx="377.5" cy="140.8" r="3.25"/><circle cx="369.1" cy="128.2" r="3.25"/><circle cx="370.8" cy="129.9" r="3.25"/><circle cx="372.5" cy="130.7" r="3.25"/><circle cx="376.7" cy="132.4" r="3.25"/><circle cx="310.2" cy="146.7" r="3.25"/><circle cx="303.5" cy="144.2" r="3.25"/><circle cx="314.4" cy="154.3" r="3.25"/><circle cx="321.1" cy="150.9" r="3.25"/><circle cx="323.7" cy="152.6" r="3.25"/><circle cx="326.2" cy="161.0" r="3.25"/><circle cx="323.7" cy="166.1" r="3.25"/><circle cx="332.1" cy="166.1" r="3.25"/><circle cx="335.5" cy="147.5" r="3.25"/><circle cx="338.8" cy="144.2" r="3.25"/><circle cx="340.5" cy="150.9" r="3.25"/><circle cx="337.1" cy="156.8" r="3.25"/><circle cx="340.5" cy="162.7" r="3.25"/><circle cx="343.9" cy="164.4" r="3.25"/><circle cx="343.9" cy="171.1" r="3.25"/><circle cx="347.2" cy="177.8" r="3.25"/><circle cx="348.9" cy="181.2" r="3.25"/><circle cx="354.0" cy="177.8" r="3.25"/><circle cx="354.0" cy="154.3" r="3.25"/><circle cx="357.3" cy="156.8" r="3.25"/><circle cx="352.3" cy="147.5" r="3.25"/><circle cx="364.1" cy="150.9" r="3.25"/><circle cx="364.1" cy="157.6" r="3.25"/><circle cx="369.1" cy="161.0" r="3.25"/><circle cx="372.5" cy="167.7" r="3.25"/><circle cx="375.9" cy="154.3" r="3.25"/><circle cx="377.5" cy="161.0" r="3.25"/><circle cx="380.9" cy="157.6" r="3.25"/><circle cx="382.6" cy="162.7" r="3.25"/><circle cx="366.6" cy="165.2" r="3.25"/><circle cx="362.4" cy="172.8" r="3.25"/><circle cx="362.4" cy="176.2" r="3.25"/><circle cx="299.3" cy="246.2" r="3.25"/><circle cx="312.2" cy="196.0" r="3.25"/><circle cx="310.9" cy="186.7" r="3.25"/><circle cx="303.9" cy="222.3" r="3.25"/><circle cx="301.9" cy="186.0" r="3.25"/><circle cx="304.1" cy="219.2" r="3.25"/><circle cx="304.5" cy="244.5" r="3.25"/><circle cx="299.5" cy="223.4" r="3.25"/><circle cx="306.2" cy="214.3" r="3.25"/><circle cx="317.0" cy="155.2" r="3.25"/><circle cx="314.2" cy="246.2" r="3.25"/><circle cx="299.9" cy="249.5" r="3.25"/><circle cx="305.6" cy="195.3" r="3.25"/><circle cx="300.3" cy="149.4" r="3.25"/><circle cx="302.6" cy="155.8" r="3.25"/><circle cx="303.5" cy="179.5" r="3.25"/><circle cx="307.0" cy="251.8" r="3.25"/><circle cx="300.9" cy="167.4" r="3.25"/><circle cx="300.4" cy="181.4" r="3.25"/><circle cx="305.6" cy="243.0" r="3.25"/><circle cx="307.4" cy="206.3" r="3.25"/><circle cx="313.7" cy="253.8" r="3.25"/><circle cx="302.8" cy="167.9" r="3.25"/><circle cx="305.5" cy="177.4" r="3.25"/><circle cx="317.7" cy="167.6" r="3.25"/><circle cx="306.9" cy="172.6" r="3.25"/><circle cx="303.5" cy="228.9" r="3.25"/><circle cx="310.6" cy="169.3" r="3.25"/><circle cx="313.5" cy="230.9" r="3.25"/><circle cx="299.3" cy="243.6" r="3.25"/><circle cx="307.7" cy="214.8" r="3.25"/><circle cx="301.2" cy="202.6" r="3.25"/><circle cx="306.2" cy="226.8" r="3.25"/><circle cx="302.7" cy="190.2" r="3.25"/><circle cx="305.9" cy="190.6" r="3.25"/><circle cx="301.9" cy="232.0" r="3.25"/><circle cx="304.3" cy="188.3" r="3.25"/><circle cx="309.1" cy="218.6" r="3.25"/><circle cx="301.0" cy="175.5" r="3.25"/><circle cx="306.9" cy="226.2" r="3.25"/><circle cx="302.3" cy="168.2" r="3.25"/><circle cx="301.4" cy="212.0" r="3.25"/><circle cx="309.7" cy="196.2" r="3.25"/><circle cx="311.5" cy="182.5" r="3.25"/><circle cx="305.4" cy="200.2" r="3.25"/><circle cx="307.1" cy="230.0" r="3.25"/><circle cx="315.9" cy="147.6" r="3.25"/><circle cx="300.2" cy="248.4" r="3.25"/><circle cx="304.1" cy="222.3" r="3.25"/><circle cx="306.2" cy="196.7" r="3.25"/><circle cx="312.5" cy="256.1" r="3.25"/><circle cx="307.0" cy="241.7" r="3.25"/><circle cx="305.1" cy="168.2" r="3.25"/><circle cx="302.9" cy="169.9" r="3.25"/><circle cx="308.3" cy="186.7" r="3.25"/><circle cx="311.9" cy="156.5" r="3.25"/><circle cx="304.9" cy="173.2" r="3.25"/><circle cx="304.8" cy="225.3" r="3.25"/><circle cx="316.2" cy="185.8" r="3.25"/><circle cx="302.3" cy="220.6" r="3.25"/><circle cx="301.4" cy="173.8" r="3.25"/><circle cx="306.6" cy="215.5" r="3.25"/><circle cx="303.2" cy="241.9" r="3.25"/><circle cx="299.1" cy="159.4" r="3.25"/><circle cx="302.3" cy="180.6" r="3.25"/><circle cx="307.5" cy="174.4" r="3.25"/><circle cx="304.8" cy="195.5" r="3.25"/><circle cx="300.0" cy="170.0" r="3.25"/><circle cx="303.8" cy="208.3" r="3.25"/><circle cx="304.0" cy="194.8" r="3.25"/><circle cx="309.5" cy="252.2" r="3.25"/><circle cx="304.9" cy="196.0" r="3.25"/><circle cx="300.7" cy="166.4" r="3.25"/><circle cx="305.1" cy="178.9" r="3.25"/><circle cx="311.2" cy="167.7" r="3.25"/><circle cx="316.4" cy="202.8" r="3.25"/><circle cx="314.3" cy="158.8" r="3.25"/><circle cx="307.6" cy="247.0" r="3.25"/><circle cx="303.5" cy="159.4" r="3.25"/><circle cx="299.9" cy="217.0" r="3.25"/><circle cx="308.8" cy="249.0" r="3.25"/><circle cx="311.2" cy="188.7" r="3.25"/><circle cx="311.3" cy="207.5" r="3.25"/><circle cx="304.5" cy="210.5" r="3.25"/><circle cx="311.7" cy="162.1" r="3.25"/><circle cx="314.6" cy="243.7" r="3.25"/><circle cx="301.9" cy="189.0" r="3.25"/><circle cx="311.7" cy="212.2" r="3.25"/><circle cx="301.3" cy="199.1" r="3.25"/><circle cx="313.7" cy="202.4" r="3.25"/><circle cx="316.3" cy="201.0" r="3.25"/><circle cx="304.6" cy="161.0" r="3.25"/><circle cx="305.8" cy="239.8" r="3.25"/><circle cx="314.4" cy="258.1" r="3.25"/><circle cx="303.1" cy="251.7" r="3.25"/><circle cx="306.2" cy="206.9" r="3.25"/><circle cx="301.8" cy="148.2" r="3.25"/><circle cx="299.1" cy="254.3" r="3.25"/><circle cx="300.9" cy="146.3" r="3.25"/><circle cx="306.1" cy="198.2" r="3.25"/><circle cx="302.7" cy="245.7" r="3.25"/><circle cx="302.0" cy="211.6" r="3.25"/><circle cx="299.9" cy="235.7" r="3.25"/><circle cx="301.1" cy="177.9" r="3.25"/><circle cx="311.5" cy="197.6" r="3.25"/><circle cx="303.7" cy="226.5" r="3.25"/><circle cx="310.7" cy="230.2" r="3.25"/><circle cx="300.8" cy="160.4" r="3.25"/><circle cx="313.0" cy="171.9" r="3.25"/><circle cx="312.0" cy="209.6" r="3.25"/><circle cx="304.1" cy="213.1" r="3.25"/><circle cx="319.5" cy="175.2" r="3.25"/><circle cx="299.6" cy="148.6" r="3.25"/><circle cx="303.5" cy="250.3" r="3.25"/><circle cx="313.1" cy="241.2" r="3.25"/><circle cx="311.9" cy="218.0" r="3.25"/><circle cx="324.0" cy="201.4" r="3.25"/><circle cx="307.0" cy="251.2" r="3.25"/><circle cx="305.3" cy="253.3" r="3.25"/><circle cx="310.9" cy="195.8" r="3.25"/><circle cx="313.0" cy="217.5" r="3.25"/><circle cx="351.0" cy="159.5" r="3.25"/><circle cx="311.2" cy="170.9" r="3.25"/><circle cx="302.3" cy="151.3" r="3.25"/><circle cx="305.5" cy="174.1" r="3.25"/><circle cx="310.3" cy="166.8" r="3.25"/><circle cx="326.3" cy="202.8" r="3.25"/><circle cx="329.3" cy="162.1" r="3.25"/><circle cx="342.7" cy="180.8" r="3.25"/><circle cx="321.3" cy="164.1" r="3.25"/><circle cx="384.8" cy="161.8" r="3.25"/><circle cx="309.5" cy="173.9" r="3.25"/><circle cx="306.0" cy="164.8" r="3.25"/><circle cx="319.5" cy="171.7" r="3.25"/><circle cx="311.4" cy="155.5" r="3.25"/><circle cx="342.8" cy="160.9" r="3.25"/><circle cx="304.4" cy="182.9" r="3.25"/><circle cx="322.2" cy="183.7" r="3.25"/><circle cx="369.0" cy="134.9" r="3.25"/><circle cx="317.7" cy="173.6" r="3.25"/><circle cx="313.8" cy="150.7" r="3.25"/><circle cx="307.9" cy="163.2" r="3.25"/><circle cx="380.7" cy="183.2" r="3.25"/><circle cx="322.5" cy="187.1" r="3.25"/><circle cx="364.6" cy="168.9" r="3.25"/><circle cx="356.9" cy="166.1" r="3.25"/><circle cx="352.7" cy="158.6" r="3.25"/><circle cx="304.9" cy="198.0" r="3.25"/><circle cx="306.5" cy="183.9" r="3.25"/><circle cx="335.2" cy="173.4" r="3.25"/><circle cx="310.6" cy="137.9" r="3.25"/><circle cx="309.0" cy="220.9" r="3.25"/><circle cx="331.4" cy="162.2" r="3.25"/><circle cx="318.7" cy="182.7" r="3.25"/><circle cx="311.5" cy="162.4" r="3.25"/><circle cx="311.9" cy="181.7" r="3.25"/><circle cx="310.7" cy="163.8" r="3.25"/><circle cx="304.1" cy="138.7" r="3.25"/><circle cx="332.2" cy="162.4" r="3.25"/><circle cx="307.6" cy="163.6" r="3.25"/><circle cx="309.1" cy="187.1" r="3.25"/><circle cx="327.1" cy="160.1" r="3.25"/><circle cx="318.9" cy="175.8" r="3.25"/><circle cx="303.9" cy="188.4" r="3.25"/><circle cx="302.5" cy="172.2" r="3.25"/><circle cx="316.3" cy="176.2" r="3.25"/><circle cx="347.6" cy="155.7" r="3.25"/><circle cx="324.2" cy="172.3" r="3.25"/><circle cx="326.3" cy="182.5" r="3.25"/><circle cx="328.3" cy="140.9" r="3.25"/><circle cx="322.1" cy="150.7" r="3.25"/><circle cx="318.1" cy="144.8" r="3.25"/><circle cx="324.8" cy="158.7" r="3.25"/><circle cx="307.8" cy="173.7" r="3.25"/><circle cx="309.7" cy="180.2" r="3.25"/><circle cx="306.3" cy="177.3" r="3.25"/><circle cx="303.6" cy="151.6" r="3.25"/><circle cx="355.4" cy="169.1" r="3.25"/><circle cx="315.0" cy="202.5" r="3.25"/><circle cx="302.3" cy="172.3" r="3.25"/><circle cx="312.1" cy="201.1" r="3.25"/><circle cx="336.0" cy="168.0" r="3.25"/><circle cx="309.3" cy="196.6" r="3.25"/><circle cx="309.3" cy="197.9" r="3.25"/><circle cx="337.1" cy="169.0" r="3.25"/><circle cx="304.9" cy="173.1" r="3.25"/><circle cx="302.2" cy="206.2" r="3.25"/><circle cx="366.9" cy="155.8" r="3.25"/><circle cx="322.2" cy="202.5" r="3.25"/><circle cx="323.5" cy="133.3" r="3.25"/><circle cx="307.3" cy="185.8" r="3.25"/><circle cx="303.2" cy="181.8" r="3.25"/><circle cx="304.0" cy="175.2" r="3.25"/><circle cx="314.9" cy="144.2" r="3.25"/><circle cx="302.4" cy="161.1" r="3.25"/><circle cx="316.9" cy="187.2" r="3.25"/><circle cx="330.5" cy="177.2" r="3.25"/><circle cx="320.1" cy="203.2" r="3.25"/><circle cx="334.1" cy="178.7" r="3.25"/><circle cx="370.6" cy="151.8" r="3.25"/><circle cx="334.0" cy="207.4" r="3.25"/><circle cx="308.8" cy="180.6" r="3.25"/><circle cx="312.8" cy="168.4" r="3.25"/><circle cx="302.2" cy="149.5" r="3.25"/><circle cx="322.1" cy="143.2" r="3.25"/><circle cx="325.9" cy="181.0" r="3.25"/><circle cx="330.0" cy="186.9" r="3.25"/><circle cx="303.2" cy="162.0" r="3.25"/><circle cx="338.8" cy="179.0" r="3.25"/><circle cx="333.6" cy="177.9" r="3.25"/><circle cx="380.2" cy="148.8" r="3.25"/><circle cx="313.1" cy="136.1" r="3.25"/><circle cx="325.2" cy="165.9" r="3.25"/><circle cx="360.6" cy="175.5" r="3.25"/><circle cx="310.6" cy="159.5" r="3.25"/><circle cx="307.3" cy="211.0" r="3.25"/><circle cx="338.1" cy="193.6" r="3.25"/><circle cx="324.6" cy="156.4" r="3.25"/><circle cx="323.6" cy="168.5" r="3.25"/><circle cx="316.6" cy="175.5" r="3.25"/><circle cx="302.6" cy="224.1" r="3.25"/><circle cx="318.5" cy="156.5" r="3.25"/><circle cx="334.2" cy="137.3" r="3.25"/><circle cx="364.1" cy="186.7" r="3.25"/><circle cx="308.0" cy="157.1" r="3.25"/><circle cx="307.7" cy="156.3" r="3.25"/><circle cx="327.0" cy="203.9" r="3.25"/><circle cx="304.6" cy="151.8" r="3.25"/><circle cx="340.3" cy="143.1" r="3.25"/><circle cx="305.0" cy="166.7" r="3.25"/><circle cx="318.2" cy="172.8" r="3.25"/><circle cx="363.7" cy="154.9" r="3.25"/><circle cx="310.8" cy="203.7" r="3.25"/><circle cx="307.4" cy="169.5" r="3.25"/><circle cx="328.3" cy="149.4" r="3.25"/><circle cx="340.7" cy="197.5" r="3.25"/><circle cx="324.8" cy="150.7" r="3.25"/><circle cx="303.0" cy="180.2" r="3.25"/><circle cx="312.0" cy="215.0" r="3.25"/><circle cx="302.5" cy="173.6" r="3.25"/><circle cx="337.2" cy="191.8" r="3.25"/><circle cx="303.4" cy="164.7" r="3.25"/><circle cx="383.4" cy="196.0" r="3.25"/><circle cx="319.4" cy="149.4" r="3.25"/></g>
</g>
<line x1="242.0" y1="41.0" x2="242.0" y2="307.3" stroke="#000" stroke-width="1.7" stroke-dasharray="17.0 18.6"/>
<line x1="298.7" y1="41.0" x2="298.7" y2="307.3" stroke="#000" stroke-width="1.7" stroke-dasharray="17.0 18.6"/>
<line x1="138.5" y1="259.8" x2="535.0" y2="259.8" stroke="#000" stroke-width="1.7" stroke-dasharray="17.5 18.2"/>
<line x1="138.5" y1="32.5" x2="138.5" y2="308.0" stroke="#000" stroke-width="1.6" />
<line x1="137.7" y1="307.3" x2="535.0" y2="307.3" stroke="#000" stroke-width="1.6" />
<line x1="133.5" y1="305.8" x2="138.5" y2="305.8" stroke="#000" stroke-width="1.4" />
<text x="130.4" y="312.1" font-size="20.7" text-anchor="end" font-weight="normal" fill="#1a1a1a" >0</text>
<line x1="133.5" y1="236.0" x2="138.5" y2="236.0" stroke="#000" stroke-width="1.4" />
<text x="130.4" y="242.3" font-size="20.7" text-anchor="end" font-weight="normal" fill="#1a1a1a" >2</text>
<line x1="133.5" y1="166.2" x2="138.5" y2="166.2" stroke="#000" stroke-width="1.4" />
<text x="130.4" y="172.5" font-size="20.7" text-anchor="end" font-weight="normal" fill="#1a1a1a" >4</text>
<line x1="133.5" y1="96.4" x2="138.5" y2="96.4" stroke="#000" stroke-width="1.4" />
<text x="130.4" y="102.7" font-size="20.7" text-anchor="end" font-weight="normal" fill="#1a1a1a" >6</text>
<line x1="172.8" y1="307.3" x2="172.8" y2="312.3" stroke="#000" stroke-width="1.4" />
<text x="172.8" y="333.5" font-size="20.7" text-anchor="middle" font-weight="normal" fill="#1a1a1a" >−2</text>
<line x1="270.4" y1="307.3" x2="270.4" y2="312.3" stroke="#000" stroke-width="1.4" />
<text x="270.4" y="333.5" font-size="20.7" text-anchor="middle" font-weight="normal" fill="#1a1a1a" >0</text>
<line x1="368.0" y1="307.3" x2="368.0" y2="312.3" stroke="#000" stroke-width="1.4" />
<text x="368.0" y="333.5" font-size="20.7" text-anchor="middle" font-weight="normal" fill="#1a1a1a" >2</text>
<line x1="465.6" y1="307.3" x2="465.6" y2="312.3" stroke="#000" stroke-width="1.4" />
<text x="465.6" y="333.5" font-size="20.7" text-anchor="middle" font-weight="normal" fill="#1a1a1a" >4</text>
<text x="330.2" y="355.5" font-size="20.7" text-anchor="middle" font-weight="normal" fill="#1a1a1a" >Log2 fold change (120 s vs. 0 s)</text>
<text x="0.0" y="0.0" font-size="20.7" text-anchor="middle" font-weight="normal" fill="#1a1a1a" transform="translate(101.6,167.6) rotate(-90)">−Log10 P−vlaue</text>
<text x="6.0" y="24.0" font-size="32" text-anchor="start" font-weight="bold" fill="#000" >a</text>
<text x="605.3" y="23.2" font-size="32" text-anchor="start" font-weight="bold" fill="#000" >b</text>
<defs><linearGradient id="cbar" x1="0" y1="0" x2="0" y2="1"><stop offset="0.000" stop-color="#d03c1f"/><stop offset="0.050" stop-color="#cd3e27"/><stop offset="0.100" stop-color="#cb402e"/><stop offset="0.150" stop-color="#c94136"/><stop offset="0.200" stop-color="#c74240"/><stop offset="0.250" stop-color="#c4434c"/><stop offset="0.300" stop-color="#c24459"/><stop offset="0.350" stop-color="#c04566"/><stop offset="0.400" stop-color="#ba4673"/><stop offset="0.450" stop-color="#ad4780"/><stop offset="0.500" stop-color="#a0478e"/><stop offset="0.550" stop-color="#94489c"/><stop offset="0.600" stop-color="#8749a6"/><stop offset="0.650" stop-color="#7a4da8"/><stop offset="0.700" stop-color="#6e51a9"/><stop offset="0.750" stop-color="#6155ab"/><stop offset="0.800" stop-color="#5759ad"/><stop offset="0.850" stop-color="#5f61b1"/><stop offset="0.900" stop-color="#6768b6"/><stop offset="0.950" stop-color="#7070bb"/><stop offset="1.000" stop-color="#7878c0"/></linearGradient></defs>
<g fill="none" stroke-width="1.5" stroke-linecap="round"><line x1="737.5" y1="291.4" x2="837.7" y2="229.2" stroke="#7878c0" stroke-opacity="0.32"/><line x1="737.5" y1="291.4" x2="837.7" y2="127.6" stroke="#6263b3" stroke-opacity="0.38"/><line x1="737.5" y1="291.4" x2="837.7" y2="123.4" stroke="#7171bc" stroke-opacity="0.34"/><line x1="737.5" y1="291.4" x2="837.7" y2="140.5" stroke="#724fa9" stroke-opacity="0.47"/><line x1="737.5" y1="291.4" x2="837.7" y2="148.2" stroke="#92489d" stroke-opacity="0.54"/><line x1="737.5" y1="291.4" x2="837.7" y2="153.9" stroke="#964899" stroke-opacity="0.54"/><line x1="737.5" y1="291.4" x2="837.7" y2="226.2" stroke="#7878c0" stroke-opacity="0.32"/><line x1="737.5" y1="291.4" x2="837.7" y2="151.2" stroke="#8849a6" stroke-opacity="0.52"/><line x1="737.5" y1="291.4" x2="837.7" y2="119.3" stroke="#6e6fba" stroke-opacity="0.35"/><line x1="737.5" y1="291.4" x2="837.7" y2="153.8" stroke="#a2478c" stroke-opacity="0.57"/><line x1="737.5" y1="291.4" x2="837.7" y2="223.3" stroke="#6163b3" stroke-opacity="0.39"/><line x1="737.5" y1="291.4" x2="837.7" y2="136.9" stroke="#6553aa" stroke-opacity="0.45"/><line x1="737.5" y1="291.4" x2="837.7" y2="114.1" stroke="#7878c0" stroke-opacity="0.32"/><line x1="737.5" y1="291.4" x2="837.7" y2="153.5" stroke="#8849a6" stroke-opacity="0.52"/><line x1="737.5" y1="291.4" x2="837.7" y2="140.9" stroke="#724fa9" stroke-opacity="0.47"/><line x1="737.5" y1="291.4" x2="837.7" y2="226.5" stroke="#7878c0" stroke-opacity="0.32"/><line x1="737.5" y1="291.4" x2="837.7" y2="145.2" stroke="#6254ab" stroke-opacity="0.44"/><line x1="737.5" y1="291.4" x2="837.7" y2="221.2" stroke="#6768b6" stroke-opacity="0.37"/><line x1="737.5" y1="291.4" x2="837.7" y2="212.8" stroke="#a0478e" stroke-opacity="0.56"/><line x1="737.5" y1="291.4" x2="837.7" y2="131.7" stroke="#5b5daf" stroke-opacity="0.40"/><line x1="737.5" y1="291.4" x2="837.7" y2="217.5" stroke="#734fa9" stroke-opacity="0.48"/><line x1="737.5" y1="291.4" x2="837.7" y2="219.2" stroke="#6354ab" stroke-opacity="0.44"/><line x1="737.5" y1="291.4" x2="837.7" y2="221.0" stroke="#5a5cae" stroke-opacity="0.41"/><line x1="737.5" y1="291.4" x2="837.7" y2="221.0" stroke="#6566b5" stroke-opacity="0.38"/><line x1="737.5" y1="291.4" x2="837.7" y2="222.9" stroke="#5e5fb1" stroke-opacity="0.40"/><line x1="737.5" y1="291.4" x2="837.7" y2="111.0" stroke="#7878c0" stroke-opacity="0.32"/><line x1="737.5" y1="291.4" x2="837.7" y2="213.6" stroke="#9f478f" stroke-opacity="0.56"/><line x1="737.5" y1="291.4" x2="837.7" y2="217.7" stroke="#804ba7" stroke-opacity="0.50"/><line x1="737.5" y1="291.4" x2="837.7" y2="220.2" stroke="#5f55ab" stroke-opacity="0.44"/><line x1="737.5" y1="291.4" x2="837.7" y2="181.9" stroke="#cb402f" stroke-opacity="0.76"/><line x1="737.5" y1="291.4" x2="837.7" y2="158.0" stroke="#a3478b" stroke-opacity="0.57"/><line x1="737.5" y1="291.4" x2="837.7" y2="215.7" stroke="#6d51a9" stroke-opacity="0.46"/><line x1="737.5" y1="291.4" x2="837.7" y2="227.9" stroke="#7878c0" stroke-opacity="0.32"/><line x1="737.5" y1="291.4" x2="837.7" y2="220.5" stroke="#5857ac" stroke-opacity="0.42"/><line x1="737.5" y1="291.4" x2="837.7" y2="146.0" stroke="#844aa7" stroke-opacity="0.51"/><line x1="737.5" y1="291.4" x2="837.7" y2="210.3" stroke="#b74675" stroke-opacity="0.61"/><line x1="737.5" y1="291.4" x2="837.7" y2="167.5" stroke="#b1477c" stroke-opacity="0.59"/><line x1="737.5" y1="291.4" x2="837.7" y2="217.0" stroke="#814ba7" stroke-opacity="0.50"/><line x1="737.5" y1="291.4" x2="837.7" y2="143.9" stroke="#854aa7" stroke-opacity="0.51"/><line x1="737.5" y1="291.4" x2="837.7" y2="217.0" stroke="#6f50a9" stroke-opacity="0.47"/><line x1="737.5" y1="291.4" x2="837.7" y2="164.5" stroke="#be466e" stroke-opacity="0.62"/><line x1="737.5" y1="291.4" x2="837.7" y2="154.1" stroke="#aa4783" stroke-opacity="0.58"/><line x1="737.5" y1="291.4" x2="837.7" y2="164.7" stroke="#b74675" stroke-opacity="0.61"/><line x1="737.5" y1="291.4" x2="837.7" y2="220.0" stroke="#5a5caf" stroke-opacity="0.41"/><line x1="737.5" y1="291.4" x2="837.7" y2="151.2" stroke="#824ba7" stroke-opacity="0.50"/><line x1="737.5" y1="291.4" x2="837.7" y2="168.6" stroke="#bf4567" stroke-opacity="0.63"/><line x1="737.5" y1="291.4" x2="837.7" y2="146.9" stroke="#7d4ca8" stroke-opacity="0.49"/><line x1="737.5" y1="291.4" x2="837.7" y2="152.0" stroke="#994795" stroke-opacity="0.55"/><line x1="737.5" y1="291.4" x2="837.7" y2="181.6" stroke="#c8423c" stroke-opacity="0.72"/><line x1="737.5" y1="291.4" x2="837.7" y2="206.1" stroke="#c64343" stroke-opacity="0.70"/><line x1="737.5" y1="291.4" x2="837.7" y2="167.9" stroke="#bb4671" stroke-opacity="0.61"/><line x1="737.5" y1="291.4" x2="837.7" y2="149.5" stroke="#794da8" stroke-opacity="0.49"/><line x1="737.5" y1="291.4" x2="837.7" y2="155.0" stroke="#b2467b" stroke-opacity="0.60"/><line x1="737.5" y1="291.4" x2="837.7" y2="201.4" stroke="#cc3f2d" stroke-opacity="0.76"/><line x1="737.5" y1="291.4" x2="837.7" y2="195.7" stroke="#ce3e26" stroke-opacity="0.78"/><line x1="737.5" y1="291.4" x2="837.7" y2="185.2" stroke="#c7423e" stroke-opacity="0.71"/><line x1="737.5" y1="291.4" x2="837.7" y2="166.0" stroke="#bf466b" stroke-opacity="0.63"/><line x1="737.5" y1="291.4" x2="837.7" y2="215.8" stroke="#824aa7" stroke-opacity="0.50"/><line x1="737.5" y1="291.4" x2="837.7" y2="196.5" stroke="#ce3d24" stroke-opacity="0.79"/><line x1="737.5" y1="291.4" x2="837.7" y2="145.2" stroke="#7a4da8" stroke-opacity="0.49"/><line x1="737.5" y1="291.4" x2="837.7" y2="170.1" stroke="#bf4668" stroke-opacity="0.63"/><line x1="737.5" y1="291.4" x2="837.7" y2="148.1" stroke="#7a4da8" stroke-opacity="0.49"/><line x1="737.5" y1="291.4" x2="837.7" y2="219.9" stroke="#5d56ab" stroke-opacity="0.43"/><line x1="737.5" y1="291.4" x2="837.7" y2="157.8" stroke="#8b48a5" stroke-opacity="0.52"/><line x1="737.5" y1="291.4" x2="837.7" y2="197.9" stroke="#cf3d23" stroke-opacity="0.80"/><line x1="737.5" y1="291.4" x2="837.7" y2="156.6" stroke="#a2478c" stroke-opacity="0.57"/><line x1="737.5" y1="291.4" x2="837.7" y2="200.3" stroke="#cd3e28" stroke-opacity="0.78"/><line x1="737.5" y1="291.4" x2="837.7" y2="212.2" stroke="#9d4791" stroke-opacity="0.56"/><line x1="737.5" y1="291.4" x2="837.7" y2="161.6" stroke="#b1467c" stroke-opacity="0.60"/><line x1="737.5" y1="291.4" x2="837.7" y2="193.2" stroke="#cb3f2e" stroke-opacity="0.76"/><line x1="737.5" y1="291.4" x2="837.7" y2="162.7" stroke="#ae4780" stroke-opacity="0.59"/><line x1="737.5" y1="291.4" x2="837.7" y2="214.4" stroke="#a0478e" stroke-opacity="0.56"/><line x1="737.5" y1="291.4" x2="837.7" y2="166.9" stroke="#b1477c" stroke-opacity="0.59"/><line x1="737.5" y1="291.4" x2="837.7" y2="203.9" stroke="#ca4133" stroke-opacity="0.74"/><line x1="737.5" y1="291.4" x2="837.7" y2="174.5" stroke="#c54348" stroke-opacity="0.69"/><line x1="737.5" y1="291.4" x2="837.7" y2="169.2" stroke="#ba4672" stroke-opacity="0.61"/><line x1="737.5" y1="291.4" x2="837.7" y2="207.6" stroke="#c1455c" stroke-opacity="0.65"/><line x1="737.5" y1="291.4" x2="837.7" y2="200.5" stroke="#cd3e29" stroke-opacity="0.78"/><line x1="737.5" y1="291.4" x2="837.7" y2="200.0" stroke="#cc3f2c" stroke-opacity="0.76"/><line x1="737.5" y1="291.4" x2="837.7" y2="205.9" stroke="#c64343" stroke-opacity="0.70"/><line x1="737.5" y1="291.4" x2="837.7" y2="197.1" stroke="#ce3d25" stroke-opacity="0.79"/><line x1="737.5" y1="291.4" x2="837.7" y2="169.3" stroke="#bf4668" stroke-opacity="0.63"/><line x1="737.5" y1="291.4" x2="837.7" y2="177.2" stroke="#c5434a" stroke-opacity="0.69"/><line x1="737.5" y1="291.4" x2="837.7" y2="179.4" stroke="#c4444e" stroke-opacity="0.68"/><line x1="737.5" y1="291.4" x2="837.7" y2="203.2" stroke="#c84239" stroke-opacity="0.72"/><line x1="737.5" y1="291.4" x2="837.7" y2="201.5" stroke="#ce3e26" stroke-opacity="0.78"/><line x1="737.5" y1="291.4" x2="837.7" y2="150.3" stroke="#834aa7" stroke-opacity="0.51"/><line x1="737.5" y1="291.4" x2="837.7" y2="157.5" stroke="#ac4782" stroke-opacity="0.58"/><line x1="737.5" y1="291.4" x2="837.7" y2="205.0" stroke="#c7423d" stroke-opacity="0.71"/><line x1="737.5" y1="291.4" x2="837.7" y2="186.9" stroke="#c94137" stroke-opacity="0.73"/><line x1="737.5" y1="291.4" x2="837.7" y2="206.7" stroke="#c34451" stroke-opacity="0.67"/><line x1="737.5" y1="291.4" x2="837.7" y2="191.4" stroke="#cc3f2c" stroke-opacity="0.77"/><line x1="737.5" y1="291.4" x2="837.7" y2="217.7" stroke="#764ea8" stroke-opacity="0.48"/><line x1="737.5" y1="291.4" x2="837.7" y2="195.9" stroke="#d03c1f" stroke-opacity="0.81"/><line x1="737.5" y1="291.4" x2="837.7" y2="195.5" stroke="#cd3e2a" stroke-opacity="0.77"/><line x1="737.5" y1="291.4" x2="837.7" y2="198.1" stroke="#d03c1e" stroke-opacity="0.81"/><line x1="737.5" y1="291.4" x2="837.7" y2="206.8" stroke="#c34453" stroke-opacity="0.67"/><line x1="737.5" y1="291.4" x2="837.7" y2="202.5" stroke="#cb402f" stroke-opacity="0.76"/><line x1="737.5" y1="291.4" x2="837.7" y2="198.7" stroke="#d03c1e" stroke-opacity="0.81"/><line x1="737.5" y1="291.4" x2="837.7" y2="171.3" stroke="#bf466a" stroke-opacity="0.63"/><line x1="737.5" y1="291.4" x2="837.7" y2="159.7" stroke="#b84674" stroke-opacity="0.61"/><line x1="737.5" y1="291.4" x2="837.7" y2="196.5" stroke="#ce3e25" stroke-opacity="0.79"/><line x1="737.5" y1="291.4" x2="837.7" y2="191.4" stroke="#cd3e28" stroke-opacity="0.78"/><line x1="737.5" y1="291.4" x2="837.7" y2="198.9" stroke="#cf3d21" stroke-opacity="0.80"/><line x1="737.5" y1="291.4" x2="837.7" y2="199.8" stroke="#d03c1e" stroke-opacity="0.81"/><line x1="737.5" y1="291.4" x2="837.7" y2="195.4" stroke="#d03c1e" stroke-opacity="0.81"/><line x1="737.5" y1="291.4" x2="837.7" y2="192.9" stroke="#cc3f2a" stroke-opacity="0.77"/><line x1="737.5" y1="291.4" x2="837.7" y2="205.8" stroke="#c8423b" stroke-opacity="0.72"/><line x1="737.5" y1="291.4" x2="837.7" y2="190.2" stroke="#cf3d21" stroke-opacity="0.80"/><line x1="837.7" y1="229.2" x2="938.2" y2="84.0" stroke="#7878c0" stroke-opacity="0.32"/><line x1="837.7" y1="127.6" x2="938.2" y2="84.0" stroke="#6263b3" stroke-opacity="0.38"/><line x1="837.7" y1="123.4" x2="938.2" y2="84.0" stroke="#7171bc" stroke-opacity="0.34"/><line x1="837.7" y1="140.5" x2="938.2" y2="84.0" stroke="#724fa9" stroke-opacity="0.47"/><line x1="837.7" y1="148.2" x2="938.2" y2="84.0" stroke="#92489d" stroke-opacity="0.54"/><line x1="837.7" y1="153.9" x2="938.2" y2="84.0" stroke="#964899" stroke-opacity="0.54"/><line x1="837.7" y1="226.2" x2="938.2" y2="84.0" stroke="#7878c0" stroke-opacity="0.32"/><line x1="837.7" y1="151.2" x2="938.2" y2="84.0" stroke="#8849a6" stroke-opacity="0.52"/><line x1="837.7" y1="119.3" x2="938.2" y2="84.0" stroke="#6e6fba" stroke-opacity="0.35"/><line x1="837.7" y1="153.8" x2="938.2" y2="84.0" stroke="#a2478c" stroke-opacity="0.57"/><line x1="837.7" y1="223.3" x2="938.2" y2="84.0" stroke="#6163b3" stroke-opacity="0.39"/><line x1="837.7" y1="136.9" x2="938.2" y2="84.0" stroke="#6553aa" stroke-opacity="0.45"/><line x1="837.7" y1="114.1" x2="938.2" y2="84.0" stroke="#7878c0" stroke-opacity="0.32"/><line x1="837.7" y1="153.5" x2="938.2" y2="84.0" stroke="#8849a6" stroke-opacity="0.52"/><line x1="837.7" y1="140.9" x2="938.2" y2="84.0" stroke="#724fa9" stroke-opacity="0.47"/><line x1="837.7" y1="226.5" x2="938.2" y2="84.0" stroke="#7878c0" stroke-opacity="0.32"/><line x1="837.7" y1="145.2" x2="938.2" y2="84.0" stroke="#6254ab" stroke-opacity="0.44"/><line x1="837.7" y1="221.2" x2="938.2" y2="84.0" stroke="#6768b6" stroke-opacity="0.37"/><line x1="837.7" y1="212.8" x2="938.2" y2="84.0" stroke="#a0478e" stroke-opacity="0.56"/><line x1="837.7" y1="131.7" x2="938.2" y2="84.0" stroke="#5b5daf" stroke-opacity="0.40"/><line x1="837.7" y1="217.5" x2="938.2" y2="84.0" stroke="#734fa9" stroke-opacity="0.48"/><line x1="837.7" y1="219.2" x2="938.2" y2="84.0" stroke="#6354ab" stroke-opacity="0.44"/><line x1="837.7" y1="221.0" x2="938.2" y2="84.0" stroke="#5a5cae" stroke-opacity="0.41"/><line x1="837.7" y1="221.0" x2="938.2" y2="84.0" stroke="#6566b5" stroke-opacity="0.38"/><line x1="837.7" y1="222.9" x2="938.2" y2="84.0" stroke="#5e5fb1" stroke-opacity="0.40"/><line x1="837.7" y1="111.0" x2="938.2" y2="84.0" stroke="#7878c0" stroke-opacity="0.32"/><line x1="837.7" y1="213.6" x2="938.2" y2="84.0" stroke="#9f478f" stroke-opacity="0.56"/><line x1="837.7" y1="217.7" x2="938.2" y2="84.0" stroke="#804ba7" stroke-opacity="0.50"/><line x1="837.7" y1="220.2" x2="938.2" y2="84.0" stroke="#5f55ab" stroke-opacity="0.44"/><line x1="837.7" y1="181.9" x2="938.2" y2="84.0" stroke="#cb402f" stroke-opacity="0.76"/><line x1="837.7" y1="158.0" x2="938.2" y2="84.0" stroke="#a3478b" stroke-opacity="0.57"/><line x1="837.7" y1="215.7" x2="938.2" y2="84.0" stroke="#6d51a9" stroke-opacity="0.46"/><line x1="837.7" y1="227.9" x2="938.2" y2="84.0" stroke="#7878c0" stroke-opacity="0.32"/><line x1="837.7" y1="220.5" x2="938.2" y2="84.0" stroke="#5857ac" stroke-opacity="0.42"/><line x1="837.7" y1="146.0" x2="938.2" y2="84.0" stroke="#844aa7" stroke-opacity="0.51"/><line x1="837.7" y1="210.3" x2="938.2" y2="84.0" stroke="#b74675" stroke-opacity="0.61"/><line x1="837.7" y1="167.5" x2="938.2" y2="84.0" stroke="#b1477c" stroke-opacity="0.59"/><line x1="837.7" y1="217.0" x2="938.2" y2="84.0" stroke="#814ba7" stroke-opacity="0.50"/><line x1="837.7" y1="143.9" x2="938.2" y2="84.0" stroke="#854aa7" stroke-opacity="0.51"/><line x1="837.7" y1="217.0" x2="938.2" y2="84.0" stroke="#6f50a9" stroke-opacity="0.47"/><line x1="837.7" y1="164.5" x2="938.2" y2="84.0" stroke="#be466e" stroke-opacity="0.62"/><line x1="837.7" y1="154.1" x2="938.2" y2="84.0" stroke="#aa4783" stroke-opacity="0.58"/><line x1="837.7" y1="164.7" x2="938.2" y2="84.0" stroke="#b74675" stroke-opacity="0.61"/><line x1="837.7" y1="220.0" x2="938.2" y2="84.0" stroke="#5a5caf" stroke-opacity="0.41"/><line x1="837.7" y1="151.2" x2="938.2" y2="84.0" stroke="#824ba7" stroke-opacity="0.50"/><line x1="837.7" y1="168.6" x2="938.2" y2="84.0" stroke="#bf4567" stroke-opacity="0.63"/><line x1="837.7" y1="146.9" x2="938.2" y2="84.0" stroke="#7d4ca8" stroke-opacity="0.49"/><line x1="837.7" y1="152.0" x2="938.2" y2="84.0" stroke="#994795" stroke-opacity="0.55"/><line x1="837.7" y1="181.6" x2="938.2" y2="84.0" stroke="#c8423c" stroke-opacity="0.72"/><line x1="837.7" y1="206.1" x2="938.2" y2="84.0" stroke="#c64343" stroke-opacity="0.70"/><line x1="837.7" y1="167.9" x2="938.2" y2="84.0" stroke="#bb4671" stroke-opacity="0.61"/><line x1="837.7" y1="149.5" x2="938.2" y2="84.0" stroke="#794da8" stroke-opacity="0.49"/><line x1="837.7" y1="155.0" x2="938.2" y2="84.0" stroke="#b2467b" stroke-opacity="0.60"/><line x1="837.7" y1="201.4" x2="938.2" y2="84.0" stroke="#cc3f2d" stroke-opacity="0.76"/><line x1="837.7" y1="195.7" x2="938.2" y2="84.0" stroke="#ce3e26" stroke-opacity="0.78"/><line x1="837.7" y1="185.2" x2="938.2" y2="84.0" stroke="#c7423e" stroke-opacity="0.71"/><line x1="837.7" y1="166.0" x2="938.2" y2="84.0" stroke="#bf466b" stroke-opacity="0.63"/><line x1="837.7" y1="215.8" x2="938.2" y2="84.0" stroke="#824aa7" stroke-opacity="0.50"/><line x1="837.7" y1="196.5" x2="938.2" y2="84.0" stroke="#ce3d24" stroke-opacity="0.79"/><line x1="837.7" y1="145.2" x2="938.2" y2="84.0" stroke="#7a4da8" stroke-opacity="0.49"/><line x1="837.7" y1="170.1" x2="938.2" y2="84.0" stroke="#bf4668" stroke-opacity="0.63"/><line x1="837.7" y1="148.1" x2="938.2" y2="84.0" stroke="#7a4da8" stroke-opacity="0.49"/><line x1="837.7" y1="219.9" x2="938.2" y2="84.0" stroke="#5d56ab" stroke-opacity="0.43"/><line x1="837.7" y1="157.8" x2="938.2" y2="84.0" stroke="#8b48a5" stroke-opacity="0.52"/><line x1="837.7" y1="197.9" x2="938.2" y2="84.0" stroke="#cf3d23" stroke-opacity="0.80"/><line x1="837.7" y1="156.6" x2="938.2" y2="84.0" stroke="#a2478c" stroke-opacity="0.57"/><line x1="837.7" y1="200.3" x2="938.2" y2="84.0" stroke="#cd3e28" stroke-opacity="0.78"/><line x1="837.7" y1="212.2" x2="938.2" y2="84.0" stroke="#9d4791" stroke-opacity="0.56"/><line x1="837.7" y1="161.6" x2="938.2" y2="84.0" stroke="#b1467c" stroke-opacity="0.60"/><line x1="837.7" y1="193.2" x2="938.2" y2="84.0" stroke="#cb3f2e" stroke-opacity="0.76"/><line x1="837.7" y1="162.7" x2="938.2" y2="84.0" stroke="#ae4780" stroke-opacity="0.59"/><line x1="837.7" y1="214.4" x2="938.2" y2="84.0" stroke="#a0478e" stroke-opacity="0.56"/><line x1="837.7" y1="166.9" x2="938.2" y2="84.0" stroke="#b1477c" stroke-opacity="0.59"/><line x1="837.7" y1="203.9" x2="938.2" y2="84.0" stroke="#ca4133" stroke-opacity="0.74"/><line x1="837.7" y1="174.5" x2="938.2" y2="84.0" stroke="#c54348" stroke-opacity="0.69"/><line x1="837.7" y1="169.2" x2="938.2" y2="84.0" stroke="#ba4672" stroke-opacity="0.61"/><line x1="837.7" y1="207.6" x2="938.2" y2="84.0" stroke="#c1455c" stroke-opacity="0.65"/><line x1="837.7" y1="200.5" x2="938.2" y2="84.0" stroke="#cd3e29" stroke-opacity="0.78"/><line x1="837.7" y1="200.0" x2="938.2" y2="84.0" stroke="#cc3f2c" stroke-opacity="0.76"/><line x1="837.7" y1="205.9" x2="938.2" y2="84.0" stroke="#c64343" stroke-opacity="0.70"/><line x1="837.7" y1="197.1" x2="938.2" y2="84.0" stroke="#ce3d25" stroke-opacity="0.79"/><line x1="837.7" y1="169.3" x2="938.2" y2="84.0" stroke="#bf4668" stroke-opacity="0.63"/><line x1="837.7" y1="177.2" x2="938.2" y2="84.0" stroke="#c5434a" stroke-opacity="0.69"/><line x1="837.7" y1="179.4" x2="938.2" y2="84.0" stroke="#c4444e" stroke-opacity="0.68"/><line x1="837.7" y1="203.2" x2="938.2" y2="84.0" stroke="#c84239" stroke-opacity="0.72"/><line x1="837.7" y1="201.5" x2="938.2" y2="84.0" stroke="#ce3e26" stroke-opacity="0.78"/><line x1="837.7" y1="150.3" x2="938.2" y2="84.0" stroke="#834aa7" stroke-opacity="0.51"/><line x1="837.7" y1="157.5" x2="938.2" y2="84.0" stroke="#ac4782" stroke-opacity="0.58"/><line x1="837.7" y1="205.0" x2="938.2" y2="84.0" stroke="#c7423d" stroke-opacity="0.71"/><line x1="837.7" y1="186.9" x2="938.2" y2="84.0" stroke="#c94137" stroke-opacity="0.73"/><line x1="837.7" y1="206.7" x2="938.2" y2="84.0" stroke="#c34451" stroke-opacity="0.67"/><line x1="837.7" y1="191.4" x2="938.2" y2="84.0" stroke="#cc3f2c" stroke-opacity="0.77"/><line x1="837.7" y1="217.7" x2="938.2" y2="84.0" stroke="#764ea8" stroke-opacity="0.48"/><line x1="837.7" y1="195.9" x2="938.2" y2="84.0" stroke="#d03c1f" stroke-opacity="0.81"/><line x1="837.7" y1="195.5" x2="938.2" y2="84.0" stroke="#cd3e2a" stroke-opacity="0.77"/><line x1="837.7" y1="198.1" x2="938.2" y2="84.0" stroke="#d03c1e" stroke-opacity="0.81"/><line x1="837.7" y1="206.8" x2="938.2" y2="84.0" stroke="#c34453" stroke-opacity="0.67"/><line x1="837.7" y1="202.5" x2="938.2" y2="84.0" stroke="#cb402f" stroke-opacity="0.76"/><line x1="837.7" y1="198.7" x2="938.2" y2="84.0" stroke="#d03c1e" stroke-opacity="0.81"/><line x1="837.7" y1="171.3" x2="938.2" y2="84.0" stroke="#bf466a" stroke-opacity="0.63"/><line x1="837.7" y1="159.7" x2="938.2" y2="84.0" stroke="#b84674" stroke-opacity="0.61"/><line x1="837.7" y1="196.5" x2="938.2" y2="84.0" stroke="#ce3e25" stroke-opacity="0.79"/><line x1="837.7" y1="191.4" x2="938.2" y2="84.0" stroke="#cd3e28" stroke-opacity="0.78"/><line x1="837.7" y1="198.9" x2="938.2" y2="84.0" stroke="#cf3d21" stroke-opacity="0.80"/><line x1="837.7" y1="199.8" x2="938.2" y2="84.0" stroke="#d03c1e" stroke-opacity="0.81"/><line x1="837.7" y1="195.4" x2="938.2" y2="84.0" stroke="#d03c1e" stroke-opacity="0.81"/><line x1="837.7" y1="192.9" x2="938.2" y2="84.0" stroke="#cc3f2a" stroke-opacity="0.77"/><line x1="837.7" y1="205.8" x2="938.2" y2="84.0" stroke="#c8423b" stroke-opacity="0.72"/><line x1="837.7" y1="190.2" x2="938.2" y2="84.0" stroke="#cf3d21" stroke-opacity="0.80"/></g>
<line x1="737.5" y1="84.0" x2="737.5" y2="292.2" stroke="#000" stroke-width="1.6" />
<line x1="736.7" y1="291.4" x2="947.9" y2="291.4" stroke="#000" stroke-width="1.6" />
<line x1="732.5" y1="291.4" x2="737.5" y2="291.4" stroke="#000" stroke-width="1.4" />
<text x="718.3" y="301.1" font-size="20.7" text-anchor="end" font-weight="normal" fill="#1a1a1a" >0.00</text>
<line x1="732.5" y1="239.5" x2="737.5" y2="239.5" stroke="#000" stroke-width="1.4" />
<text x="718.3" y="249.2" font-size="20.7" text-anchor="end" font-weight="normal" fill="#1a1a1a" >0.25</text>
<line x1="732.5" y1="187.7" x2="737.5" y2="187.7" stroke="#000" stroke-width="1.4" />
<text x="718.3" y="197.4" font-size="20.7" text-anchor="end" font-weight="normal" fill="#1a1a1a" >0.50</text>
<line x1="732.5" y1="135.8" x2="737.5" y2="135.8" stroke="#000" stroke-width="1.4" />
<text x="718.3" y="145.5" font-size="20.7" text-anchor="end" font-weight="normal" fill="#1a1a1a" >0.75</text>
<line x1="732.5" y1="84.0" x2="737.5" y2="84.0" stroke="#000" stroke-width="1.4" />
<text x="718.3" y="93.7" font-size="20.7" text-anchor="end" font-weight="normal" fill="#1a1a1a" >1.00</text>
<line x1="737.5" y1="291.4" x2="737.5" y2="296.4" stroke="#000" stroke-width="1.4" />
<text x="735.9" y="324.8" font-size="20.7" text-anchor="middle" font-weight="normal" fill="#1a1a1a" >0</text>
<line x1="837.7" y1="291.4" x2="837.7" y2="296.4" stroke="#000" stroke-width="1.4" />
<text x="833.7" y="324.8" font-size="20.7" text-anchor="middle" font-weight="normal" fill="#1a1a1a" >30</text>
<line x1="938.2" y1="291.4" x2="938.2" y2="296.4" stroke="#000" stroke-width="1.4" />
<text x="932.8" y="324.8" font-size="20.7" text-anchor="middle" font-weight="normal" fill="#1a1a1a" >120</text>
<text x="828.0" y="39.6" font-size="20.7" text-anchor="middle" font-weight="normal" fill="#1a1a1a" >Cluster 1</text>
<text x="828.0" y="69.0" font-size="20.7" text-anchor="middle" font-weight="normal" fill="#1a1a1a" >(n = 109)</text>
<g fill="none" stroke-width="1.5" stroke-linecap="round"><line x1="1028.4" y1="203.0" x2="1128.8" y2="289.0" stroke="#7878c0" stroke-opacity="0.30"/><line x1="1028.4" y1="212.8" x2="1128.8" y2="287.3" stroke="#5658ac" stroke-opacity="0.36"/><line x1="1028.4" y1="287.5" x2="1128.8" y2="290.9" stroke="#9d4792" stroke-opacity="0.44"/><line x1="1028.4" y1="222.5" x2="1128.8" y2="280.4" stroke="#724fa9" stroke-opacity="0.39"/><line x1="1028.4" y1="206.0" x2="1128.8" y2="286.8" stroke="#6768b6" stroke-opacity="0.33"/><line x1="1028.4" y1="218.7" x2="1128.8" y2="288.2" stroke="#6154ab" stroke-opacity="0.37"/><line x1="1028.4" y1="289.8" x2="1128.8" y2="276.9" stroke="#5758ac" stroke-opacity="0.36"/><line x1="1028.4" y1="203.2" x2="1128.8" y2="286.3" stroke="#696ab7" stroke-opacity="0.33"/><line x1="1028.4" y1="215.2" x2="1128.8" y2="287.6" stroke="#5a5cae" stroke-opacity="0.35"/><line x1="1028.4" y1="288.4" x2="1128.8" y2="261.6" stroke="#6f70bb" stroke-opacity="0.32"/><line x1="1028.4" y1="290.3" x2="1128.8" y2="290.4" stroke="#744fa9" stroke-opacity="0.39"/><line x1="1028.4" y1="223.7" x2="1128.8" y2="289.5" stroke="#6e51a9" stroke-opacity="0.39"/><line x1="1028.4" y1="202.2" x2="1128.8" y2="284.3" stroke="#7878c0" stroke-opacity="0.30"/><line x1="1028.4" y1="204.5" x2="1128.8" y2="286.8" stroke="#7070bb" stroke-opacity="0.31"/><line x1="1028.4" y1="208.9" x2="1128.8" y2="285.3" stroke="#6465b4" stroke-opacity="0.34"/><line x1="1028.4" y1="285.7" x2="1128.8" y2="264.8" stroke="#6667b5" stroke-opacity="0.33"/><line x1="1028.4" y1="222.2" x2="1128.8" y2="280.3" stroke="#585aad" stroke-opacity="0.36"/><line x1="1028.4" y1="239.6" x2="1128.8" y2="291.1" stroke="#754ea8" stroke-opacity="0.40"/><line x1="1028.4" y1="288.7" x2="1128.8" y2="270.7" stroke="#6465b4" stroke-opacity="0.34"/><line x1="1028.4" y1="247.2" x2="1128.8" y2="290.7" stroke="#92489d" stroke-opacity="0.43"/><line x1="1028.4" y1="288.6" x2="1128.8" y2="273.8" stroke="#5e60b1" stroke-opacity="0.35"/><line x1="1028.4" y1="208.2" x2="1128.8" y2="290.7" stroke="#6869b7" stroke-opacity="0.33"/><line x1="1028.4" y1="203.2" x2="1128.8" y2="284.9" stroke="#7475be" stroke-opacity="0.31"/><line x1="1028.4" y1="209.7" x2="1128.8" y2="285.9" stroke="#6163b3" stroke-opacity="0.34"/><line x1="1028.4" y1="283.9" x2="1128.8" y2="290.4" stroke="#95489a" stroke-opacity="0.43"/><line x1="1028.4" y1="205.6" x2="1128.8" y2="283.8" stroke="#6163b3" stroke-opacity="0.34"/><line x1="1028.4" y1="283.9" x2="1128.8" y2="291.4" stroke="#b94673" stroke-opacity="0.47"/><line x1="1028.4" y1="204.0" x2="1128.8" y2="288.2" stroke="#6c6db9" stroke-opacity="0.32"/><line x1="1028.4" y1="264.9" x2="1128.8" y2="291.3" stroke="#c2455b" stroke-opacity="0.50"/><line x1="1028.4" y1="215.1" x2="1128.8" y2="286.8" stroke="#6162b2" stroke-opacity="0.34"/><line x1="1028.4" y1="201.5" x2="1128.8" y2="290.4" stroke="#6869b6" stroke-opacity="0.33"/><line x1="1028.4" y1="209.2" x2="1128.8" y2="290.6" stroke="#6768b6" stroke-opacity="0.33"/><line x1="1028.4" y1="269.2" x2="1128.8" y2="290.9" stroke="#c04564" stroke-opacity="0.49"/><line x1="1028.4" y1="228.8" x2="1128.8" y2="285.2" stroke="#794da8" stroke-opacity="0.40"/><line x1="1028.4" y1="247.6" x2="1128.8" y2="290.3" stroke="#734fa9" stroke-opacity="0.39"/><line x1="1028.4" y1="218.5" x2="1128.8" y2="282.3" stroke="#5f55ab" stroke-opacity="0.37"/><line x1="1028.4" y1="216.3" x2="1128.8" y2="290.1" stroke="#595bae" stroke-opacity="0.36"/><line x1="1028.4" y1="248.4" x2="1128.8" y2="290.8" stroke="#6f50a9" stroke-opacity="0.39"/><line x1="1028.4" y1="232.3" x2="1128.8" y2="284.7" stroke="#7f4ba7" stroke-opacity="0.41"/><line x1="1028.4" y1="242.2" x2="1128.8" y2="290.5" stroke="#5957ac" stroke-opacity="0.36"/><line x1="1028.4" y1="236.3" x2="1128.8" y2="288.3" stroke="#9048a0" stroke-opacity="0.43"/><line x1="1028.4" y1="276.4" x2="1128.8" y2="291.3" stroke="#a84786" stroke-opacity="0.45"/><line x1="1028.4" y1="204.4" x2="1128.8" y2="280.8" stroke="#6d6eba" stroke-opacity="0.32"/><line x1="1028.4" y1="285.4" x2="1128.8" y2="262.5" stroke="#6566b5" stroke-opacity="0.33"/><line x1="1028.4" y1="289.0" x2="1128.8" y2="262.6" stroke="#7071bb" stroke-opacity="0.31"/><line x1="1028.4" y1="290.4" x2="1128.8" y2="279.7" stroke="#784da8" stroke-opacity="0.40"/><line x1="1028.4" y1="289.0" x2="1128.8" y2="290.8" stroke="#ae477f" stroke-opacity="0.46"/><line x1="1028.4" y1="290.3" x2="1128.8" y2="270.3" stroke="#595bae" stroke-opacity="0.36"/><line x1="1028.4" y1="291.3" x2="1128.8" y2="291.0" stroke="#a1478d" stroke-opacity="0.45"/><line x1="1028.4" y1="287.8" x2="1128.8" y2="291.3" stroke="#b74675" stroke-opacity="0.47"/><line x1="1028.4" y1="290.4" x2="1128.8" y2="262.7" stroke="#6667b6" stroke-opacity="0.33"/><line x1="1028.4" y1="234.3" x2="1128.8" y2="288.4" stroke="#94489c" stroke-opacity="0.43"/><line x1="1028.4" y1="202.8" x2="1128.8" y2="281.7" stroke="#7474be" stroke-opacity="0.31"/><line x1="1028.4" y1="291.4" x2="1128.8" y2="264.9" stroke="#6b6cb8" stroke-opacity="0.32"/><line x1="1028.4" y1="277.7" x2="1128.8" y2="291.1" stroke="#a64788" stroke-opacity="0.45"/><line x1="1028.4" y1="254.1" x2="1128.8" y2="290.2" stroke="#b94674" stroke-opacity="0.47"/><line x1="1028.4" y1="209.9" x2="1128.8" y2="279.0" stroke="#6465b4" stroke-opacity="0.33"/><line x1="1028.4" y1="246.0" x2="1128.8" y2="290.4" stroke="#6852aa" stroke-opacity="0.38"/><line x1="1028.4" y1="252.9" x2="1128.8" y2="290.8" stroke="#a4478a" stroke-opacity="0.45"/><line x1="1028.4" y1="288.2" x2="1128.8" y2="291.1" stroke="#a54788" stroke-opacity="0.45"/><line x1="1028.4" y1="210.9" x2="1128.8" y2="285.4" stroke="#5a5cae" stroke-opacity="0.35"/><line x1="1028.4" y1="285.2" x2="1128.8" y2="291.1" stroke="#be466d" stroke-opacity="0.48"/><line x1="1028.4" y1="251.1" x2="1128.8" y2="291.0" stroke="#8e48a2" stroke-opacity="0.42"/><line x1="1028.4" y1="282.2" x2="1128.8" y2="290.6" stroke="#92489d" stroke-opacity="0.43"/><line x1="1028.4" y1="288.5" x2="1128.8" y2="261.6" stroke="#7474bd" stroke-opacity="0.31"/><line x1="1028.4" y1="245.7" x2="1128.8" y2="290.8" stroke="#9048a0" stroke-opacity="0.43"/><line x1="1028.4" y1="238.9" x2="1128.8" y2="279.6" stroke="#844aa7" stroke-opacity="0.41"/><line x1="1028.4" y1="290.8" x2="1128.8" y2="269.0" stroke="#696ab7" stroke-opacity="0.33"/><line x1="1028.4" y1="289.3" x2="1128.8" y2="264.0" stroke="#6c6db9" stroke-opacity="0.32"/><line x1="1028.4" y1="225.6" x2="1128.8" y2="287.4" stroke="#6e51a9" stroke-opacity="0.39"/><line x1="1028.4" y1="246.6" x2="1128.8" y2="290.2" stroke="#9d4791" stroke-opacity="0.44"/><line x1="1028.4" y1="263.3" x2="1128.8" y2="290.6" stroke="#bf4567" stroke-opacity="0.49"/><line x1="1028.4" y1="286.4" x2="1128.8" y2="291.4" stroke="#8948a6" stroke-opacity="0.42"/><line x1="1028.4" y1="256.2" x2="1128.8" y2="290.4" stroke="#b0477d" stroke-opacity="0.46"/><line x1="1028.4" y1="285.2" x2="1128.8" y2="269.2" stroke="#6062b2" stroke-opacity="0.34"/><line x1="1028.4" y1="290.9" x2="1128.8" y2="264.5" stroke="#6162b2" stroke-opacity="0.34"/><line x1="1028.4" y1="286.7" x2="1128.8" y2="291.2" stroke="#be466c" stroke-opacity="0.48"/><line x1="1028.4" y1="234.2" x2="1128.8" y2="282.2" stroke="#8b48a4" stroke-opacity="0.42"/><line x1="1028.4" y1="254.3" x2="1128.8" y2="290.7" stroke="#9c4792" stroke-opacity="0.44"/><line x1="1028.4" y1="248.3" x2="1128.8" y2="290.5" stroke="#8849a6" stroke-opacity="0.42"/><line x1="1028.4" y1="286.4" x2="1128.8" y2="261.7" stroke="#6e6fba" stroke-opacity="0.32"/><line x1="1028.4" y1="288.6" x2="1128.8" y2="268.9" stroke="#5c5eb0" stroke-opacity="0.35"/><line x1="1028.4" y1="289.2" x2="1128.8" y2="264.5" stroke="#6163b3" stroke-opacity="0.34"/><line x1="1028.4" y1="291.1" x2="1128.8" y2="280.2" stroke="#6354ab" stroke-opacity="0.37"/><line x1="1028.4" y1="247.6" x2="1128.8" y2="290.9" stroke="#95489a" stroke-opacity="0.43"/><line x1="1028.4" y1="285.0" x2="1128.8" y2="290.4" stroke="#c04566" stroke-opacity="0.49"/><line x1="1028.4" y1="286.6" x2="1128.8" y2="265.5" stroke="#6465b4" stroke-opacity="0.34"/><line x1="1028.4" y1="287.8" x2="1128.8" y2="272.3" stroke="#5d5eb0" stroke-opacity="0.35"/><line x1="1028.4" y1="288.7" x2="1128.8" y2="263.8" stroke="#6667b5" stroke-opacity="0.33"/><line x1="1028.4" y1="248.4" x2="1128.8" y2="291.2" stroke="#6e51a9" stroke-opacity="0.39"/><line x1="1028.4" y1="287.9" x2="1128.8" y2="261.8" stroke="#6667b6" stroke-opacity="0.33"/><line x1="1028.4" y1="262.3" x2="1128.8" y2="290.8" stroke="#c34456" stroke-opacity="0.51"/><line x1="1028.4" y1="262.1" x2="1128.8" y2="290.7" stroke="#994795" stroke-opacity="0.44"/><line x1="1028.4" y1="225.9" x2="1128.8" y2="286.7" stroke="#7c4ca8" stroke-opacity="0.40"/><line x1="1028.4" y1="285.7" x2="1128.8" y2="267.7" stroke="#585aad" stroke-opacity="0.36"/><line x1="1028.4" y1="289.4" x2="1128.8" y2="268.4" stroke="#6869b6" stroke-opacity="0.33"/><line x1="1028.4" y1="286.6" x2="1128.8" y2="269.1" stroke="#585aad" stroke-opacity="0.36"/><line x1="1028.4" y1="286.1" x2="1128.8" y2="291.0" stroke="#c64342" stroke-opacity="0.53"/><line x1="1028.4" y1="289.8" x2="1128.8" y2="268.5" stroke="#6566b5" stroke-opacity="0.33"/><line x1="1028.4" y1="286.2" x2="1128.8" y2="261.2" stroke="#6b6bb8" stroke-opacity="0.32"/><line x1="1028.4" y1="272.7" x2="1128.8" y2="290.3" stroke="#bb4671" stroke-opacity="0.48"/><line x1="1028.4" y1="287.9" x2="1128.8" y2="261.4" stroke="#6768b6" stroke-opacity="0.33"/><line x1="1028.4" y1="283.3" x2="1128.8" y2="290.4" stroke="#c1455d" stroke-opacity="0.50"/><line x1="1028.4" y1="268.0" x2="1128.8" y2="291.0" stroke="#ba4672" stroke-opacity="0.48"/><line x1="1028.4" y1="221.3" x2="1128.8" y2="283.9" stroke="#6952aa" stroke-opacity="0.38"/><line x1="1028.4" y1="290.3" x2="1128.8" y2="290.6" stroke="#b94674" stroke-opacity="0.47"/><line x1="1028.4" y1="286.2" x2="1128.8" y2="271.3" stroke="#5758ac" stroke-opacity="0.36"/><line x1="1028.4" y1="288.1" x2="1128.8" y2="275.6" stroke="#585aad" stroke-opacity="0.36"/><line x1="1028.4" y1="254.5" x2="1128.8" y2="290.2" stroke="#bf466b" stroke-opacity="0.48"/><line x1="1028.4" y1="290.8" x2="1128.8" y2="273.5" stroke="#6365b4" stroke-opacity="0.34"/><line x1="1028.4" y1="227.0" x2="1128.8" y2="287.9" stroke="#7e4ca7" stroke-opacity="0.41"/><line x1="1028.4" y1="242.5" x2="1128.8" y2="291.2" stroke="#6264b3" stroke-opacity="0.34"/><line x1="1028.4" y1="287.6" x2="1128.8" y2="261.7" stroke="#6e6eba" stroke-opacity="0.32"/><line x1="1028.4" y1="288.8" x2="1128.8" y2="268.7" stroke="#5758ac" stroke-opacity="0.36"/><line x1="1028.4" y1="275.4" x2="1128.8" y2="291.3" stroke="#c24459" stroke-opacity="0.50"/><line x1="1028.4" y1="288.4" x2="1128.8" y2="291.2" stroke="#c1455e" stroke-opacity="0.50"/><line x1="1028.4" y1="284.9" x2="1128.8" y2="291.2" stroke="#b44679" stroke-opacity="0.47"/><line x1="1028.4" y1="290.7" x2="1128.8" y2="274.7" stroke="#5857ac" stroke-opacity="0.36"/><line x1="1028.4" y1="241.0" x2="1128.8" y2="288.6" stroke="#a74787" stroke-opacity="0.45"/><line x1="1028.4" y1="289.3" x2="1128.8" y2="275.2" stroke="#5d5eb0" stroke-opacity="0.35"/><line x1="1028.4" y1="272.1" x2="1128.8" y2="290.9" stroke="#c8423a" stroke-opacity="0.54"/><line x1="1028.4" y1="289.3" x2="1128.8" y2="267.3" stroke="#6061b2" stroke-opacity="0.34"/><line x1="1028.4" y1="239.2" x2="1128.8" y2="281.2" stroke="#9c4792" stroke-opacity="0.44"/><line x1="1028.4" y1="270.2" x2="1128.8" y2="291.2" stroke="#ac4781" stroke-opacity="0.46"/><line x1="1028.4" y1="287.4" x2="1128.8" y2="291.4" stroke="#964899" stroke-opacity="0.43"/><line x1="1028.4" y1="289.1" x2="1128.8" y2="266.7" stroke="#6b6cb9" stroke-opacity="0.32"/><line x1="1028.4" y1="253.3" x2="1128.8" y2="290.4" stroke="#bf4668" stroke-opacity="0.49"/><line x1="1028.4" y1="290.3" x2="1128.8" y2="269.9" stroke="#6365b4" stroke-opacity="0.34"/><line x1="1028.4" y1="289.9" x2="1128.8" y2="271.2" stroke="#5b5daf" stroke-opacity="0.35"/><line x1="1028.4" y1="263.3" x2="1128.8" y2="291.0" stroke="#c4444f" stroke-opacity="0.52"/><line x1="1028.4" y1="291.0" x2="1128.8" y2="281.4" stroke="#6653aa" stroke-opacity="0.38"/><line x1="1028.4" y1="257.1" x2="1128.8" y2="290.7" stroke="#c64345" stroke-opacity="0.53"/><line x1="1028.4" y1="267.0" x2="1128.8" y2="290.5" stroke="#be466c" stroke-opacity="0.48"/><line x1="1028.4" y1="288.5" x2="1128.8" y2="273.6" stroke="#5658ac" stroke-opacity="0.36"/><line x1="1028.4" y1="288.4" x2="1128.8" y2="275.4" stroke="#5759ad" stroke-opacity="0.36"/><line x1="1028.4" y1="286.1" x2="1128.8" y2="279.3" stroke="#764ea8" stroke-opacity="0.40"/><line x1="1028.4" y1="287.9" x2="1128.8" y2="279.6" stroke="#6653aa" stroke-opacity="0.38"/><line x1="1028.4" y1="254.0" x2="1128.8" y2="291.1" stroke="#be466e" stroke-opacity="0.48"/><line x1="1028.4" y1="288.8" x2="1128.8" y2="264.5" stroke="#6264b3" stroke-opacity="0.34"/><line x1="1028.4" y1="246.5" x2="1128.8" y2="290.7" stroke="#95489a" stroke-opacity="0.43"/><line x1="1028.4" y1="283.0" x2="1128.8" y2="290.6" stroke="#c04564" stroke-opacity="0.49"/><line x1="1028.4" y1="286.6" x2="1128.8" y2="262.8" stroke="#6d6eba" stroke-opacity="0.32"/><line x1="1028.4" y1="246.7" x2="1128.8" y2="290.8" stroke="#8849a6" stroke-opacity="0.42"/><line x1="1028.4" y1="288.3" x2="1128.8" y2="270.1" stroke="#6465b4" stroke-opacity="0.34"/><line x1="1028.4" y1="288.6" x2="1128.8" y2="266.8" stroke="#5c5eb0" stroke-opacity="0.35"/><line x1="1028.4" y1="288.2" x2="1128.8" y2="278.2" stroke="#6454aa" stroke-opacity="0.38"/><line x1="1028.4" y1="267.0" x2="1128.8" y2="290.7" stroke="#c04566" stroke-opacity="0.49"/><line x1="1028.4" y1="276.3" x2="1128.8" y2="290.4" stroke="#be466d" stroke-opacity="0.48"/><line x1="1028.4" y1="286.9" x2="1128.8" y2="262.8" stroke="#6a6bb8" stroke-opacity="0.32"/><line x1="1028.4" y1="286.3" x2="1128.8" y2="291.0" stroke="#c34456" stroke-opacity="0.51"/><line x1="1028.4" y1="224.4" x2="1128.8" y2="282.9" stroke="#6a52aa" stroke-opacity="0.38"/><line x1="1028.4" y1="256.4" x2="1128.8" y2="290.3" stroke="#c24458" stroke-opacity="0.51"/><line x1="1028.4" y1="240.2" x2="1128.8" y2="289.4" stroke="#a2478c" stroke-opacity="0.45"/><line x1="1028.4" y1="266.1" x2="1128.8" y2="290.2" stroke="#c7423f" stroke-opacity="0.53"/><line x1="1028.4" y1="230.9" x2="1128.8" y2="288.9" stroke="#734fa9" stroke-opacity="0.39"/><line x1="1028.4" y1="281.8" x2="1128.8" y2="290.4" stroke="#9b4794" stroke-opacity="0.44"/><line x1="1028.4" y1="255.9" x2="1128.8" y2="290.5" stroke="#c24459" stroke-opacity="0.50"/><line x1="1028.4" y1="267.8" x2="1128.8" y2="290.6" stroke="#c04563" stroke-opacity="0.49"/><line x1="1028.4" y1="287.1" x2="1128.8" y2="290.6" stroke="#a64788" stroke-opacity="0.45"/><line x1="1028.4" y1="262.7" x2="1128.8" y2="291.3" stroke="#c34455" stroke-opacity="0.51"/><line x1="1028.4" y1="261.2" x2="1128.8" y2="290.8" stroke="#b3467a" stroke-opacity="0.47"/><line x1="1028.4" y1="283.2" x2="1128.8" y2="290.8" stroke="#a1478e" stroke-opacity="0.45"/><line x1="1028.4" y1="286.8" x2="1128.8" y2="275.5" stroke="#6465b4" stroke-opacity="0.34"/><line x1="1028.4" y1="227.8" x2="1128.8" y2="286.4" stroke="#7b4da8" stroke-opacity="0.40"/><line x1="1028.4" y1="278.8" x2="1128.8" y2="291.1" stroke="#b0477e" stroke-opacity="0.46"/><line x1="1028.4" y1="284.5" x2="1128.8" y2="291.3" stroke="#9c4793" stroke-opacity="0.44"/><line x1="1028.4" y1="289.3" x2="1128.8" y2="261.1" stroke="#6364b4" stroke-opacity="0.34"/><line x1="1028.4" y1="290.6" x2="1128.8" y2="268.6" stroke="#6263b3" stroke-opacity="0.34"/><line x1="1028.4" y1="288.3" x2="1128.8" y2="274.8" stroke="#5b57ab" stroke-opacity="0.37"/><line x1="1028.4" y1="287.0" x2="1128.8" y2="264.9" stroke="#7171bc" stroke-opacity="0.31"/><line x1="1028.4" y1="269.6" x2="1128.8" y2="290.3" stroke="#bf4567" stroke-opacity="0.49"/><line x1="1028.4" y1="284.1" x2="1128.8" y2="290.8" stroke="#bf466a" stroke-opacity="0.48"/><line x1="1028.4" y1="290.4" x2="1128.8" y2="261.3" stroke="#6c6cb9" stroke-opacity="0.32"/><line x1="1028.4" y1="262.0" x2="1128.8" y2="291.1" stroke="#c04563" stroke-opacity="0.49"/><line x1="1028.4" y1="284.4" x2="1128.8" y2="290.3" stroke="#c24459" stroke-opacity="0.50"/><line x1="1028.4" y1="290.3" x2="1128.8" y2="291.4" stroke="#c04565" stroke-opacity="0.49"/><line x1="1028.4" y1="266.5" x2="1128.8" y2="291.3" stroke="#bf4566" stroke-opacity="0.49"/><line x1="1028.4" y1="291.0" x2="1128.8" y2="268.0" stroke="#6566b5" stroke-opacity="0.33"/><line x1="1028.4" y1="290.4" x2="1128.8" y2="291.3" stroke="#aa4784" stroke-opacity="0.46"/><line x1="1028.4" y1="272.8" x2="1128.8" y2="291.3" stroke="#c1455c" stroke-opacity="0.50"/><line x1="1028.4" y1="288.6" x2="1128.8" y2="274.5" stroke="#6853aa" stroke-opacity="0.38"/><line x1="1028.4" y1="281.5" x2="1128.8" y2="290.7" stroke="#bf4567" stroke-opacity="0.49"/><line x1="1028.4" y1="276.0" x2="1128.8" y2="291.1" stroke="#c94238" stroke-opacity="0.54"/><line x1="1028.4" y1="289.4" x2="1128.8" y2="264.3" stroke="#6162b2" stroke-opacity="0.34"/><line x1="1028.4" y1="287.9" x2="1128.8" y2="269.3" stroke="#6162b2" stroke-opacity="0.34"/><line x1="1028.4" y1="286.3" x2="1128.8" y2="278.0" stroke="#6753aa" stroke-opacity="0.38"/><line x1="1028.4" y1="265.3" x2="1128.8" y2="291.0" stroke="#ba4673" stroke-opacity="0.48"/><line x1="1028.4" y1="290.0" x2="1128.8" y2="272.6" stroke="#585aad" stroke-opacity="0.36"/><line x1="1028.4" y1="262.3" x2="1128.8" y2="290.5" stroke="#c24458" stroke-opacity="0.51"/><line x1="1028.4" y1="270.8" x2="1128.8" y2="291.3" stroke="#cb4030" stroke-opacity="0.56"/><line x1="1028.4" y1="287.7" x2="1128.8" y2="266.9" stroke="#6061b2" stroke-opacity="0.34"/><line x1="1028.4" y1="266.8" x2="1128.8" y2="290.9" stroke="#c44451" stroke-opacity="0.51"/><line x1="1028.4" y1="286.0" x2="1128.8" y2="270.9" stroke="#5b5caf" stroke-opacity="0.35"/><line x1="1028.4" y1="290.7" x2="1128.8" y2="268.4" stroke="#595bae" stroke-opacity="0.35"/><line x1="1028.4" y1="274.4" x2="1128.8" y2="290.4" stroke="#c2445a" stroke-opacity="0.50"/><line x1="1028.4" y1="244.3" x2="1128.8" y2="291.4" stroke="#6853aa" stroke-opacity="0.38"/><line x1="1028.4" y1="286.6" x2="1128.8" y2="291.4" stroke="#c84239" stroke-opacity="0.54"/><line x1="1028.4" y1="282.6" x2="1128.8" y2="291.2" stroke="#ab4783" stroke-opacity="0.46"/><line x1="1028.4" y1="285.4" x2="1128.8" y2="290.8" stroke="#bd466f" stroke-opacity="0.48"/><line x1="1028.4" y1="254.2" x2="1128.8" y2="291.1" stroke="#be466e" stroke-opacity="0.48"/><line x1="1028.4" y1="274.2" x2="1128.8" y2="290.6" stroke="#cc3f2b" stroke-opacity="0.57"/><line x1="1028.4" y1="285.3" x2="1128.8" y2="290.9" stroke="#984797" stroke-opacity="0.44"/><line x1="1028.4" y1="275.3" x2="1128.8" y2="290.3" stroke="#c34454" stroke-opacity="0.51"/><line x1="1028.4" y1="290.9" x2="1128.8" y2="273.4" stroke="#6364b4" stroke-opacity="0.34"/><line x1="1028.4" y1="290.8" x2="1128.8" y2="279.3" stroke="#6f50a9" stroke-opacity="0.39"/><line x1="1028.4" y1="285.2" x2="1128.8" y2="264.9" stroke="#6062b2" stroke-opacity="0.34"/><line x1="1028.4" y1="262.8" x2="1128.8" y2="290.5" stroke="#b3467a" stroke-opacity="0.47"/><line x1="1028.4" y1="265.3" x2="1128.8" y2="290.3" stroke="#ca4032" stroke-opacity="0.55"/><line x1="1128.8" y1="264.5" x2="1229.4" y2="84.0" stroke="#6163b3" stroke-opacity="0.34"/><line x1="1128.8" y1="266.7" x2="1229.4" y2="84.0" stroke="#6b6cb9" stroke-opacity="0.32"/><line x1="1128.8" y1="289.0" x2="1229.4" y2="84.0" stroke="#7878c0" stroke-opacity="0.30"/><line x1="1128.8" y1="285.4" x2="1229.4" y2="84.0" stroke="#5a5cae" stroke-opacity="0.35"/><line x1="1128.8" y1="272.6" x2="1229.4" y2="84.0" stroke="#585aad" stroke-opacity="0.36"/><line x1="1128.8" y1="262.6" x2="1229.4" y2="84.0" stroke="#7071bb" stroke-opacity="0.31"/><line x1="1128.8" y1="261.6" x2="1229.4" y2="84.0" stroke="#7474bd" stroke-opacity="0.31"/><line x1="1128.8" y1="262.8" x2="1229.4" y2="84.0" stroke="#6d6eba" stroke-opacity="0.32"/><line x1="1128.8" y1="264.0" x2="1229.4" y2="84.0" stroke="#6c6db9" stroke-opacity="0.32"/><line x1="1128.8" y1="264.9" x2="1229.4" y2="84.0" stroke="#7171bc" stroke-opacity="0.31"/><line x1="1128.8" y1="288.2" x2="1229.4" y2="84.0" stroke="#6c6db9" stroke-opacity="0.32"/><line x1="1128.8" y1="275.2" x2="1229.4" y2="84.0" stroke="#5d5eb0" stroke-opacity="0.35"/><line x1="1128.8" y1="281.7" x2="1229.4" y2="84.0" stroke="#7474be" stroke-opacity="0.31"/><line x1="1128.8" y1="280.3" x2="1229.4" y2="84.0" stroke="#585aad" stroke-opacity="0.36"/><line x1="1128.8" y1="269.0" x2="1229.4" y2="84.0" stroke="#696ab7" stroke-opacity="0.33"/><line x1="1128.8" y1="261.4" x2="1229.4" y2="84.0" stroke="#6768b6" stroke-opacity="0.33"/><line x1="1128.8" y1="268.4" x2="1229.4" y2="84.0" stroke="#6869b6" stroke-opacity="0.33"/><line x1="1128.8" y1="273.8" x2="1229.4" y2="84.0" stroke="#5e60b1" stroke-opacity="0.35"/><line x1="1128.8" y1="284.9" x2="1229.4" y2="84.0" stroke="#7475be" stroke-opacity="0.31"/><line x1="1128.8" y1="270.1" x2="1229.4" y2="84.0" stroke="#6465b4" stroke-opacity="0.34"/><line x1="1128.8" y1="266.9" x2="1229.4" y2="84.0" stroke="#6061b2" stroke-opacity="0.34"/><line x1="1128.8" y1="286.8" x2="1229.4" y2="84.0" stroke="#6768b6" stroke-opacity="0.33"/><line x1="1128.8" y1="285.3" x2="1229.4" y2="84.0" stroke="#6465b4" stroke-opacity="0.34"/><line x1="1128.8" y1="290.6" x2="1229.4" y2="84.0" stroke="#6768b6" stroke-opacity="0.33"/><line x1="1128.8" y1="268.5" x2="1229.4" y2="84.0" stroke="#6566b5" stroke-opacity="0.33"/><line x1="1128.8" y1="275.6" x2="1229.4" y2="84.0" stroke="#585aad" stroke-opacity="0.36"/><line x1="1128.8" y1="290.4" x2="1229.4" y2="84.0" stroke="#6869b6" stroke-opacity="0.33"/><line x1="1128.8" y1="268.0" x2="1229.4" y2="84.0" stroke="#6566b5" stroke-opacity="0.33"/><line x1="1128.8" y1="273.5" x2="1229.4" y2="84.0" stroke="#6365b4" stroke-opacity="0.34"/><line x1="1128.8" y1="284.3" x2="1229.4" y2="84.0" stroke="#7878c0" stroke-opacity="0.30"/><line x1="1128.8" y1="280.8" x2="1229.4" y2="84.0" stroke="#6d6eba" stroke-opacity="0.32"/><line x1="1128.8" y1="264.8" x2="1229.4" y2="84.0" stroke="#6667b5" stroke-opacity="0.33"/><line x1="1128.8" y1="262.8" x2="1229.4" y2="84.0" stroke="#6a6bb8" stroke-opacity="0.32"/><line x1="1128.8" y1="266.8" x2="1229.4" y2="84.0" stroke="#5c5eb0" stroke-opacity="0.35"/><line x1="1128.8" y1="262.5" x2="1229.4" y2="84.0" stroke="#6566b5" stroke-opacity="0.33"/><line x1="1128.8" y1="282.9" x2="1229.4" y2="84.0" stroke="#6a52aa" stroke-opacity="0.38"/><line x1="1128.8" y1="290.1" x2="1229.4" y2="84.0" stroke="#595bae" stroke-opacity="0.36"/><line x1="1128.8" y1="290.7" x2="1229.4" y2="84.0" stroke="#6869b7" stroke-opacity="0.33"/><line x1="1128.8" y1="264.9" x2="1229.4" y2="84.0" stroke="#6062b2" stroke-opacity="0.34"/><line x1="1128.8" y1="269.1" x2="1229.4" y2="84.0" stroke="#585aad" stroke-opacity="0.36"/><line x1="1128.8" y1="275.4" x2="1229.4" y2="84.0" stroke="#5759ad" stroke-opacity="0.36"/><line x1="1128.8" y1="264.5" x2="1229.4" y2="84.0" stroke="#6264b3" stroke-opacity="0.34"/><line x1="1128.8" y1="270.7" x2="1229.4" y2="84.0" stroke="#6465b4" stroke-opacity="0.34"/><line x1="1128.8" y1="272.3" x2="1229.4" y2="84.0" stroke="#5d5eb0" stroke-opacity="0.35"/><line x1="1128.8" y1="261.3" x2="1229.4" y2="84.0" stroke="#6c6cb9" stroke-opacity="0.32"/><line x1="1128.8" y1="286.4" x2="1229.4" y2="84.0" stroke="#7b4da8" stroke-opacity="0.40"/><line x1="1128.8" y1="275.5" x2="1229.4" y2="84.0" stroke="#6465b4" stroke-opacity="0.34"/><line x1="1128.8" y1="264.3" x2="1229.4" y2="84.0" stroke="#6162b2" stroke-opacity="0.34"/><line x1="1128.8" y1="291.2" x2="1229.4" y2="84.0" stroke="#6264b3" stroke-opacity="0.34"/><line x1="1128.8" y1="269.9" x2="1229.4" y2="84.0" stroke="#6365b4" stroke-opacity="0.34"/><line x1="1128.8" y1="286.3" x2="1229.4" y2="84.0" stroke="#696ab7" stroke-opacity="0.33"/><line x1="1128.8" y1="285.9" x2="1229.4" y2="84.0" stroke="#6163b3" stroke-opacity="0.34"/><line x1="1128.8" y1="269.3" x2="1229.4" y2="84.0" stroke="#6162b2" stroke-opacity="0.34"/><line x1="1128.8" y1="290.3" x2="1229.4" y2="84.0" stroke="#734fa9" stroke-opacity="0.39"/><line x1="1128.8" y1="282.2" x2="1229.4" y2="84.0" stroke="#8b48a4" stroke-opacity="0.42"/><line x1="1128.8" y1="279.0" x2="1229.4" y2="84.0" stroke="#6465b4" stroke-opacity="0.33"/><line x1="1128.8" y1="261.7" x2="1229.4" y2="84.0" stroke="#6e6fba" stroke-opacity="0.32"/><line x1="1128.8" y1="261.2" x2="1229.4" y2="84.0" stroke="#6b6bb8" stroke-opacity="0.32"/><line x1="1128.8" y1="286.8" x2="1229.4" y2="84.0" stroke="#6162b2" stroke-opacity="0.34"/><line x1="1128.8" y1="270.3" x2="1229.4" y2="84.0" stroke="#595bae" stroke-opacity="0.36"/><line x1="1128.8" y1="283.9" x2="1229.4" y2="84.0" stroke="#6952aa" stroke-opacity="0.38"/><line x1="1128.8" y1="269.2" x2="1229.4" y2="84.0" stroke="#6062b2" stroke-opacity="0.34"/><line x1="1128.8" y1="267.7" x2="1229.4" y2="84.0" stroke="#585aad" stroke-opacity="0.36"/><line x1="1128.8" y1="286.8" x2="1229.4" y2="84.0" stroke="#7070bb" stroke-opacity="0.31"/><line x1="1128.8" y1="261.1" x2="1229.4" y2="84.0" stroke="#6364b4" stroke-opacity="0.34"/><line x1="1128.8" y1="268.9" x2="1229.4" y2="84.0" stroke="#5c5eb0" stroke-opacity="0.35"/><line x1="1128.8" y1="286.7" x2="1229.4" y2="84.0" stroke="#7c4ca8" stroke-opacity="0.40"/><line x1="1128.8" y1="271.2" x2="1229.4" y2="84.0" stroke="#5b5daf" stroke-opacity="0.35"/><line x1="1128.8" y1="270.9" x2="1229.4" y2="84.0" stroke="#5b5caf" stroke-opacity="0.35"/><line x1="1128.8" y1="287.4" x2="1229.4" y2="84.0" stroke="#6e51a9" stroke-opacity="0.39"/><line x1="1128.8" y1="274.7" x2="1229.4" y2="84.0" stroke="#5857ac" stroke-opacity="0.36"/><line x1="1128.8" y1="268.7" x2="1229.4" y2="84.0" stroke="#5758ac" stroke-opacity="0.36"/><line x1="1128.8" y1="291.4" x2="1229.4" y2="84.0" stroke="#8948a6" stroke-opacity="0.42"/><line x1="1128.8" y1="263.8" x2="1229.4" y2="84.0" stroke="#6667b5" stroke-opacity="0.33"/><line x1="1128.8" y1="274.5" x2="1229.4" y2="84.0" stroke="#6853aa" stroke-opacity="0.38"/><line x1="1128.8" y1="290.4" x2="1229.4" y2="84.0" stroke="#9b4794" stroke-opacity="0.44"/><line x1="1128.8" y1="268.6" x2="1229.4" y2="84.0" stroke="#6263b3" stroke-opacity="0.34"/><line x1="1128.8" y1="264.9" x2="1229.4" y2="84.0" stroke="#6b6cb8" stroke-opacity="0.32"/><line x1="1128.8" y1="290.4" x2="1229.4" y2="84.0" stroke="#744fa9" stroke-opacity="0.39"/><line x1="1128.8" y1="261.8" x2="1229.4" y2="84.0" stroke="#6667b6" stroke-opacity="0.33"/><line x1="1128.8" y1="262.7" x2="1229.4" y2="84.0" stroke="#6667b6" stroke-opacity="0.33"/><line x1="1128.8" y1="265.5" x2="1229.4" y2="84.0" stroke="#6465b4" stroke-opacity="0.34"/><line x1="1128.8" y1="288.2" x2="1229.4" y2="84.0" stroke="#6154ab" stroke-opacity="0.37"/><line x1="1128.8" y1="289.5" x2="1229.4" y2="84.0" stroke="#6e51a9" stroke-opacity="0.39"/><line x1="1128.8" y1="291.4" x2="1229.4" y2="84.0" stroke="#964899" stroke-opacity="0.43"/><line x1="1128.8" y1="264.5" x2="1229.4" y2="84.0" stroke="#6162b2" stroke-opacity="0.34"/><line x1="1128.8" y1="267.3" x2="1229.4" y2="84.0" stroke="#6061b2" stroke-opacity="0.34"/><line x1="1128.8" y1="291.2" x2="1229.4" y2="84.0" stroke="#6e51a9" stroke-opacity="0.39"/><line x1="1128.8" y1="290.8" x2="1229.4" y2="84.0" stroke="#a1478e" stroke-opacity="0.45"/><line x1="1128.8" y1="287.6" x2="1229.4" y2="84.0" stroke="#5a5cae" stroke-opacity="0.35"/><line x1="1128.8" y1="290.4" x2="1229.4" y2="84.0" stroke="#6852aa" stroke-opacity="0.38"/><line x1="1128.8" y1="261.6" x2="1229.4" y2="84.0" stroke="#6f70bb" stroke-opacity="0.32"/><line x1="1128.8" y1="261.7" x2="1229.4" y2="84.0" stroke="#6e6eba" stroke-opacity="0.32"/><line x1="1128.8" y1="290.5" x2="1229.4" y2="84.0" stroke="#5957ac" stroke-opacity="0.36"/><line x1="1128.8" y1="287.3" x2="1229.4" y2="84.0" stroke="#5658ac" stroke-opacity="0.36"/><line x1="1128.8" y1="279.3" x2="1229.4" y2="84.0" stroke="#6f50a9" stroke-opacity="0.39"/><line x1="1128.8" y1="290.7" x2="1229.4" y2="84.0" stroke="#95489a" stroke-opacity="0.43"/><line x1="1128.8" y1="291.0" x2="1229.4" y2="84.0" stroke="#8e48a2" stroke-opacity="0.42"/><line x1="1128.8" y1="279.6" x2="1229.4" y2="84.0" stroke="#6653aa" stroke-opacity="0.38"/><line x1="1128.8" y1="279.7" x2="1229.4" y2="84.0" stroke="#784da8" stroke-opacity="0.40"/><line x1="1128.8" y1="291.2" x2="1229.4" y2="84.0" stroke="#b44679" stroke-opacity="0.47"/><line x1="1128.8" y1="274.8" x2="1229.4" y2="84.0" stroke="#5b57ab" stroke-opacity="0.37"/><line x1="1128.8" y1="290.9" x2="1229.4" y2="84.0" stroke="#9d4792" stroke-opacity="0.44"/><line x1="1128.8" y1="283.8" x2="1229.4" y2="84.0" stroke="#6163b3" stroke-opacity="0.34"/><line x1="1128.8" y1="273.6" x2="1229.4" y2="84.0" stroke="#5658ac" stroke-opacity="0.36"/><line x1="1128.8" y1="284.7" x2="1229.4" y2="84.0" stroke="#7f4ba7" stroke-opacity="0.41"/><line x1="1128.8" y1="279.3" x2="1229.4" y2="84.0" stroke="#764ea8" stroke-opacity="0.40"/><line x1="1128.8" y1="271.3" x2="1229.4" y2="84.0" stroke="#5758ac" stroke-opacity="0.36"/><line x1="1128.8" y1="291.1" x2="1229.4" y2="84.0" stroke="#be466e" stroke-opacity="0.48"/><line x1="1128.8" y1="290.9" x2="1229.4" y2="84.0" stroke="#984797" stroke-opacity="0.44"/><line x1="1128.8" y1="290.7" x2="1229.4" y2="84.0" stroke="#92489d" stroke-opacity="0.43"/><line x1="1128.8" y1="290.7" x2="1229.4" y2="84.0" stroke="#994795" stroke-opacity="0.44"/><line x1="1128.8" y1="290.4" x2="1229.4" y2="84.0" stroke="#b0477d" stroke-opacity="0.46"/><line x1="1128.8" y1="273.4" x2="1229.4" y2="84.0" stroke="#6364b4" stroke-opacity="0.34"/><line x1="1128.8" y1="290.7" x2="1229.4" y2="84.0" stroke="#9c4792" stroke-opacity="0.44"/><line x1="1128.8" y1="290.8" x2="1229.4" y2="84.0" stroke="#6f50a9" stroke-opacity="0.39"/><line x1="1128.8" y1="290.6" x2="1229.4" y2="84.0" stroke="#92489d" stroke-opacity="0.43"/><line x1="1128.8" y1="290.6" x2="1229.4" y2="84.0" stroke="#c04564" stroke-opacity="0.49"/><line x1="1128.8" y1="290.8" x2="1229.4" y2="84.0" stroke="#ae477f" stroke-opacity="0.46"/><line x1="1128.8" y1="280.4" x2="1229.4" y2="84.0" stroke="#724fa9" stroke-opacity="0.39"/><line x1="1128.8" y1="290.8" x2="1229.4" y2="84.0" stroke="#8849a6" stroke-opacity="0.42"/><line x1="1128.8" y1="278.2" x2="1229.4" y2="84.0" stroke="#6454aa" stroke-opacity="0.38"/><line x1="1128.8" y1="291.1" x2="1229.4" y2="84.0" stroke="#754ea8" stroke-opacity="0.40"/><line x1="1128.8" y1="281.4" x2="1229.4" y2="84.0" stroke="#6653aa" stroke-opacity="0.38"/><line x1="1128.8" y1="291.4" x2="1229.4" y2="84.0" stroke="#6853aa" stroke-opacity="0.38"/><line x1="1128.8" y1="282.3" x2="1229.4" y2="84.0" stroke="#5f55ab" stroke-opacity="0.37"/><line x1="1128.8" y1="290.8" x2="1229.4" y2="84.0" stroke="#9048a0" stroke-opacity="0.43"/><line x1="1128.8" y1="291.3" x2="1229.4" y2="84.0" stroke="#9c4793" stroke-opacity="0.44"/><line x1="1128.8" y1="291.3" x2="1229.4" y2="84.0" stroke="#aa4784" stroke-opacity="0.46"/><line x1="1128.8" y1="291.1" x2="1229.4" y2="84.0" stroke="#a54788" stroke-opacity="0.45"/><line x1="1128.8" y1="276.9" x2="1229.4" y2="84.0" stroke="#5758ac" stroke-opacity="0.36"/><line x1="1128.8" y1="291.1" x2="1229.4" y2="84.0" stroke="#a64788" stroke-opacity="0.45"/><line x1="1128.8" y1="281.2" x2="1229.4" y2="84.0" stroke="#9c4792" stroke-opacity="0.44"/><line x1="1128.8" y1="290.5" x2="1229.4" y2="84.0" stroke="#8849a6" stroke-opacity="0.42"/><line x1="1128.8" y1="290.2" x2="1229.4" y2="84.0" stroke="#b94674" stroke-opacity="0.47"/><line x1="1128.8" y1="290.8" x2="1229.4" y2="84.0" stroke="#b3467a" stroke-opacity="0.47"/><line x1="1128.8" y1="279.6" x2="1229.4" y2="84.0" stroke="#844aa7" stroke-opacity="0.41"/><line x1="1128.8" y1="290.2" x2="1229.4" y2="84.0" stroke="#9d4791" stroke-opacity="0.44"/><line x1="1128.8" y1="290.8" x2="1229.4" y2="84.0" stroke="#bd466f" stroke-opacity="0.48"/><line x1="1128.8" y1="291.3" x2="1229.4" y2="84.0" stroke="#b74675" stroke-opacity="0.47"/><line x1="1128.8" y1="290.5" x2="1229.4" y2="84.0" stroke="#be466c" stroke-opacity="0.48"/><line x1="1128.8" y1="278.0" x2="1229.4" y2="84.0" stroke="#6753aa" stroke-opacity="0.38"/><line x1="1128.8" y1="291.4" x2="1229.4" y2="84.0" stroke="#b94673" stroke-opacity="0.47"/><line x1="1128.8" y1="290.9" x2="1229.4" y2="84.0" stroke="#c04564" stroke-opacity="0.49"/><line x1="1128.8" y1="290.8" x2="1229.4" y2="84.0" stroke="#a4478a" stroke-opacity="0.45"/><line x1="1128.8" y1="289.4" x2="1229.4" y2="84.0" stroke="#a2478c" stroke-opacity="0.45"/><line x1="1128.8" y1="288.3" x2="1229.4" y2="84.0" stroke="#9048a0" stroke-opacity="0.43"/><line x1="1128.8" y1="287.9" x2="1229.4" y2="84.0" stroke="#7e4ca7" stroke-opacity="0.41"/><line x1="1128.8" y1="268.4" x2="1229.4" y2="84.0" stroke="#595bae" stroke-opacity="0.35"/><line x1="1128.8" y1="290.5" x2="1229.4" y2="84.0" stroke="#b3467a" stroke-opacity="0.47"/><line x1="1128.8" y1="291.0" x2="1229.4" y2="84.0" stroke="#a1478d" stroke-opacity="0.45"/><line x1="1128.8" y1="290.9" x2="1229.4" y2="84.0" stroke="#95489a" stroke-opacity="0.43"/><line x1="1128.8" y1="291.4" x2="1229.4" y2="84.0" stroke="#c04565" stroke-opacity="0.49"/><line x1="1128.8" y1="291.3" x2="1229.4" y2="84.0" stroke="#c2455b" stroke-opacity="0.50"/><line x1="1128.8" y1="291.2" x2="1229.4" y2="84.0" stroke="#ac4781" stroke-opacity="0.46"/><line x1="1128.8" y1="290.4" x2="1229.4" y2="84.0" stroke="#bf4668" stroke-opacity="0.49"/><line x1="1128.8" y1="291.0" x2="1229.4" y2="84.0" stroke="#ba4672" stroke-opacity="0.48"/><line x1="1128.8" y1="288.6" x2="1229.4" y2="84.0" stroke="#a74787" stroke-opacity="0.45"/><line x1="1128.8" y1="290.2" x2="1229.4" y2="84.0" stroke="#bf466b" stroke-opacity="0.48"/><line x1="1128.8" y1="291.3" x2="1229.4" y2="84.0" stroke="#c1455c" stroke-opacity="0.50"/><line x1="1128.8" y1="285.2" x2="1229.4" y2="84.0" stroke="#794da8" stroke-opacity="0.40"/><line x1="1128.8" y1="290.2" x2="1229.4" y2="84.0" stroke="#c7423f" stroke-opacity="0.53"/><line x1="1128.8" y1="288.4" x2="1229.4" y2="84.0" stroke="#94489c" stroke-opacity="0.43"/><line x1="1128.8" y1="291.2" x2="1229.4" y2="84.0" stroke="#c1455e" stroke-opacity="0.50"/><line x1="1128.8" y1="291.0" x2="1229.4" y2="84.0" stroke="#c4444f" stroke-opacity="0.52"/><line x1="1128.8" y1="288.9" x2="1229.4" y2="84.0" stroke="#734fa9" stroke-opacity="0.39"/><line x1="1128.8" y1="290.7" x2="1229.4" y2="84.0" stroke="#bf4567" stroke-opacity="0.49"/><line x1="1128.8" y1="290.4" x2="1229.4" y2="84.0" stroke="#95489a" stroke-opacity="0.43"/><line x1="1128.8" y1="280.2" x2="1229.4" y2="84.0" stroke="#6354ab" stroke-opacity="0.37"/><line x1="1128.8" y1="291.2" x2="1229.4" y2="84.0" stroke="#ab4783" stroke-opacity="0.46"/><line x1="1128.8" y1="290.8" x2="1229.4" y2="84.0" stroke="#bf466a" stroke-opacity="0.48"/><line x1="1128.8" y1="291.3" x2="1229.4" y2="84.0" stroke="#bf4566" stroke-opacity="0.49"/><line x1="1128.8" y1="290.7" x2="1229.4" y2="84.0" stroke="#c04566" stroke-opacity="0.49"/><line x1="1128.8" y1="290.6" x2="1229.4" y2="84.0" stroke="#a64788" stroke-opacity="0.45"/><line x1="1128.8" y1="291.2" x2="1229.4" y2="84.0" stroke="#be466c" stroke-opacity="0.48"/><line x1="1128.8" y1="291.3" x2="1229.4" y2="84.0" stroke="#c24459" stroke-opacity="0.50"/><line x1="1128.8" y1="290.6" x2="1229.4" y2="84.0" stroke="#c04563" stroke-opacity="0.49"/><line x1="1128.8" y1="290.3" x2="1229.4" y2="84.0" stroke="#c34454" stroke-opacity="0.51"/><line x1="1128.8" y1="291.1" x2="1229.4" y2="84.0" stroke="#b0477e" stroke-opacity="0.46"/><line x1="1128.8" y1="291.0" x2="1229.4" y2="84.0" stroke="#c34456" stroke-opacity="0.51"/><line x1="1128.8" y1="290.5" x2="1229.4" y2="84.0" stroke="#c24459" stroke-opacity="0.50"/><line x1="1128.8" y1="290.7" x2="1229.4" y2="84.0" stroke="#c64345" stroke-opacity="0.53"/><line x1="1128.8" y1="290.6" x2="1229.4" y2="84.0" stroke="#bf4567" stroke-opacity="0.49"/><line x1="1128.8" y1="290.3" x2="1229.4" y2="84.0" stroke="#bb4671" stroke-opacity="0.48"/><line x1="1128.8" y1="291.0" x2="1229.4" y2="84.0" stroke="#ba4673" stroke-opacity="0.48"/><line x1="1128.8" y1="291.3" x2="1229.4" y2="84.0" stroke="#c34455" stroke-opacity="0.51"/><line x1="1128.8" y1="291.3" x2="1229.4" y2="84.0" stroke="#a84786" stroke-opacity="0.45"/><line x1="1128.8" y1="290.3" x2="1229.4" y2="84.0" stroke="#c24459" stroke-opacity="0.50"/><line x1="1128.8" y1="291.1" x2="1229.4" y2="84.0" stroke="#be466d" stroke-opacity="0.48"/><line x1="1128.8" y1="290.3" x2="1229.4" y2="84.0" stroke="#c24458" stroke-opacity="0.51"/><line x1="1128.8" y1="290.4" x2="1229.4" y2="84.0" stroke="#c2445a" stroke-opacity="0.50"/><line x1="1128.8" y1="291.1" x2="1229.4" y2="84.0" stroke="#c94238" stroke-opacity="0.54"/><line x1="1128.8" y1="290.4" x2="1229.4" y2="84.0" stroke="#c1455d" stroke-opacity="0.50"/><line x1="1128.8" y1="291.1" x2="1229.4" y2="84.0" stroke="#be466e" stroke-opacity="0.48"/><line x1="1128.8" y1="290.6" x2="1229.4" y2="84.0" stroke="#cc3f2b" stroke-opacity="0.57"/><line x1="1128.8" y1="291.0" x2="1229.4" y2="84.0" stroke="#c64342" stroke-opacity="0.53"/><line x1="1128.8" y1="290.4" x2="1229.4" y2="84.0" stroke="#be466d" stroke-opacity="0.48"/><line x1="1128.8" y1="290.3" x2="1229.4" y2="84.0" stroke="#ca4032" stroke-opacity="0.55"/><line x1="1128.8" y1="290.6" x2="1229.4" y2="84.0" stroke="#b94674" stroke-opacity="0.47"/><line x1="1128.8" y1="291.1" x2="1229.4" y2="84.0" stroke="#c04563" stroke-opacity="0.49"/><line x1="1128.8" y1="290.8" x2="1229.4" y2="84.0" stroke="#c34456" stroke-opacity="0.51"/><line x1="1128.8" y1="291.3" x2="1229.4" y2="84.0" stroke="#cb4030" stroke-opacity="0.56"/><line x1="1128.8" y1="290.3" x2="1229.4" y2="84.0" stroke="#bf4567" stroke-opacity="0.49"/><line x1="1128.8" y1="290.9" x2="1229.4" y2="84.0" stroke="#c8423a" stroke-opacity="0.54"/><line x1="1128.8" y1="290.9" x2="1229.4" y2="84.0" stroke="#c44451" stroke-opacity="0.51"/><line x1="1128.8" y1="290.4" x2="1229.4" y2="84.0" stroke="#c04566" stroke-opacity="0.49"/><line x1="1128.8" y1="291.4" x2="1229.4" y2="84.0" stroke="#c84239" stroke-opacity="0.54"/><line x1="1128.8" y1="290.5" x2="1229.4" y2="84.0" stroke="#c24458" stroke-opacity="0.51"/></g>
<line x1="1028.4" y1="84.0" x2="1028.4" y2="292.2" stroke="#000" stroke-width="1.6" />
<line x1="1027.6" y1="291.4" x2="1239.3" y2="291.4" stroke="#000" stroke-width="1.6" />
<line x1="1023.4" y1="291.4" x2="1028.4" y2="291.4" stroke="#000" stroke-width="1.4" />
<text x="1009.8" y="301.1" font-size="20.7" text-anchor="end" font-weight="normal" fill="#1a1a1a" >0.00</text>
<line x1="1023.4" y1="239.5" x2="1028.4" y2="239.5" stroke="#000" stroke-width="1.4" />
<text x="1009.8" y="249.2" font-size="20.7" text-anchor="end" font-weight="normal" fill="#1a1a1a" >0.25</text>
<line x1="1023.4" y1="187.7" x2="1028.4" y2="187.7" stroke="#000" stroke-width="1.4" />
<text x="1009.8" y="197.4" font-size="20.7" text-anchor="end" font-weight="normal" fill="#1a1a1a" >0.50</text>
<line x1="1023.4" y1="135.8" x2="1028.4" y2="135.8" stroke="#000" stroke-width="1.4" />
<text x="1009.8" y="145.5" font-size="20.7" text-anchor="end" font-weight="normal" fill="#1a1a1a" >0.75</text>
<line x1="1023.4" y1="84.0" x2="1028.4" y2="84.0" stroke="#000" stroke-width="1.4" />
<text x="1009.8" y="93.7" font-size="20.7" text-anchor="end" font-weight="normal" fill="#1a1a1a" >1.00</text>
<line x1="1028.4" y1="291.4" x2="1028.4" y2="296.4" stroke="#000" stroke-width="1.4" />
<text x="1026.8" y="324.8" font-size="20.7" text-anchor="middle" font-weight="normal" fill="#1a1a1a" >0</text>
<line x1="1128.8" y1="291.4" x2="1128.8" y2="296.4" stroke="#000" stroke-width="1.4" />
<text x="1124.8" y="324.8" font-size="20.7" text-anchor="middle" font-weight="normal" fill="#1a1a1a" >30</text>
<line x1="1229.4" y1="291.4" x2="1229.4" y2="296.4" stroke="#000" stroke-width="1.4" />
<text x="1224.0" y="324.8" font-size="20.7" text-anchor="middle" font-weight="normal" fill="#1a1a1a" >120</text>
<text x="1120.0" y="39.6" font-size="20.7" text-anchor="middle" font-weight="normal" fill="#1a1a1a" >Cluster 2</text>
<text x="1120.0" y="69.0" font-size="20.7" text-anchor="middle" font-weight="normal" fill="#1a1a1a" >(n = 208)</text>
<text x="0.0" y="0.0" font-size="20.7" text-anchor="middle" font-weight="normal" fill="#1a1a1a" transform="translate(664.7,194.3) rotate(-90)">Relative abundance</text>
<text x="949.6" y="357.2" font-size="20.4" text-anchor="middle" font-weight="normal" fill="#1a1a1a" >TYRO3 activation time (s)</text>
<text x="1277.4" y="42.8" font-size="20.7" text-anchor="start" font-weight="normal" fill="#1a1a1a" >Fuzzy</text>
<text x="1277.4" y="69.3" font-size="20.7" text-anchor="start" font-weight="normal" fill="#1a1a1a" >c−means</text>
<text x="1277.4" y="94.8" font-size="20.7" text-anchor="start" font-weight="normal" fill="#1a1a1a" >membership</text>
<rect x="1284.2" y="122.4" width="31.7" height="157.99999999999997" fill="url(#cbar)"/>
<line x1="1284.2" y1="150.5" x2="1290.8" y2="150.5" stroke="#fff" stroke-width="1.4" />
<line x1="1309.3" y1="150.5" x2="1315.9" y2="150.5" stroke="#fff" stroke-width="1.4" />
<text x="1327.4" y="157.8" font-size="20.7" text-anchor="start" font-weight="normal" fill="#1a1a1a" >0.80</text>
<line x1="1284.2" y1="183.6" x2="1290.8" y2="183.6" stroke="#fff" stroke-width="1.4" />
<line x1="1309.3" y1="183.6" x2="1315.9" y2="183.6" stroke="#fff" stroke-width="1.4" />
<text x="1327.4" y="190.9" font-size="20.7" text-anchor="start" font-weight="normal" fill="#1a1a1a" >0.75</text>
<line x1="1284.2" y1="216.0" x2="1290.8" y2="216.0" stroke="#fff" stroke-width="1.4" />
<line x1="1309.3" y1="216.0" x2="1315.9" y2="216.0" stroke="#fff" stroke-width="1.4" />
<text x="1327.4" y="223.3" font-size="20.7" text-anchor="start" font-weight="normal" fill="#1a1a1a" >0.70</text>
<line x1="1284.2" y1="248.1" x2="1290.8" y2="248.1" stroke="#fff" stroke-width="1.4" />
<line x1="1309.3" y1="248.1" x2="1315.9" y2="248.1" stroke="#fff" stroke-width="1.4" />
<text x="1327.4" y="255.4" font-size="20.7" text-anchor="start" font-weight="normal" fill="#1a1a1a" >0.65</text>
<defs>
<linearGradient id="bar1" x1="0" y1="0" x2="1" y2="0">
<stop offset="0" stop-color="#88bce1"/><stop offset="0.22" stop-color="#a6cdea"/><stop offset="0.5" stop-color="#eff7fc"/><stop offset="0.78" stop-color="#a6cdea"/><stop offset="1" stop-color="#88bce1"/>
</linearGradient>
<linearGradient id="bar2" x1="0" y1="0" x2="1" y2="0">
<stop offset="0" stop-color="#88bce1"/><stop offset="0.22" stop-color="#a6cdea"/><stop offset="0.5" stop-color="#eff7fc"/><stop offset="0.78" stop-color="#a6cdea"/><stop offset="1" stop-color="#88bce1"/>
</linearGradient>
</defs>
<text x="-1.0" y="442.4" font-size="33.5" text-anchor="start" font-weight="bold" fill="#000" >c</text>
<line x1="419.0" y1="511.3" x2="483.0" y2="511.3" stroke="#141414" stroke-width="1.5" />
<line x1="221.4" y1="502.4" x2="221.4" y2="475.3" stroke="#141414" stroke-width="1.6" />
<line x1="890.4" y1="502.4" x2="890.4" y2="475.3" stroke="#141414" stroke-width="1.6" />
<line x1="927.7" y1="502.4" x2="927.7" y2="475.3" stroke="#141414" stroke-width="1.6" />
<line x1="1100.6" y1="502.4" x2="1100.6" y2="475.3" stroke="#141414" stroke-width="1.6" />
<line x1="245.0" y1="520.2" x2="245.0" y2="547.5" stroke="#141414" stroke-width="1.6" />
<line x1="275.6" y1="520.2" x2="275.6" y2="547.5" stroke="#141414" stroke-width="1.6" />
<line x1="506.1" y1="520.2" x2="506.1" y2="547.5" stroke="#141414" stroke-width="1.6" />
<line x1="539.8" y1="520.2" x2="539.8" y2="547.5" stroke="#141414" stroke-width="1.6" />
<line x1="573.5" y1="520.2" x2="573.5" y2="547.5" stroke="#141414" stroke-width="1.6" />
<line x1="607.2" y1="520.2" x2="607.2" y2="547.5" stroke="#141414" stroke-width="1.6" />
<line x1="640.9" y1="520.2" x2="640.9" y2="547.5" stroke="#141414" stroke-width="1.6" />
<line x1="674.6" y1="520.2" x2="674.6" y2="547.5" stroke="#141414" stroke-width="1.6" />
<line x1="708.3" y1="520.2" x2="708.3" y2="547.5" stroke="#141414" stroke-width="1.6" />
<line x1="742.0" y1="520.2" x2="742.0" y2="547.5" stroke="#141414" stroke-width="1.6" />
<line x1="775.7" y1="520.2" x2="775.7" y2="547.5" stroke="#141414" stroke-width="1.6" />
<line x1="809.4" y1="520.2" x2="809.4" y2="547.5" stroke="#141414" stroke-width="1.6" />
<line x1="843.1" y1="520.2" x2="843.1" y2="547.5" stroke="#141414" stroke-width="1.6" />
<line x1="876.8" y1="520.2" x2="876.8" y2="547.5" stroke="#141414" stroke-width="1.6" />
<line x1="910.5" y1="520.2" x2="910.5" y2="547.5" stroke="#141414" stroke-width="1.6" />
<line x1="944.2" y1="520.2" x2="944.2" y2="547.5" stroke="#141414" stroke-width="1.6" />
<line x1="977.9" y1="520.2" x2="977.9" y2="547.5" stroke="#141414" stroke-width="1.6" />
<line x1="1011.6" y1="520.2" x2="1011.6" y2="547.5" stroke="#141414" stroke-width="1.6" />
<line x1="1045.3" y1="520.2" x2="1045.3" y2="547.5" stroke="#141414" stroke-width="1.6" />
<line x1="1079.0" y1="520.2" x2="1079.0" y2="547.5" stroke="#141414" stroke-width="1.6" />
<line x1="1112.7" y1="520.2" x2="1112.7" y2="547.5" stroke="#141414" stroke-width="1.6" />
<line x1="1146.4" y1="520.2" x2="1146.4" y2="547.5" stroke="#141414" stroke-width="1.6" />
<line x1="1180.1" y1="520.2" x2="1180.1" y2="547.5" stroke="#141414" stroke-width="1.6" />
<line x1="1213.8" y1="520.2" x2="1213.8" y2="547.5" stroke="#141414" stroke-width="1.6" />
<line x1="1247.5" y1="520.2" x2="1247.5" y2="547.5" stroke="#141414" stroke-width="1.6" />
<line x1="1281.2" y1="520.2" x2="1281.2" y2="547.5" stroke="#141414" stroke-width="1.6" />
<rect x="157.7" y="502.4" width="261.3" height="17.8" fill="url(#bar1)" stroke="#141414" stroke-width="1.8"/>
<rect x="483.3" y="502.4" width="815.0" height="17.8" fill="url(#bar2)" stroke="#141414" stroke-width="1.8"/>
<circle cx="221.4" cy="475.1" r="10.2" fill="#e3000f" stroke="#3a0505" stroke-width="1.8"/>
<text x="0.0" y="0.0" font-size="20.5" text-anchor="start" font-weight="normal" fill="#1a1a1a" transform="translate(226.7,455.0) rotate(-90)">pY294</text>
<circle cx="890.4" cy="475.1" r="10.2" fill="#e3000f" stroke="#3a0505" stroke-width="1.8"/>
<text x="0.0" y="0.0" font-size="20.5" text-anchor="start" font-weight="normal" fill="#1a1a1a" transform="translate(899.0,455.0) rotate(-90)">pY685</text>
<circle cx="927.7" cy="475.1" r="10.2" fill="#e3000f" stroke="#3a0505" stroke-width="1.8"/>
<text x="0.0" y="0.0" font-size="20.5" text-anchor="start" font-weight="normal" fill="#1a1a1a" transform="translate(934.0,455.0) rotate(-90)">pY742</text>
<circle cx="1100.6" cy="475.1" r="10.2" fill="#e3000f" stroke="#3a0505" stroke-width="1.8"/>
<text x="0.0" y="0.0" font-size="20.5" text-anchor="start" font-weight="normal" fill="#1a1a1a" transform="translate(1106.4,455.0) rotate(-90)">pY828</text>
<circle cx="245.0" cy="547.5" r="10.2" fill="#f0def2" stroke="#141414" stroke-width="1.9"/>
<text x="0.0" y="0.0" font-size="20.5" text-anchor="start" font-weight="normal" fill="#1a1a1a" transform="translate(250.8,625.5) rotate(-90)">pY309</text>
<circle cx="275.6" cy="547.5" r="10.2" fill="#f0def2" stroke="#141414" stroke-width="1.9"/>
<text x="0.0" y="0.0" font-size="20.5" text-anchor="start" font-weight="normal" fill="#1a1a1a" transform="translate(281.4,625.5) rotate(-90)">pS324</text>
<circle cx="506.1" cy="547.5" r="10.2" fill="#f0def2" stroke="#141414" stroke-width="1.9"/>
<text x="0.0" y="0.0" font-size="20.5" text-anchor="start" font-weight="normal" fill="#1a1a1a" transform="translate(511.9,625.5) rotate(-90)">pS466</text>
<circle cx="539.8" cy="547.5" r="10.2" fill="#f0def2" stroke="#141414" stroke-width="1.9"/>
<text x="0.0" y="0.0" font-size="20.5" text-anchor="start" font-weight="normal" fill="#1a1a1a" transform="translate(545.6,625.5) rotate(-90)">pS482</text>
<circle cx="573.5" cy="547.5" r="10.2" fill="#f0def2" stroke="#141414" stroke-width="1.9"/>
<text x="0.0" y="0.0" font-size="20.5" text-anchor="start" font-weight="normal" fill="#1a1a1a" transform="translate(579.3,625.5) rotate(-90)">pT494</text>
<circle cx="607.2" cy="547.5" r="10.2" fill="#f0def2" stroke="#141414" stroke-width="1.9"/>
<text x="0.0" y="0.0" font-size="20.5" text-anchor="start" font-weight="normal" fill="#1a1a1a" transform="translate(613.0,625.5) rotate(-90)">pS497</text>
<circle cx="640.9" cy="547.5" r="10.2" fill="#f0def2" stroke="#141414" stroke-width="1.9"/>
<text x="0.0" y="0.0" font-size="20.5" text-anchor="start" font-weight="normal" fill="#1a1a1a" transform="translate(646.7,625.5) rotate(-90)">pS501</text>
<circle cx="674.6" cy="547.5" r="10.2" fill="#f0def2" stroke="#141414" stroke-width="1.9"/>
<text x="0.0" y="0.0" font-size="20.5" text-anchor="start" font-weight="normal" fill="#1a1a1a" transform="translate(680.4,625.5) rotate(-90)">pT519</text>
<circle cx="708.3" cy="547.5" r="10.2" fill="#f0def2" stroke="#141414" stroke-width="1.9"/>
<text x="0.0" y="0.0" font-size="20.5" text-anchor="start" font-weight="normal" fill="#1a1a1a" transform="translate(714.1,625.5) rotate(-90)">pS531</text>
<circle cx="742.0" cy="547.5" r="10.2" fill="#f0def2" stroke="#141414" stroke-width="1.9"/>
<text x="0.0" y="0.0" font-size="20.5" text-anchor="start" font-weight="normal" fill="#1a1a1a" transform="translate(747.8,625.5) rotate(-90)">pS543</text>
<circle cx="775.7" cy="547.5" r="10.2" fill="#f0def2" stroke="#141414" stroke-width="1.9"/>
<text x="0.0" y="0.0" font-size="20.5" text-anchor="start" font-weight="normal" fill="#1a1a1a" transform="translate(781.5,625.5) rotate(-90)">pS587</text>
<circle cx="809.4" cy="547.5" r="10.2" fill="#f0def2" stroke="#141414" stroke-width="1.9"/>
<text x="0.0" y="0.0" font-size="20.5" text-anchor="start" font-weight="normal" fill="#1a1a1a" transform="translate(815.2,625.5) rotate(-90)">pS590</text>
<circle cx="843.1" cy="547.5" r="10.2" fill="#f0def2" stroke="#141414" stroke-width="1.9"/>
<text x="0.0" y="0.0" font-size="20.5" text-anchor="start" font-weight="normal" fill="#1a1a1a" transform="translate(848.9,625.5) rotate(-90)">pY681</text>
<circle cx="876.8" cy="547.5" r="10.2" fill="#f0def2" stroke="#141414" stroke-width="1.9"/>
<text x="0.0" y="0.0" font-size="20.5" text-anchor="start" font-weight="normal" fill="#1a1a1a" transform="translate(882.6,625.5) rotate(-90)">pS682</text>
<circle cx="910.5" cy="547.5" r="10.2" fill="#f0def2" stroke="#141414" stroke-width="1.9"/>
<text x="0.0" y="0.0" font-size="20.5" text-anchor="start" font-weight="normal" fill="#1a1a1a" transform="translate(916.3,625.5) rotate(-90)">pY686</text>
<circle cx="944.2" cy="547.5" r="10.2" fill="#f0def2" stroke="#141414" stroke-width="1.9"/>
<text x="0.0" y="0.0" font-size="20.5" text-anchor="start" font-weight="normal" fill="#1a1a1a" transform="translate(950.0,625.5) rotate(-90)">pY744</text>
<circle cx="977.9" cy="547.5" r="10.2" fill="#f0def2" stroke="#141414" stroke-width="1.9"/>
<text x="0.0" y="0.0" font-size="20.5" text-anchor="start" font-weight="normal" fill="#1a1a1a" transform="translate(983.7,625.5) rotate(-90)">pY762</text>
<circle cx="1011.6" cy="547.5" r="10.2" fill="#f0def2" stroke="#141414" stroke-width="1.9"/>
<text x="0.0" y="0.0" font-size="20.5" text-anchor="start" font-weight="normal" fill="#1a1a1a" transform="translate(1017.4,625.5) rotate(-90)">pY766</text>
<circle cx="1045.3" cy="547.5" r="10.2" fill="#f0def2" stroke="#141414" stroke-width="1.9"/>
<text x="0.0" y="0.0" font-size="20.5" text-anchor="start" font-weight="normal" fill="#1a1a1a" transform="translate(1051.1,625.5) rotate(-90)">pS778</text>
<circle cx="1079.0" cy="547.5" r="10.2" fill="#f0def2" stroke="#141414" stroke-width="1.9"/>
<text x="0.0" y="0.0" font-size="20.5" text-anchor="start" font-weight="normal" fill="#1a1a1a" transform="translate(1084.8,625.5) rotate(-90)">pS818</text>
<circle cx="1112.7" cy="547.5" r="10.2" fill="#f0def2" stroke="#141414" stroke-width="1.9"/>
<text x="0.0" y="0.0" font-size="20.5" text-anchor="start" font-weight="normal" fill="#1a1a1a" transform="translate(1118.5,625.5) rotate(-90)">pS829</text>
<circle cx="1146.4" cy="547.5" r="10.2" fill="#f0def2" stroke="#141414" stroke-width="1.9"/>
<text x="0.0" y="0.0" font-size="20.5" text-anchor="start" font-weight="normal" fill="#1a1a1a" transform="translate(1152.2,625.5) rotate(-90)">pT843</text>
<circle cx="1180.1" cy="547.5" r="10.2" fill="#f0def2" stroke="#141414" stroke-width="1.9"/>
<text x="0.0" y="0.0" font-size="20.5" text-anchor="start" font-weight="normal" fill="#1a1a1a" transform="translate(1185.9,625.5) rotate(-90)">pY849</text>
<circle cx="1213.8" cy="547.5" r="10.2" fill="#f0def2" stroke="#141414" stroke-width="1.9"/>
<text x="0.0" y="0.0" font-size="20.5" text-anchor="start" font-weight="normal" fill="#1a1a1a" transform="translate(1219.6,625.5) rotate(-90)">pT852</text>
<circle cx="1247.5" cy="547.5" r="10.2" fill="#f0def2" stroke="#141414" stroke-width="1.9"/>
<text x="0.0" y="0.0" font-size="20.5" text-anchor="start" font-weight="normal" fill="#1a1a1a" transform="translate(1253.3,625.5) rotate(-90)">pS869</text>
<circle cx="1281.2" cy="547.5" r="10.2" fill="#f0def2" stroke="#141414" stroke-width="1.9"/>
<text x="0.0" y="0.0" font-size="20.5" text-anchor="start" font-weight="normal" fill="#1a1a1a" transform="translate(1287.0,625.5) rotate(-90)">pT874</text>
<circle cx="1181.7" cy="403.6" r="7.3" fill="#e3000f" stroke="#3a0505" stroke-width="1.6"/>
<circle cx="1181.7" cy="428.6" r="7.3" fill="#f0def2" stroke="#141414" stroke-width="1.6"/>
<text x="1196.5" y="408.6" font-size="20.7" text-anchor="start" font-weight="normal" fill="#1a1a1a" >Early increased phosphosites</text>
<text x="1196.5" y="433.3" font-size="20.7" text-anchor="start" font-weight="normal" fill="#1a1a1a" >Identified phosphosites</text>
<text x="780.5" y="664.3" font-size="20.7" text-anchor="middle" font-weight="normal" fill="#1a1a1a" >TYRO3 early regulated phosphosites</text>
<line x1="75.1" y1="675.5" x2="1478.7" y2="675.5" stroke="#222" stroke-width="1.7" />
<rect x="77.7" y="712.0" width="682.3" height="244.3" fill="#fcf3e8"/>
<line x1="77.7" y1="712.0" x2="760.0" y2="712.0" stroke="#714a24" stroke-width="1.9" stroke-dasharray="33.09 35.14" stroke-dashoffset="16.55"/>
<line x1="760.0" y1="712.0" x2="760.0" y2="956.3" stroke="#714a24" stroke-width="1.9" stroke-dasharray="29.62 31.45" stroke-dashoffset="14.81"/>
<line x1="760.0" y1="956.3" x2="77.7" y2="956.3" stroke="#714a24" stroke-width="1.9" stroke-dasharray="33.09 35.14" stroke-dashoffset="16.55"/>
<line x1="77.7" y1="956.3" x2="77.7" y2="712.0" stroke="#714a24" stroke-width="1.9" stroke-dasharray="29.62 31.45" stroke-dashoffset="14.81"/>
<text x="75.4" y="699.5" font-size="20.7" text-anchor="start" font-weight="normal" fill="#1a1a1a" >Signaling transduction</text>
<circle cx="96.0" cy="732.2" r="5.6" fill="#e0101c" stroke="#4a0a0a" stroke-width="1.3"/>
<text x="110.3" y="738.9" font-size="20.7" text-anchor="start" font-weight="normal" fill="#1a1a1a" >AXL pY698</text>
<circle cx="96.0" cy="757.2" r="5.6" fill="#e0101c" stroke="#4a0a0a" stroke-width="1.3"/>
<text x="110.3" y="763.9" font-size="20.7" text-anchor="start" font-weight="normal" fill="#1a1a1a" >AXL pY702</text>
<circle cx="96.0" cy="782.1" r="5.6" fill="#e0101c" stroke="#4a0a0a" stroke-width="1.3"/>
<text x="110.3" y="788.8" font-size="20.7" text-anchor="start" font-weight="normal" fill="#1a1a1a" >CALM3 pS102</text>
<circle cx="96.0" cy="807.1" r="5.6" fill="#e0101c" stroke="#4a0a0a" stroke-width="1.3"/>
<text x="110.3" y="813.8" font-size="20.7" text-anchor="start" font-weight="normal" fill="#1a1a1a" >CAMK2G pS319</text>
<circle cx="96.0" cy="832.0" r="5.6" fill="#e0101c" stroke="#4a0a0a" stroke-width="1.3"/>
<text x="110.3" y="838.7" font-size="20.7" text-anchor="start" font-weight="normal" fill="#1a1a1a" >DAGLB pY573</text>
<circle cx="96.0" cy="857.0" r="5.6" fill="#e0101c" stroke="#4a0a0a" stroke-width="1.3"/>
<text x="110.3" y="863.6" font-size="20.7" text-anchor="start" font-weight="normal" fill="#1a1a1a" >DVL1P1 pY626</text>
<circle cx="96.0" cy="881.9" r="5.6" fill="#e0101c" stroke="#4a0a0a" stroke-width="1.3"/>
<text x="110.3" y="888.6" font-size="20.7" text-anchor="start" font-weight="normal" fill="#1a1a1a" >ERBIN pY1042</text>
<circle cx="96.0" cy="906.9" r="5.6" fill="#e0101c" stroke="#4a0a0a" stroke-width="1.3"/>
<text x="110.3" y="913.5" font-size="20.7" text-anchor="start" font-weight="normal" fill="#1a1a1a" >INPPL1 pY671</text>
<circle cx="96.0" cy="931.8" r="5.6" fill="#e0101c" stroke="#4a0a0a" stroke-width="1.3"/>
<text x="110.3" y="938.5" font-size="20.7" text-anchor="start" font-weight="normal" fill="#1a1a1a" >IRS4 pY828</text>
<circle cx="326.7" cy="732.2" r="5.6" fill="#e0101c" stroke="#4a0a0a" stroke-width="1.3"/>
<text x="341.9" y="738.9" font-size="20.7" text-anchor="start" font-weight="normal" fill="#1a1a1a" >MAPKAPK2 pY367</text>
<circle cx="326.7" cy="757.2" r="5.6" fill="#e0101c" stroke="#4a0a0a" stroke-width="1.3"/>
<text x="341.9" y="763.9" font-size="20.7" text-anchor="start" font-weight="normal" fill="#1a1a1a" >MARK1 pY24</text>
<circle cx="326.7" cy="782.1" r="5.6" fill="#e0101c" stroke="#4a0a0a" stroke-width="1.3"/>
<text x="341.9" y="788.8" font-size="20.7" text-anchor="start" font-weight="normal" fill="#1a1a1a" >PI4K2A pY465</text>
<circle cx="326.7" cy="807.1" r="5.6" fill="#e0101c" stroke="#4a0a0a" stroke-width="1.3"/>
<text x="341.9" y="813.8" font-size="20.7" text-anchor="start" font-weight="normal" fill="#1a1a1a" >PIK3AP1 pY570</text>
<circle cx="326.7" cy="832.0" r="5.6" fill="#e0101c" stroke="#4a0a0a" stroke-width="1.3"/>
<text x="341.9" y="838.7" font-size="20.7" text-anchor="start" font-weight="normal" fill="#1a1a1a" >PIKFYVE pY1772</text>
<circle cx="326.7" cy="857.0" r="5.6" fill="#e0101c" stroke="#4a0a0a" stroke-width="1.3"/>
<text x="341.9" y="863.6" font-size="20.7" text-anchor="start" font-weight="normal" fill="#1a1a1a" >PIP5K1A pY346</text>
<circle cx="326.7" cy="881.9" r="5.6" fill="#e0101c" stroke="#4a0a0a" stroke-width="1.3"/>
<text x="341.9" y="888.6" font-size="20.7" text-anchor="start" font-weight="normal" fill="#1a1a1a" >PIP5K1A pY360</text>
<circle cx="326.7" cy="906.9" r="5.6" fill="#e0101c" stroke="#4a0a0a" stroke-width="1.3"/>
<text x="341.9" y="913.5" font-size="20.7" text-anchor="start" font-weight="normal" fill="#1a1a1a" >PIP5K1A pY483</text>
<circle cx="326.7" cy="931.8" r="5.6" fill="#e0101c" stroke="#4a0a0a" stroke-width="1.3"/>
<text x="341.9" y="938.5" font-size="20.7" text-anchor="start" font-weight="normal" fill="#1a1a1a" >PLCG2 pY759</text>
<circle cx="550.4" cy="732.2" r="5.6" fill="#e0101c" stroke="#4a0a0a" stroke-width="1.3"/>
<text x="566.7" y="738.9" font-size="20.7" text-anchor="start" font-weight="normal" fill="#1a1a1a" >PLCG2 pY1264</text>
<circle cx="550.4" cy="757.2" r="5.6" fill="#e0101c" stroke="#4a0a0a" stroke-width="1.3"/>
<text x="566.7" y="763.9" font-size="20.7" text-anchor="start" font-weight="normal" fill="#1a1a1a" >PLXNA1 pY1608</text>
<circle cx="550.4" cy="782.1" r="5.6" fill="#e0101c" stroke="#4a0a0a" stroke-width="1.3"/>
<text x="566.7" y="788.8" font-size="20.7" text-anchor="start" font-weight="normal" fill="#1a1a1a" >PRKCD pY334</text>
<circle cx="550.4" cy="807.1" r="5.6" fill="#e0101c" stroke="#4a0a0a" stroke-width="1.3"/>
<text x="566.7" y="813.8" font-size="20.7" text-anchor="start" font-weight="normal" fill="#1a1a1a" >RAPGEF6 pY1490</text>
<circle cx="550.4" cy="832.0" r="5.6" fill="#e0101c" stroke="#4a0a0a" stroke-width="1.3"/>
<text x="566.7" y="838.7" font-size="20.7" text-anchor="start" font-weight="normal" fill="#1a1a1a" >ROBO2 pY893</text>
<circle cx="550.4" cy="857.0" r="5.6" fill="#e0101c" stroke="#4a0a0a" stroke-width="1.3"/>
<text x="566.7" y="863.6" font-size="20.7" text-anchor="start" font-weight="normal" fill="#1a1a1a" >RPTOR pY723</text>
<circle cx="550.4" cy="881.9" r="5.6" fill="#e0101c" stroke="#4a0a0a" stroke-width="1.3"/>
<text x="566.7" y="888.6" font-size="20.7" text-anchor="start" font-weight="normal" fill="#1a1a1a" >SHC1 pY427</text>
<circle cx="550.4" cy="906.9" r="5.6" fill="#e0101c" stroke="#4a0a0a" stroke-width="1.3"/>
<text x="566.7" y="913.5" font-size="20.7" text-anchor="start" font-weight="normal" fill="#1a1a1a" >UBASH3B pY19</text>
<rect x="77.7" y="990.4" width="682.3" height="130.3" fill="#fcf3e8"/>
<line x1="77.7" y1="990.4" x2="760.0" y2="990.4" stroke="#714a24" stroke-width="1.9" stroke-dasharray="33.09 35.14" stroke-dashoffset="16.55"/>
<line x1="760.0" y1="990.4" x2="760.0" y2="1120.7" stroke="#714a24" stroke-width="1.9" stroke-dasharray="31.60 33.55" stroke-dashoffset="15.80"/>
<line x1="760.0" y1="1120.7" x2="77.7" y2="1120.7" stroke="#714a24" stroke-width="1.9" stroke-dasharray="33.09 35.14" stroke-dashoffset="16.55"/>
<line x1="77.7" y1="1120.7" x2="77.7" y2="990.4" stroke="#714a24" stroke-width="1.9" stroke-dasharray="31.60 33.55" stroke-dashoffset="15.80"/>
<text x="78.6" y="980.7" font-size="20.7" text-anchor="start" font-weight="normal" fill="#1a1a1a" >Phosphatase</text>
<circle cx="97.7" cy="1017.7" r="5.6" fill="#e0101c" stroke="#4a0a0a" stroke-width="1.3"/>
<text x="116.2" y="1026.9" font-size="20.7" text-anchor="start" font-weight="normal" fill="#1a1a1a" >PPP1R11 pY64</text>
<circle cx="97.7" cy="1042.6" r="5.6" fill="#e0101c" stroke="#4a0a0a" stroke-width="1.3"/>
<text x="116.2" y="1051.8" font-size="20.7" text-anchor="start" font-weight="normal" fill="#1a1a1a" >PPP1R12A pY911</text>
<circle cx="97.7" cy="1067.5" r="5.6" fill="#e0101c" stroke="#4a0a0a" stroke-width="1.3"/>
<text x="116.2" y="1076.7" font-size="20.7" text-anchor="start" font-weight="normal" fill="#1a1a1a" >PPP1R13L pY126</text>
<circle cx="97.7" cy="1092.4" r="5.6" fill="#e0101c" stroke="#4a0a0a" stroke-width="1.3"/>
<text x="116.2" y="1101.6" font-size="20.7" text-anchor="start" font-weight="normal" fill="#1a1a1a" >PPP1R14B pY29</text>
<circle cx="325.1" cy="1016.7" r="5.6" fill="#e0101c" stroke="#4a0a0a" stroke-width="1.3"/>
<text x="338.8" y="1025.9" font-size="20.7" text-anchor="start" font-weight="normal" fill="#1a1a1a" >PPP1R16A pY424</text>
<circle cx="325.1" cy="1041.6" r="5.6" fill="#e0101c" stroke="#4a0a0a" stroke-width="1.3"/>
<text x="338.8" y="1050.8" font-size="20.7" text-anchor="start" font-weight="normal" fill="#1a1a1a" >PPP1R3D pS25</text>
<circle cx="325.1" cy="1066.5" r="5.6" fill="#e0101c" stroke="#4a0a0a" stroke-width="1.3"/>
<text x="338.8" y="1075.7" font-size="20.7" text-anchor="start" font-weight="normal" fill="#1a1a1a" >PPP2R5D pY580</text>
<circle cx="325.1" cy="1091.4" r="5.6" fill="#e0101c" stroke="#4a0a0a" stroke-width="1.3"/>
<text x="338.8" y="1100.6" font-size="20.7" text-anchor="start" font-weight="normal" fill="#1a1a1a" >PTPN11 pY584</text>
<circle cx="542.5" cy="1017.8" r="5.6" fill="#e0101c" stroke="#4a0a0a" stroke-width="1.3"/>
<text x="560.9" y="1025.9" font-size="20.7" text-anchor="start" font-weight="normal" fill="#1a1a1a" >PTPN1 pY20</text>
<circle cx="542.5" cy="1042.7" r="5.6" fill="#e0101c" stroke="#4a0a0a" stroke-width="1.3"/>
<text x="560.9" y="1050.8" font-size="20.7" text-anchor="start" font-weight="normal" fill="#1a1a1a" >PTPN1 pY66</text>
<circle cx="542.5" cy="1067.6" r="5.6" fill="#e0101c" stroke="#4a0a0a" stroke-width="1.3"/>
<text x="560.9" y="1075.7" font-size="20.7" text-anchor="start" font-weight="normal" fill="#1a1a1a" >PTPN1 pY359</text>
<rect x="77.7" y="1160.9" width="682.3" height="168.8" fill="#fcf3e8"/>
<line x1="77.7" y1="1160.9" x2="760.0" y2="1160.9" stroke="#714a24" stroke-width="1.9" stroke-dasharray="33.09 35.14" stroke-dashoffset="16.55"/>
<line x1="760.0" y1="1160.9" x2="760.0" y2="1329.7" stroke="#714a24" stroke-width="1.9" stroke-dasharray="40.93 43.47" stroke-dashoffset="20.47"/>
<line x1="760.0" y1="1329.7" x2="77.7" y2="1329.7" stroke="#714a24" stroke-width="1.9" stroke-dasharray="33.09 35.14" stroke-dashoffset="16.55"/>
<line x1="77.7" y1="1329.7" x2="77.7" y2="1160.9" stroke="#714a24" stroke-width="1.9" stroke-dasharray="40.93 43.47" stroke-dashoffset="20.47"/>
<text x="75.4" y="1152.5" font-size="20.7" text-anchor="start" font-weight="normal" fill="#1a1a1a" >Cytoskeleton</text>
<circle cx="97.7" cy="1183.7" r="5.6" fill="#e0101c" stroke="#4a0a0a" stroke-width="1.3"/>
<text x="110.8" y="1191.0" font-size="20.7" text-anchor="start" font-weight="normal" fill="#1a1a1a" >CNN3 pY261</text>
<circle cx="97.7" cy="1208.7" r="5.6" fill="#e0101c" stroke="#4a0a0a" stroke-width="1.3"/>
<text x="110.8" y="1216.0" font-size="20.7" text-anchor="start" font-weight="normal" fill="#1a1a1a" >CTTN pY154</text>
<circle cx="97.7" cy="1233.7" r="5.6" fill="#e0101c" stroke="#4a0a0a" stroke-width="1.3"/>
<text x="110.8" y="1241.0" font-size="20.7" text-anchor="start" font-weight="normal" fill="#1a1a1a" >CTTN pY191</text>
<circle cx="97.7" cy="1258.7" r="5.6" fill="#e0101c" stroke="#4a0a0a" stroke-width="1.3"/>
<text x="110.8" y="1266.0" font-size="20.7" text-anchor="start" font-weight="normal" fill="#1a1a1a" >CTTN pY228</text>
<circle cx="97.7" cy="1283.7" r="5.6" fill="#e0101c" stroke="#4a0a0a" stroke-width="1.3"/>
<text x="110.8" y="1291.0" font-size="20.7" text-anchor="start" font-weight="normal" fill="#1a1a1a" >CTTN pY302</text>
<circle cx="97.7" cy="1308.7" r="5.6" fill="#e0101c" stroke="#4a0a0a" stroke-width="1.3"/>
<text x="110.8" y="1316.0" font-size="20.7" text-anchor="start" font-weight="normal" fill="#1a1a1a" >DBNL pY162</text>
<circle cx="329.8" cy="1183.7" r="5.6" fill="#e0101c" stroke="#4a0a0a" stroke-width="1.3"/>
<text x="344.0" y="1192.0" font-size="20.7" text-anchor="start" font-weight="normal" fill="#1a1a1a" >DIAPH3 pY1121</text>
<circle cx="329.8" cy="1208.7" r="5.6" fill="#e0101c" stroke="#4a0a0a" stroke-width="1.3"/>
<text x="344.0" y="1217.0" font-size="20.7" text-anchor="start" font-weight="normal" fill="#1a1a1a" >ENAH pS405</text>
<circle cx="329.8" cy="1233.7" r="5.6" fill="#e0101c" stroke="#4a0a0a" stroke-width="1.3"/>
<text x="344.0" y="1242.0" font-size="20.7" text-anchor="start" font-weight="normal" fill="#1a1a1a" >EPB41 pY660</text>
<circle cx="329.8" cy="1258.7" r="5.6" fill="#e0101c" stroke="#4a0a0a" stroke-width="1.3"/>
<text x="344.0" y="1267.0" font-size="20.7" text-anchor="start" font-weight="normal" fill="#1a1a1a" >IQSEC1 pS180</text>
<circle cx="329.8" cy="1283.7" r="5.6" fill="#e0101c" stroke="#4a0a0a" stroke-width="1.3"/>
<text x="344.0" y="1292.0" font-size="20.7" text-anchor="start" font-weight="normal" fill="#1a1a1a" >KIF14 pY67</text>
<circle cx="329.8" cy="1308.7" r="5.6" fill="#e0101c" stroke="#4a0a0a" stroke-width="1.3"/>
<text x="344.0" y="1317.0" font-size="20.7" text-anchor="start" font-weight="normal" fill="#1a1a1a" >MYO1E pY971</text>
<circle cx="552.5" cy="1183.7" r="5.6" fill="#e0101c" stroke="#4a0a0a" stroke-width="1.3"/>
<text x="568.8" y="1191.0" font-size="20.7" text-anchor="start" font-weight="normal" fill="#1a1a1a" >PALLD pY731</text>
<circle cx="552.5" cy="1208.7" r="5.6" fill="#e0101c" stroke="#4a0a0a" stroke-width="1.3"/>
<text x="568.8" y="1216.0" font-size="20.7" text-anchor="start" font-weight="normal" fill="#1a1a1a" >PDLIM1 pY321</text>
<circle cx="552.5" cy="1233.7" r="5.6" fill="#e0101c" stroke="#4a0a0a" stroke-width="1.3"/>
<text x="568.8" y="1241.0" font-size="20.7" text-anchor="start" font-weight="normal" fill="#1a1a1a" >PDLIM5 pY247</text>
<circle cx="552.5" cy="1258.7" r="5.6" fill="#e0101c" stroke="#4a0a0a" stroke-width="1.3"/>
<text x="568.8" y="1266.0" font-size="20.7" text-anchor="start" font-weight="normal" fill="#1a1a1a" >VIM pY53</text>
<circle cx="552.5" cy="1283.7" r="5.6" fill="#e0101c" stroke="#4a0a0a" stroke-width="1.3"/>
<text x="568.8" y="1291.0" font-size="20.7" text-anchor="start" font-weight="normal" fill="#1a1a1a" >WHAMM pY431</text>
<rect x="799.0" y="714.7" width="684.6" height="273.9" fill="#fcf3e8"/>
<line x1="799.0" y1="714.7" x2="1483.6" y2="714.7" stroke="#714a24" stroke-width="1.9" stroke-dasharray="33.20 35.26" stroke-dashoffset="16.60"/>
<line x1="1483.6" y1="714.7" x2="1483.6" y2="988.6" stroke="#714a24" stroke-width="1.9" stroke-dasharray="33.21 35.26" stroke-dashoffset="16.61"/>
<line x1="1483.6" y1="988.6" x2="799.0" y2="988.6" stroke="#714a24" stroke-width="1.9" stroke-dasharray="33.20 35.26" stroke-dashoffset="16.60"/>
<line x1="799.0" y1="988.6" x2="799.0" y2="714.7" stroke="#714a24" stroke-width="1.9" stroke-dasharray="33.21 35.26" stroke-dashoffset="16.61"/>
<text x="801.5" y="704.4" font-size="20.7" text-anchor="start" font-weight="normal" fill="#1a1a1a" >Vesicular transport</text>
<circle cx="818.6" cy="738.6" r="5.6" fill="#e0101c" stroke="#4a0a0a" stroke-width="1.3"/>
<text x="836.7" y="747.4" font-size="20.7" text-anchor="start" font-weight="normal" fill="#1a1a1a" >AP1AR pY77</text>
<circle cx="818.6" cy="763.5" r="5.6" fill="#e0101c" stroke="#4a0a0a" stroke-width="1.3"/>
<text x="836.7" y="772.2" font-size="20.7" text-anchor="start" font-weight="normal" fill="#1a1a1a" >ARFGAP2 pS432</text>
<circle cx="818.6" cy="788.3" r="5.6" fill="#e0101c" stroke="#4a0a0a" stroke-width="1.3"/>
<text x="836.7" y="797.1" font-size="20.7" text-anchor="start" font-weight="normal" fill="#1a1a1a" >ARFGAP2 pS433</text>
<circle cx="818.6" cy="813.2" r="5.6" fill="#e0101c" stroke="#4a0a0a" stroke-width="1.3"/>
<text x="836.7" y="822.0" font-size="20.7" text-anchor="start" font-weight="normal" fill="#1a1a1a" >ARFGAP2 pY278</text>
<circle cx="818.6" cy="838.0" r="5.6" fill="#e0101c" stroke="#4a0a0a" stroke-width="1.3"/>
<text x="836.7" y="846.8" font-size="20.7" text-anchor="start" font-weight="normal" fill="#1a1a1a" >ARFGAP3 pS429</text>
<circle cx="818.6" cy="862.9" r="5.6" fill="#e0101c" stroke="#4a0a0a" stroke-width="1.3"/>
<text x="836.7" y="871.6" font-size="20.7" text-anchor="start" font-weight="normal" fill="#1a1a1a" >FCHO1 pY358</text>
<circle cx="818.6" cy="887.7" r="5.6" fill="#e0101c" stroke="#4a0a0a" stroke-width="1.3"/>
<text x="836.7" y="896.5" font-size="20.7" text-anchor="start" font-weight="normal" fill="#1a1a1a" >GOLGA5 pY54</text>
<circle cx="818.6" cy="912.6" r="5.6" fill="#e0101c" stroke="#4a0a0a" stroke-width="1.3"/>
<text x="836.7" y="921.4" font-size="20.7" text-anchor="start" font-weight="normal" fill="#1a1a1a" >GOLGA5 pY62</text>
<circle cx="818.6" cy="937.4" r="5.6" fill="#e0101c" stroke="#4a0a0a" stroke-width="1.3"/>
<text x="836.7" y="946.2" font-size="20.7" text-anchor="start" font-weight="normal" fill="#1a1a1a" >GOPC pY457</text>
<circle cx="818.6" cy="962.2" r="5.6" fill="#e0101c" stroke="#4a0a0a" stroke-width="1.3"/>
<text x="836.7" y="971.0" font-size="20.7" text-anchor="start" font-weight="normal" fill="#1a1a1a" >HGS pY334</text>
<circle cx="1044.2" cy="738.6" r="5.6" fill="#e0101c" stroke="#4a0a0a" stroke-width="1.3"/>
<text x="1058.8" y="747.4" font-size="20.7" text-anchor="start" font-weight="normal" fill="#1a1a1a" >MICALL1 pY464</text>
<circle cx="1044.2" cy="763.5" r="5.6" fill="#e0101c" stroke="#4a0a0a" stroke-width="1.3"/>
<text x="1058.8" y="772.2" font-size="20.7" text-anchor="start" font-weight="normal" fill="#1a1a1a" >RAB1A pY8</text>
<circle cx="1044.2" cy="788.3" r="5.6" fill="#e0101c" stroke="#4a0a0a" stroke-width="1.3"/>
<text x="1058.8" y="797.1" font-size="20.7" text-anchor="start" font-weight="normal" fill="#1a1a1a" >RAB1B pY5</text>
<circle cx="1044.2" cy="813.2" r="5.6" fill="#e0101c" stroke="#4a0a0a" stroke-width="1.3"/>
<text x="1058.8" y="822.0" font-size="20.7" text-anchor="start" font-weight="normal" fill="#1a1a1a" >RAB34 pY247</text>
<circle cx="1044.2" cy="838.0" r="5.6" fill="#e0101c" stroke="#4a0a0a" stroke-width="1.3"/>
<text x="1058.8" y="846.8" font-size="20.7" text-anchor="start" font-weight="normal" fill="#1a1a1a" >RAB5B pY82</text>
<circle cx="1044.2" cy="862.9" r="5.6" fill="#e0101c" stroke="#4a0a0a" stroke-width="1.3"/>
<text x="1058.8" y="871.6" font-size="20.7" text-anchor="start" font-weight="normal" fill="#1a1a1a" >SCAMP3 pY35</text>
<circle cx="1044.2" cy="887.7" r="5.6" fill="#e0101c" stroke="#4a0a0a" stroke-width="1.3"/>
<text x="1058.8" y="896.5" font-size="20.7" text-anchor="start" font-weight="normal" fill="#1a1a1a" >SCAMP3 pY53</text>
<circle cx="1044.2" cy="912.6" r="5.6" fill="#e0101c" stroke="#4a0a0a" stroke-width="1.3"/>
<text x="1058.8" y="921.4" font-size="20.7" text-anchor="start" font-weight="normal" fill="#1a1a1a" >SCAMP3 pY83</text>
<circle cx="1044.2" cy="937.4" r="5.6" fill="#e0101c" stroke="#4a0a0a" stroke-width="1.3"/>
<text x="1058.8" y="946.2" font-size="20.7" text-anchor="start" font-weight="normal" fill="#1a1a1a" >SCAMP3 pY86</text>
<circle cx="1268.3" cy="738.6" r="5.6" fill="#e0101c" stroke="#4a0a0a" stroke-width="1.3"/>
<text x="1282.5" y="747.4" font-size="20.7" text-anchor="start" font-weight="normal" fill="#1a1a1a" >SEC16A pY2015</text>
<circle cx="1268.3" cy="763.5" r="5.6" fill="#e0101c" stroke="#4a0a0a" stroke-width="1.3"/>
<text x="1282.5" y="772.2" font-size="20.7" text-anchor="start" font-weight="normal" fill="#1a1a1a" >SFT2D3 pY11</text>
<circle cx="1268.3" cy="788.3" r="5.6" fill="#e0101c" stroke="#4a0a0a" stroke-width="1.3"/>
<text x="1282.5" y="797.1" font-size="20.7" text-anchor="start" font-weight="normal" fill="#1a1a1a" >SNAP29 pY44</text>
<circle cx="1268.3" cy="813.2" r="5.6" fill="#e0101c" stroke="#4a0a0a" stroke-width="1.3"/>
<text x="1282.5" y="822.0" font-size="20.7" text-anchor="start" font-weight="normal" fill="#1a1a1a" >SNAP29 pY68</text>
<circle cx="1268.3" cy="838.0" r="5.6" fill="#e0101c" stroke="#4a0a0a" stroke-width="1.3"/>
<text x="1282.5" y="846.8" font-size="20.7" text-anchor="start" font-weight="normal" fill="#1a1a1a" >SNAP29 pY160</text>
<circle cx="1268.3" cy="862.9" r="5.6" fill="#e0101c" stroke="#4a0a0a" stroke-width="1.3"/>
<text x="1282.5" y="871.6" font-size="20.7" text-anchor="start" font-weight="normal" fill="#1a1a1a" >SNCA pY39</text>
<circle cx="1268.3" cy="887.7" r="5.6" fill="#e0101c" stroke="#4a0a0a" stroke-width="1.3"/>
<text x="1282.5" y="896.5" font-size="20.7" text-anchor="start" font-weight="normal" fill="#1a1a1a" >STAM pY384</text>
<circle cx="1268.3" cy="912.6" r="5.6" fill="#e0101c" stroke="#4a0a0a" stroke-width="1.3"/>
<text x="1282.5" y="921.4" font-size="20.7" text-anchor="start" font-weight="normal" fill="#1a1a1a" >STX16 pY214</text>
<circle cx="1268.3" cy="937.4" r="5.6" fill="#e0101c" stroke="#4a0a0a" stroke-width="1.3"/>
<text x="1282.5" y="946.2" font-size="20.7" text-anchor="start" font-weight="normal" fill="#1a1a1a" >VPS35 pY791</text>
<rect x="800.5" y="1037.4" width="682.1" height="92.7" fill="#fcf3e8"/>
<line x1="800.5" y1="1037.4" x2="1482.6" y2="1037.4" stroke="#714a24" stroke-width="1.9" stroke-dasharray="33.08 35.13" stroke-dashoffset="16.54"/>
<line x1="1482.6" y1="1037.4" x2="1482.6" y2="1130.1" stroke="#714a24" stroke-width="1.9" stroke-dasharray="44.96 47.74" stroke-dashoffset="22.48"/>
<line x1="1482.6" y1="1130.1" x2="800.5" y2="1130.1" stroke="#714a24" stroke-width="1.9" stroke-dasharray="33.08 35.13" stroke-dashoffset="16.54"/>
<line x1="800.5" y1="1130.1" x2="800.5" y2="1037.4" stroke="#714a24" stroke-width="1.9" stroke-dasharray="44.96 47.74" stroke-dashoffset="22.48"/>
<text x="799.0" y="1029.0" font-size="20.7" text-anchor="start" font-weight="normal" fill="#1a1a1a" >Small molecule transporter</text>
<circle cx="818.6" cy="1057.4" r="5.6" fill="#e0101c" stroke="#4a0a0a" stroke-width="1.3"/>
<text x="831.8" y="1064.5" font-size="20.7" text-anchor="start" font-weight="normal" fill="#1a1a1a" >MFSD5 pY446</text>
<circle cx="818.6" cy="1082.5" r="5.6" fill="#e0101c" stroke="#4a0a0a" stroke-width="1.3"/>
<text x="831.8" y="1089.6" font-size="20.7" text-anchor="start" font-weight="normal" fill="#1a1a1a" >MMGT1 pY91</text>
<circle cx="818.6" cy="1107.6" r="5.6" fill="#e0101c" stroke="#4a0a0a" stroke-width="1.3"/>
<text x="831.8" y="1114.7" font-size="20.7" text-anchor="start" font-weight="normal" fill="#1a1a1a" >SLC12A2 pY227</text>
<circle cx="1051.5" cy="1060.8" r="5.6" fill="#e0101c" stroke="#4a0a0a" stroke-width="1.3"/>
<text x="1070.0" y="1068.5" font-size="20.7" text-anchor="start" font-weight="normal" fill="#1a1a1a" >SLC12A6 pY156</text>
<circle cx="1051.5" cy="1085.4" r="5.6" fill="#e0101c" stroke="#4a0a0a" stroke-width="1.3"/>
<text x="1070.0" y="1093.1" font-size="20.7" text-anchor="start" font-weight="normal" fill="#1a1a1a" >SLC20A2 pY354</text>
<circle cx="1279.0" cy="1061.8" r="5.6" fill="#e0101c" stroke="#4a0a0a" stroke-width="1.3"/>
<text x="1299.5" y="1068.5" font-size="20.7" text-anchor="start" font-weight="normal" fill="#1a1a1a" >SLC35E1 pY408</text>
<circle cx="1279.0" cy="1086.4" r="5.6" fill="#e0101c" stroke="#4a0a0a" stroke-width="1.3"/>
<text x="1299.5" y="1093.1" font-size="20.7" text-anchor="start" font-weight="normal" fill="#1a1a1a" >SLC4A7 pY127</text>
<rect x="803.8" y="1186.0" width="679.8" height="145.8" fill="#fcf3e8"/>
<line x1="803.8" y1="1186.0" x2="1483.6" y2="1186.0" stroke="#714a24" stroke-width="1.9" stroke-dasharray="32.97 35.01" stroke-dashoffset="16.49"/>
<line x1="1483.6" y1="1186.0" x2="1483.6" y2="1331.8" stroke="#714a24" stroke-width="1.9" stroke-dasharray="35.36 37.54" stroke-dashoffset="17.68"/>
<line x1="1483.6" y1="1331.8" x2="803.8" y2="1331.8" stroke="#714a24" stroke-width="1.9" stroke-dasharray="32.97 35.01" stroke-dashoffset="16.49"/>
<line x1="803.8" y1="1331.8" x2="803.8" y2="1186.0" stroke="#714a24" stroke-width="1.9" stroke-dasharray="35.36 37.54" stroke-dashoffset="17.68"/>
<text x="812.7" y="1169.8" font-size="20.7" text-anchor="start" font-weight="normal" fill="#1a1a1a" >Cell adhesion</text>
<circle cx="823.2" cy="1206.3" r="5.6" fill="#e0101c" stroke="#4a0a0a" stroke-width="1.3"/>
<text x="841.0" y="1212.7" font-size="20.7" text-anchor="start" font-weight="normal" fill="#1a1a1a" >AFDN pY1285</text>
<circle cx="823.2" cy="1231.2" r="5.6" fill="#e0101c" stroke="#4a0a0a" stroke-width="1.3"/>
<text x="841.0" y="1237.6" font-size="20.7" text-anchor="start" font-weight="normal" fill="#1a1a1a" >CD164 pY194</text>
<circle cx="823.2" cy="1256.1" r="5.6" fill="#e0101c" stroke="#4a0a0a" stroke-width="1.3"/>
<text x="841.0" y="1262.5" font-size="20.7" text-anchor="start" font-weight="normal" fill="#1a1a1a" >CLDN6 pY219</text>
<circle cx="823.2" cy="1281.0" r="5.6" fill="#e0101c" stroke="#4a0a0a" stroke-width="1.3"/>
<text x="841.0" y="1287.4" font-size="20.7" text-anchor="start" font-weight="normal" fill="#1a1a1a" >CTNND1 pY96</text>
<circle cx="823.2" cy="1305.9" r="5.6" fill="#e0101c" stroke="#4a0a0a" stroke-width="1.3"/>
<text x="841.0" y="1312.3" font-size="20.7" text-anchor="start" font-weight="normal" fill="#1a1a1a" >EMD pY19</text>
<circle cx="1048.5" cy="1203.6" r="5.6" fill="#e0101c" stroke="#4a0a0a" stroke-width="1.3"/>
<text x="1063.6" y="1209.9" font-size="20.7" text-anchor="start" font-weight="normal" fill="#1a1a1a" >EMD pY59</text>
<circle cx="1048.5" cy="1228.4" r="5.6" fill="#e0101c" stroke="#4a0a0a" stroke-width="1.3"/>
<text x="1063.6" y="1234.7" font-size="20.7" text-anchor="start" font-weight="normal" fill="#1a1a1a" >EMD pY74</text>
<circle cx="1048.5" cy="1253.2" r="5.6" fill="#e0101c" stroke="#4a0a0a" stroke-width="1.3"/>
<text x="1063.6" y="1259.5" font-size="20.7" text-anchor="start" font-weight="normal" fill="#1a1a1a" >EMD pY99</text>
<circle cx="1048.5" cy="1278.0" r="5.6" fill="#e0101c" stroke="#4a0a0a" stroke-width="1.3"/>
<text x="1063.6" y="1284.3" font-size="20.7" text-anchor="start" font-weight="normal" fill="#1a1a1a" >EMD pY105</text>
<circle cx="1048.5" cy="1302.8" r="5.6" fill="#e0101c" stroke="#4a0a0a" stroke-width="1.3"/>
<text x="1063.6" y="1309.1" font-size="20.7" text-anchor="start" font-weight="normal" fill="#1a1a1a" >LPP pY301</text>
<circle cx="1267.8" cy="1203.6" r="5.6" fill="#e0101c" stroke="#4a0a0a" stroke-width="1.3"/>
<text x="1286.4" y="1209.9" font-size="20.7" text-anchor="start" font-weight="normal" fill="#1a1a1a" >NECTIN2 pY454</text>
<circle cx="1267.8" cy="1228.4" r="5.6" fill="#e0101c" stroke="#4a0a0a" stroke-width="1.3"/>
<text x="1286.4" y="1234.7" font-size="20.7" text-anchor="start" font-weight="normal" fill="#1a1a1a" >OCLN pY368</text>
<circle cx="1267.8" cy="1253.2" r="5.6" fill="#e0101c" stroke="#4a0a0a" stroke-width="1.3"/>
<text x="1286.4" y="1259.5" font-size="20.7" text-anchor="start" font-weight="normal" fill="#1a1a1a" >RHOB pY154</text>
<circle cx="1267.8" cy="1278.0" r="5.6" fill="#e0101c" stroke="#4a0a0a" stroke-width="1.3"/>
<text x="1286.4" y="1284.3" font-size="20.7" text-anchor="start" font-weight="normal" fill="#1a1a1a" >TJP2 pY426</text>
</svg>
</body></html>
